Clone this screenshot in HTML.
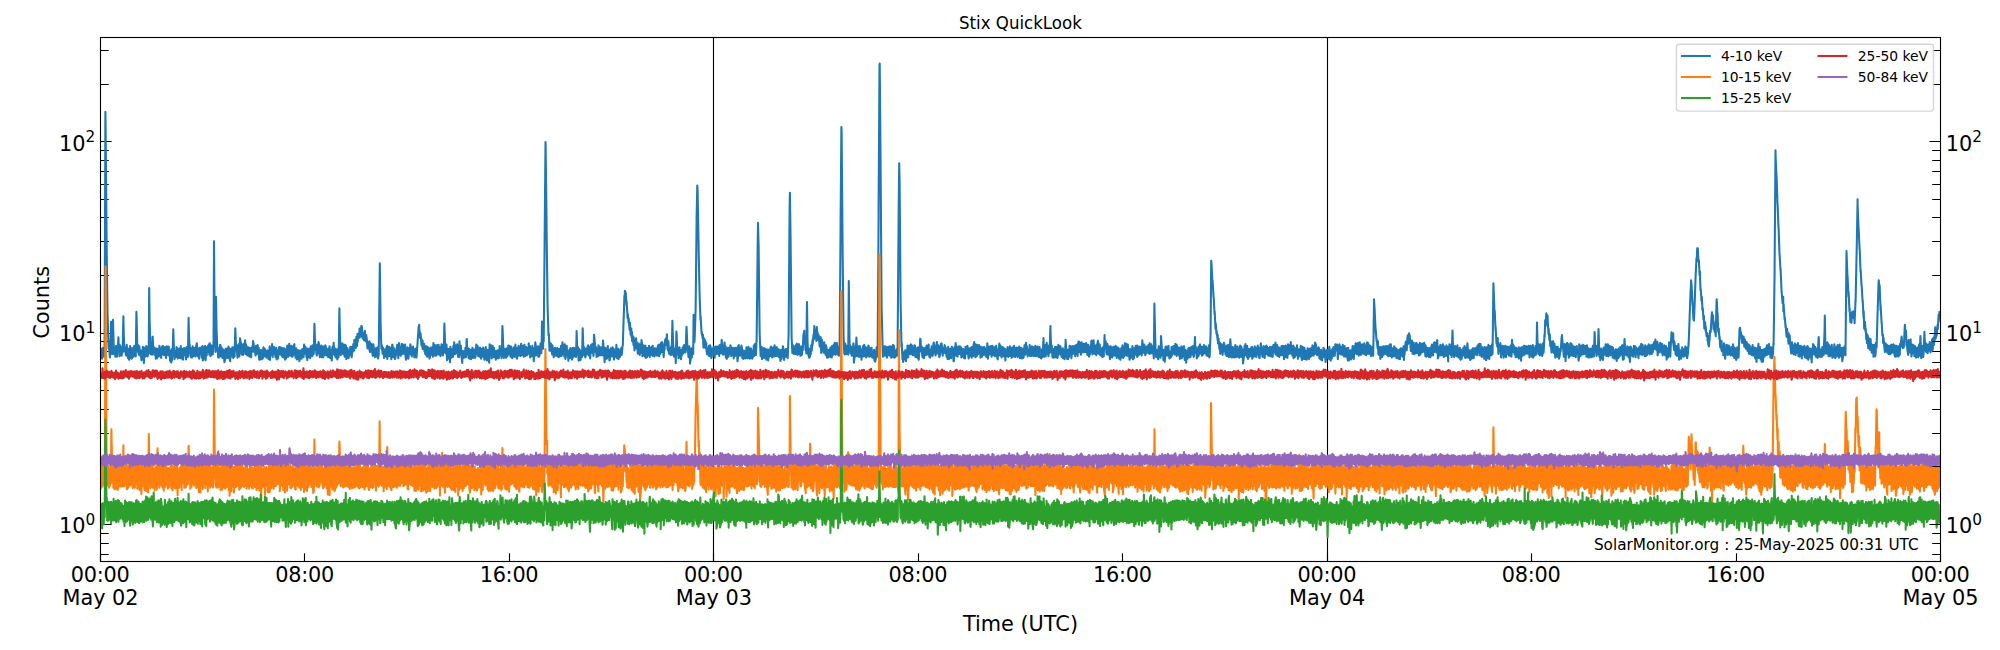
<!DOCTYPE html>
<html lang="en"><head><meta charset="utf-8"><title>Stix QuickLook</title>
<style>html,body{margin:0;padding:0;background:#fff}body{width:2000px;height:650px;overflow:hidden}svg{display:block}text{font-family:'DejaVu Sans','Liberation Sans',sans-serif;fill:#000}.t15{font-size:20.833px}.t12{font-size:16.667px}.t11{font-size:15.278px}.t10{font-size:13.889px}.sup{font-size:15.3px}.d{fill:none;stroke-width:2.083;stroke-linejoin:round;stroke-linecap:butt}.k{stroke:#000;stroke-width:1.111;fill:none}</style></head><body>
<svg width="2000" height="650" viewBox="0 0 2000 650">
<rect width="2000" height="650" fill="#fff"/>
<defs><clipPath id="ax"><rect x="100.50" y="37.50" width="1840.00" height="524.00"/></clipPath></defs>
<path class="k" d="M100.50,554.50h8.3M100.50,543.50h8.3M100.50,533.50h8.3M100.50,524.50h11.1M100.50,466.50h8.3M100.50,433.50h8.3M100.50,409.50h8.3M100.50,390.50h8.3M100.50,375.50h8.3M100.50,362.50h8.3M100.50,351.50h8.3M100.50,341.50h8.3M100.50,333.50h11.1M100.50,275.50h8.3M100.50,241.50h8.3M100.50,217.50h8.3M100.50,199.50h8.3M100.50,184.50h8.3M100.50,171.50h8.3M100.50,160.50h8.3M100.50,150.50h8.3M100.50,141.50h11.1M100.50,84.50h8.3M100.50,50.50h8.3M100.50,561.50v-8.3M304.50,561.50v-8.3M509.50,561.50v-8.3M713.50,561.50v-8.3M918.50,561.50v-8.3M1122.50,561.50v-8.3M1327.50,561.50v-8.3M1531.50,561.50v-8.3M1736.50,561.50v-8.3M1940.50,561.50v-8.3"/>
<g clip-path="url(#ax)">
<line class="k" x1="713.50" x2="713.50" y1="37.50" y2="561.50"/>
<line class="k" x1="1327.50" x2="1327.50" y1="37.50" y2="561.50"/>
<path class="d" stroke="#1f77b4" d="M100.7,358.1l.8-9.2l.1,.1l.5,9.6l.9-10.8v8.5l1.4,.4l.2-9.2v-.9l.8-234.7l.2,16l1,111v3.7l1,75.7v-2.8l1,32.9l.2-8.2l.8,13.3l.3,3.9l.7-12.9v1.7l.4-24.5l.6,22.2l.5,10.3l.5-7.5l.4-26.8l.6,22.3l.5,12.1l.5-6.1l.8,8.6l.3-1.5l.3-9.2l1,10.5l.4-11.1l.4,5.6l.6-13.7l.2,4.6l.9,14.3l.1-1.3l.6-9.6l.4,2.7l.3,6.6l.8,1l.5-8.6l.4,5.4l.8-36.2l.2,10.9l.7,24l.7-3.9l.6,5.4l.4,2.7l.6-9.9l.1-.8l.7,9.2l.6,4.2l.2-9.3l.4-.1l.5,11.1l.9-6l.1-7.8l.5,1.8l.9,10.9l.5-.4l.6-9.3l.2-.9l.6,7.7l.2,1l.6-11l.4,8.1l.6-8.2l.6,10.7l.6-44.6l.2,6.6l.7,28.3l.9,5.8l.1-7.1l.6,9.2l.4-8.3l.3,2.7l.9,7.2l.2-5.6l.7,9.5l.7-2.2l.3-6.1l.5-5.1l.7,12.8l.3,3.5l.7-13.1l.5-2.4l.2,9.1l.7-1l.3-9.6l.9,1.7l.4,8.8l.2-.8l.6-8.4l.3,5.9l.5-65.1l.4,31.6l1,34.5l.5-8.1l.1,8l.8,.6l.5-17.8l.2-.2l.8,16.5l.3-6.1l.4,7.6l1.1-6.5l.3,7.6l.2,3l.4-9.6l.7,9.3l.1-10l1.3,8.1l.2-6.1l.3,5.5l.6-10.3l.5,3.4l.2,6.5l1.1,2.2l.4-9.1l.3,3.6v-5.3l.9-1.2l.5,8.9l.7,.2l.3-7.6l.5,8l.5-7.3l.3-.9l.4,10.8l.7-11.6l.3,8.5l.6-8.1l.7,8.4l.4-8.5l.9,9.9v-6l.5,10.1l1.2,1.8l.2-13.2l.5,11l.5-10.8l.1,6.3l.7-26.4l.4,14l.8,15.8l.1-.8l.9-7.4l.5,6.4l.5-10.2l.3,1.9l.5,7.1l.3-7.6l.3,10l.7-1.1l.5-8.7l.7-.3l.5,9.7l.5-12l.7,12.3l.3-2.9l.7-6.8l.5,11l.6-11.2l.6-.5l.1,7.1l1.1-6.6l.2,6.1l.4,4.8l.6-8.3l.2-4.1l.7,10l.4-.2l.7-38.9v3.2l1,31.7l.1-8.2l.7,11.3l.6-7.5l.2,9l.8,0l.4-8.5l.3-2.7l.7,10.1l.9-8.2l.1,7.4l.7-5.7l.3,6.7l.2-.9l.3-8.3l.9-4l.6,12.3l.4-7l.6,8.2l.4-8.5l.4,10.5l.7-11.1l.2,5.8l1-6l.5,7.1l.3,3l.5-11.6l.2,3.6l.3,10.8l.7-2.7l.8-10.6l.6-1.2l.5,14.4l.2-1.2l.7-11.7l.3,7.9l.7-8.8l.7,5.4l.5-7l.1-.2l.7,10.1l.4-11.4l.7,12.8l.3-.9l.6-9.9l.2,.2l.5,8.8l.7,0l.8-13.5v-4.2l.4-95.4l.6,71.6l.9,39l.1-9.8l.4-45.3l.6,34.9l.9,19.2l.1-3.9l.6,10.4l.6,.1l.8-9.1l.1,5.9l.4-9.6l.6,1.5l.3,10.2l.7-8.7l.9,10.2l.1-3.3l.9-5.1l.1,1.1l.7,11.6l.9-3.2l.3-8.8l.4-1.6l.2,9.2l.4-8.9l.8,9.1l.3-2.5l.7-8.9l.5,1.8l.5,10.1l.8,2.8l.1-12.4l.4,8.7l.9-8l.2,5.3l.5-7.7l.9,10.7l.4-9l.1-1.5l.1,9.6l.8-.4l.7-28.4l.5,12.9l.5,8.5l.3-2.2l.9,10.3l.4-12.3l.4,8.2l.7-9.7l.3,12.6l.4-5.6l.3-12.7l.9,4.8l.7,10.5l.3,1.2l.7-9.8l.6,10l.4-11.1l.5,.4l.4,7l.6-10.8l.4,13.6l.5-9.8l.6,8.2l.1-6.1l.5,9.1l1-8l.3,7.4l.3-6.2l.4,7.9l.7-8.7l.6,8.8l.7,.7l.2-9.6l.7,3.9l.5-6.1l.2,4.6l.2-9l.7,3.1l.5,7.9l.9-5.4l.4,8.8l.4-.6l.1-9.1l1.1,.9l.3,6.8l.2-8.5l.8,9.5l.3-6.8l.5,12l1-.5l.3-7.8l.4-1.3l.6,9.1l.7-8.9l.4,8.4l.2-1l.6-10.4l.2,9.7l.5-8.6l.6,.3l.4,7.5l.7-5.7l.7,7.1l.2-.2l.8-5.4l.3-1.6l.7,8.7l.2-.3l.9-10.2l.1-2.3l.3,13.7l.8-11.8l.7,6.5l.5-.9l.1-9.7l.7,12.8l.1-10.2l1.2,.5l.1,6.4l.8-4.3l.4,7.6l.8-9l.3,9.8l.1,1.7l.4-8.9l1,8l.5-9l.2,5.5l.2-7.5l1.1-.4l.6,7.1v.6l.5-5.7l.5-1.3l.6,8.9l1.1,.6l.2-9.1l.7,6.2l.2-6.2l.2,2.9l.5,8.6l1.3-2l.2-8.6v5.1l.7-8.7l.4,1.2l.5,10l.6-4.3l.4-8.5l1.1,11.7l.3-8.7l.8,7.7v-8.9l.4,2.5l.3,8.6l.8-1l.1-8.2l1.4-3.5v10.3l.6-5.2l.5,8.6l.6-9.5l.4,8l.3,3.1l.1-9.8l.9,3l.2,6l.9-8.3l.4,11l.5-2l.3-7.4l1-1.6l.3,7.7l.2,.7l.8-9.6l.4,.3l.8,7.7v-1.1l.5-11.4l.8,9.1l.3-7.1l.7,2.3l.6,8.3l.3-8.4l.5,11.5l.5-11.7l.2,8.8l.6-1l.5-7.2l1.1,9.1l.2-10.1l.4-1.9l.8,8.8l.7,1.1l.3-10.8l.5,.8l.3,8.1l.4-.8l.6-29.8l.2,6.4l.7,19.5l.3-4.4l.9,9.3l.3,1.1l.3-10.9l.9,8.4l.5-11.1l.8,3.4l.2,9.1l.3,2.6l.1-9.5l.9,8.6l.6-10.6l.2,11.7l.8-10.8l.8,10.8l.3-10.7l.3,.1l.6,8.2l.2,.5l.8-10.2l.5,2.5l.4,7.3l.3,.3v-6.2l1.2,7.7l.6-8.2l.4,8.6l.7-10.9l.2,1.1l.5,10.6l.4-8.1l.8,7.9l.4,2.7l.6-13.2l.5-.8l.1,7.6l.7-11.2l.5,11.7l.8-6.1l.2,7.3l.5,1.6l.5-6.4l.9-1.9l.2,10.4l.7-9.8l.5,7.8l.2-3.4l.7-45.7l.2,12.8l1,31.5l.2,2.4l.6-9.7l.4,6.4l.5-8.4l.7,3.4l.1,7.5l.9-9.8l.4,9.2l.3,3.1l.8-11.7l.4,1.1l.4,13.1l1-3.7l.1-7.5l.8,3.2l.2,6.1l.2,.8l1-6.6l.1,3.4l.6-8.3l.7,.3l.6,10.3l.1-.3l.9-10.1l.3,4.7l.4-7.5l.9,6.4l.1-10.4l1,5.9l.1-6.6l.6,8.3l.4-11l.7,9.3l.3-12l.3,7.6l.6-7.9l1.1,4.1l.1-7.7l.2-1.6l.9,8.2l.1-.6l.6-10.1l.5,.3l.8,11.8l.4-4.4l.4,5.2l.6,1.3l.2-6.6l.7-2.9l.3,10l.5,.6l.5-6.3l.6,4.1l.7,9.4l.8-.2l.2-5.8l.9-1.2l.2,8.8l.3,1.8l.1-9.2l1.2,8.9l.4-7.6l.4,.3l.6,11.5l.1-.5l.6-11.1l.3,2.2l.9,9.7l.1-7.7l.4,8.7l.8-1.2l.4-7.9l.4,.8l.3,7.9l.8-9.5l.3,11.3l.7-3.8l.9-72l.2-19.3l.8,60v.6l.8,24.8l.6-3.3l.6,8.2l.3-6.2l.6,5.7l.3-2.6l.2,7.4l.6-8.4l.1,6.3l1.3,.8l.2-7.8l.9-3.1l.2,13.2l.4-5.2l.5-7.1l1.1,9.4l.1-9.2l.3,1l.9,8.2l.2-7.6l.5,10.6l.6-4.3l.3-10.2l.4,.7l.9,11.8l.3-9l.4,8.4l.6-6.1l.2,8.6l.8-3.3l.7-7.7l.4,6l.3-9.3l.4,2.3l.7,11.3l.7-15.2l.2,10.7l.5-7.2l.5,7.8l.6,1.3l.8-11.6l.4,10.1l.3-10.2l.4,8.7l.3-8.1l.8,1.6l.4,7.7l1-9.4l.2,10l.5,5.2l.6-11.3l.2,7.3l.5-7.6l.4-.7l.5,11.3l.5-1.8l.5-8.7l.7,6l.5-10l.5,2.3l.6,8.1l.5,1.9l.6-8.1l.6-1.9l.4,8l.3-5.7l.6,8.7l.3-.2l.9-7.6l.3-1.2l.6,8.9l.2-2.6l.9-12.4v-.6l1-14l.6-3.1l.1,10l.3-4.2l.5,7.5l.5-4.7l.9,12.1l.1-6l1,9.6v-8.5l.3,7.7l1.3-4.3l.3,7.2l.1-5.5l.6,8.4l1-7.6l.2,9l.3-8l.5,9.2l.4-9.8l.7,9.3l.5-7.8l.7,10.3l.5-1.9l.5-7.9l.1-1.3l.5,6.1l.6,1.1l.5-7.4l.7,9.3l.5-13.6l.2,4.5l.9,7.8l.4-10.2l.5,10.6l.4-8.1v8.2l1.2-1.2l.1-9.5l.9,7.3l.1-6.1l.5-1.6l.5,9.9l.9-7.2l.5,8.7l.3-1.1l.7-10.6l.4,.2l.7,8.2l.3,2.6l.5-8.3l.3,5.8l.7-29.4l.2,6.7l.9,22.5l.9,1.3l.1-9.4l.5,15.6l.4-10.4l.2-1.1l.4,7.5l.8,2.5v-9.7l1.2,13.1l.4-15.4l.2,1.9l.9,9l.4-8.3l.2,7l.8,.6l.5-11.1l.3,8.4l.5-11.8l.9,11.8l.4-9l.2,.8l.5,7.2l.4-.4l.6-8.6l.5,2.3l.3,10.2l1,.4l.5-15.7l.1,2.9l.4,10.1l1-8.6l.4,10.1l.9,7l.1-11.7l.3-.1l.3,7.1l.6-6.9l1,6.2l.5-1.9l.3-7.8l.6,9.4l.6-17.5l.2-.7l.5,15.3l.9-5.9l.2,7.5l.3,2.3l.7-9.1l.8,9.8l.3-6.3l.5-2.5v9.1l.6-2.2l.8-9.1l.3,3.7l.4,6.4l.9-8.7l.5,7.5l.3-6.2l.2,7.3l.6-1.2l.7-12.1l.4,9.2l.7-7.9l.5,1.6l.3,8.8l.8-8.3l.1,5.3l.9,3.6l.1-9.4l.5,1.6l.5,9.7l.6-2.6l.4-7.4l.9,7.7l.2-9l.5,3.9l.6,8.4l.7-9.3l.2,7.3l.6-10.7l.8,12.8l.3,.5l.1-7.7l.6,6.2l.1-9.1l1.5,12.9l.4-18.4l.1,1.9l.3,8.8l1-9.7l.6,12.9v.3l.9-9.2l.1-3.5l.2,11.6l1.2-9.7l.5,9.6l.1-6.8l.9,5.7l.3,3.4l.8-8.5v-.4l.9,7.4l.1,.1l.2-8l1,7.9l.6-7.8l.3-4.2l.7,8.7l.4-5.4l.7,8.7l.4-2.1l.5-29.9l.2,3.1l.8,22.2l.5,6.5l.5-9l.6,6.9l.5-7l.1,.2l.4,8.6l1.4-9.9l.1,8.5l.1-.7l.6-10l.4,8.8l.5-8.5l.7,.3l.7,10.4l.5-10l.5,10.7l.8,.9l.3-9l.7,7.4l.2-9.2l.7,1.4l.1,6.6l.3,1.5l.8-12.2l.4,4.7l.6,7.3l.6,2.1l.6-10.8l.2,8l.8-10l.2,.2l.4,9.3l.7-7.8l.6,8.4l.6-12.2l.5,10.1l.1-5.9l.3,7.2l.7-.8l.1-8.5l1,10.7l.6-11.7l.4,2.3l.5,8.8l.5-.9l.4-8.1l.8,8.2l.6-7.5v5.6l1-6.8l.1-3.1l.7,11.3l.6-8.4l.2,11.1l.7-2.7l.6-7l.2,8.6l.6-10.5l.4,10l.5-7.8l.6,13.2l.5-10.7l.3,5.6l.7-13.8l.7,5.2l.4,7.8l.7-8.2l.1,8.4l.8-9.3l.5,10.4l.4-9.9l.3,9.9l.6-3.8l.7-9.3l.8,9.8l.3-8.4l.1,.7l.3-24l1,27l.5-12.9l.2,5.8l.9-96v-1.5l.9-102l.1,2.8l1,80.7v4.4l1,77.3v-1l.9,29l.4-1.1l.6,16.7l.7-7.7l.2,7.3l.5-6.9l.7,7.7l.7,3.3l.1-9.3l.4,3.7l.8,6.4l.1,1.8l.3-7.9l1-1.4l.5,7.6l.5-6.8l.4,7.2l.9-7.8l.3,6.5v1.8l.9-6.6l.2,7.6l.5-8.6l1.2,1.1l.1,6.5l.5-10.5l.4,10.1l.3-.2l.8-13.3l.3,3.2l.7,8.9l.7-7.5l.2,9.7l.4-12.4l.6,14.6l.6-3.4l.2-7.3l.5-2.4l.5,8.7l.7-3l.4,9.3l.3-2.5l.8-8.4l.4,8l.5-9.8l.8,2.4l.3,6.4l.6,2.7l.4-11.2l.4,9.3l.6-10l.8,1.2l.2,7.4l.8,0l.4-8.5l.4,9.2l.6-23.2v-2.8l.8,23.5l.6-7.5l.5,11.9l.2,1.7l.5-11.5l1,1.7l.3,9.1l.3-2.2l.7-6.9l.6,6.2l.5-24.8l.1-4l.9,26.4l.3-7.7l.1,8.2l.6-6.9l.7,9.3l.4-1.6l.4-7.4l1.3,5.7l.2-7.5l.4-1.4l.5,9.2l.4,1l.6-8.6l.1,1l.6,10.5l.8-13.3l.3,7.6l.9-8.6l.2,8.6l.4-7.5l.6,10.7l.2-1.4l.4-19.8l1,9.6l.4,7.5l.4-5.1l.8,10.3l.1-8.4l.3,5.6l1,2l.4-10.9l.5,10.2l.5-9l.7,2.1l.5,6.7l.6-.4l.3-7.7l.3,.1l.2,6.7l.6,1.4l.4-14.8l.7,8.2l.6,7.8l.3,5.5l.5-14.4l.7,11.4l.6-10.6l.6,10l.4-9.4l.4-3l.5,10.8l.4-6.9l.7,10.5l.4-.4l.6-10.6l.3-1.3l.4,8.2l1.4-9.1l.1,8.5l.1-8.1l.7,9.8l.4-8.6l.2,10.7l1.2-9.3l.3,6.5l.2-.3l.7-11.8l.2,6.6l.3,6.7l1.2-9.2l.3,10.4l.6-8.8l.5,7.1l.6-.8l.3-7.5l.8,5.3l.3-7l.2,7.5l.9-9l.2,0l.8-26.7l.1-.8l.7-22.7l.3,2.4l.2-7.5l.8,2l.9,13.1v-4.6l1,17l.2-4.1l.7,8.3l.1-4.4l1,11.6l.4-6.7l.6,11.9l.7-6.3l.2,8.4l.5-4.9l.1,9.1l.5-5.4l.9,9.2l.2-7.6l.8,13.2l.2-10.1l.1,9.1l1.3-11.3l.3,10.1l.6-6l.6,8.7l.2,2.7l.6-7.7l.4-2.4l.6,9.9l.4,1.5l.4-10.2l.7,8l.6-12.7l.6,5.1l.3,11l.9-9.6l.2,6.9l.1-8.2l.5,9.2l.6,1.6l.8-10.3l.2,12.2l.2-9.7l1,9l.5-9.2l.2,7.1l.9-6.8l.1,7.2l.4-9.7l.8,11.1l.6-9.2l.8,.4l.3,6.6l.3-8.1l.8,9.2l.1-10.2l.2,9.5l.8-6.9l.7,8.2l.2-.5l.4-7.7l.9,.8l.2,4.8l.8,1.7l.6-8.6l.2,8.4l.4-10.2l1.1,11.1l.1-11.8l.7,0l.4,9.3l.7-11l.3,8.9l.2,.4l.5-10.1l.5,1.9l1,11.5v1.7l.9-10.4l.1,2.8l.4-9.5l1.2-1.7l.2,6.6l.5-10.7l.6,14.3l.5,1.9l.4-9.2l.3,3.9l.3,8.5l.8-5.4l.5,6.2l.4,.6l.6-8.7l.4,8.4l.7-33.9l.2,7.2l.9,25.9l.4,2.6l.7-7.9l.4,.7l.6,8.4l.2,5.4l.6-31.5l.3,3.6l.7,19.1l.6-6.6l.5,10.6l.3-2l.7-9l.2,3.7l.7,5.6l.6,2.7l.5-9.6l.2,5.9l.9-7.9l.7,5.7l.1-7l.3,4.2l.4-5.5l1.1,7.3l.3-7.3l.2,4.1l.8-22.3l.2,3.7l.9,21.3l.1-5.4l.8,10.7l.1,0l.6-10.9l.6,4.2l.2,13.1l.8-5.4l.7-10l.2,9.4l.7-7l.8,3.4l.4-39.2v4l.7,23.4l.3-2.3l.9-26.9l.1-1.1l1-91.1v-4.4l.7-30.8l.3,6.2l1,54.1v3l1,45v1.3l.9,24.8l.1-4l1,17.8l.2-1.6l.8,6.2l.4-3.6l.4,11.7l.2,1.1l.2-9.6l1.6,3.3l.1,7l.7-5.5l.4,9.2v-4.8l.4,7.1l.7-5.3l.8,5.9l.4-9l.4,10.4l.5-.8l.4-10.3l.5,2.7l.7,10.2l.4-2.1l.3-7.1l.8,5.7l.7-7.7l.4,.1l.1,9.1l.6-8.2v9.8l1-11.1l.1,7.6l.9-.6l.6-7l.7,7.1l.2-7.1l1,9.3l.2-7.9l.2-3l.3,8.3l1.1,0l.4-8.8l.3-4.6l.8,13.3l.3,1.3l.7-9.3l.2,9.6l.7-12.3l.3,.7l.3,10.3l.7-6.9l.2,10.7l.9,1.5l.6-10.8l1-.1l.1,8.9l.1-1l.9-6.2l.2,4l.7-8.4l.5,2.2l.2,8.5l.7-8.3l.4,7.5l1.1-1.1l.1-5.9l.3,10.3l.9-9.6l.2,7.2l.3-8.2l.7,1.4l.3,6.6l.8-7.9l.6,13.4l.6-5.2l.2-10.3l.5-.7l.3,10.4l.8-7.6l.3,7.9l.5-1l.7-9.2l.4,1.3l.6,11.2l.9-7.5l.1,8.4l.7-7.8l.3,6.4l.5-6.9l.6,7.7l.9-.8v-10.2l.7,.8l.3,8.7l.6,1.5l.5-11.6l.2,1.5l.8,8.8l.3,1.5l.5-10l.3,9.3l.3-9.6l.8,2.9l.5,7.4l.7-1.6l.7-7l.2-4.4l.4,10.3l.4-3.3l.3-8.5l1.1,10.8l.5-13.7l.1,1.3l1-88.3v-2l.4-29.4l.6,22.4l1,84.9v2.3l1,23.7l.3,0l.3-8.4l.5-.8l.4,12.2l.7-10.3l.6,7.6l.4-8.4l.4,10l.9-9.3l.5,8.4l.5-7.8l.2,10.4l.8-1.8l.3-8.3l.8,10.9v-10.9l.6,8.2l.2-7.4l.6,5.2l1-8.3v8.6l.5-9.3l.8,1.5l.2,9.3l.9-2.2l.2-7.5l.7,8.8l.7-11.1l.1,2l.9,8.4l.2,.2l.6-8.6l.4-.2l.5,8.6l.7,.4l.4-7l.4,.2l.3,7.7l.9-6.1l.4,10l.6-11.2l.5,9.1l.1-.4l1-8.1v5.5l.3-9.7l.9,4.4l.3,9.3l.7-9.6l.7,6.5l.2-.5l.2-7.3l1,.4l.6,8.3l.2,.5l.9-23.4v.7l1-127.2l.3-15.6l.7,46.7v2.4l1,94.6v1.1l.8,15.7l.4-8.1l.2,7.9l1.2,1l.4-7.4v7.4l.8-8.3l.6,8.3l.4-9.7l.5-.6l.6,11.2l.2-2.1l.6-7.8l.6-.8l.5,9.9l.3-7.3l.7,9l.8-9.5l.3,8.9l.3-.4l.8-8l.2,3.5l.5-14.3l1-5.3l.2,10.6l.2-5.1l.8,13.7l.2-5.4l.6,8.9l.7-51.3l.6,42.5v-1.2l.8,12.1l.4-7.1l.3,9.3l.8-.9l.3-7.7l.6,5.1l.4-8.9l.5,5.4l.9-11.2v5.3l.9-10.3l.3,5l.5-13.4l.3,11.8l.1-8.1l1.2-.1l.4,11.2l.5-13.8l.6,12.8l.2-7.3l.9,7.7l.2-5.3l.9,10.4l.2,1.2l.6-8.9l.3-.6l.5,15.8l.8-13l.5,9.2l.1-5.9l.8,7.8l.3,1.6l.5-10.4l.8,11l.4-7.7l.2,9.5l.4-9.6l.6,2.8l.4,9.6l.7-7.4l.4,7.1l.9-7.7v7l.6-.5l.8-8.7l.5,9.5l.3-8.5l.6,8.8l.2-11.3l.7,9.2l.9-9.5l.2-1.3l.2,9.5l.9-11.1l.5,11.7l.4-.1l.1-8.6l1-2.9l.7,11l.4,.7l.4-7l.6,7.9l.3-9.5l.3,2.5l1-124v-5.6l.8-92l.2,5.1l1,115.5v4.1l1,85.7v-.3l.7,16.3l.4,.9l.5-10.7l.7,10.7l.6-7l.2-1.5l.7,7.9l.8,.9l.4-43.8l.2-29.8l.8,66.7l.1-3.6l.8,9.3l.3,.1l.4-6.8l.6,8.9l.4-8.9l.6,8.8l.6-12.1l.4,2.4l.1,16.8l.9-7.7l.6-7.2l.2,8.8l.8-18.9l.3,4.6l.3,10.2l.6,3.9l.6-9.9l.6,3.3l.4,7.2l.7-10.9l.7,9.5l.1-5.9l.8,10l.4-5.7l.5-4.8l.6-3l.4,10.3l.3-3l.5-8.7l1,11.5l.4-9.1l.2,1.2l.4,9.2l.5-.8l.1-8.4l1,7.2l.5-10l.4,.8l.5,10.5l1-8.4l.2,7.8l.2-.2l1-8.2v.9l.6,8.8l.9,.3l.4-5.7l.6-2.3l.3,10.6l.3-9l.5,10.3l.6-3.2l.8-10.5v-.7l.8,9.3l.2-1.5l1-136.6v-11.7l.9-141.8l.2-1.4l.9,99.1v4.9l1,138.1v1.9l1,38.7v.8l.4,9.7l1.3-1.5l.2-8.9l.4,8.3l.4-8.5l.9,1.7l.1,8.2l.7,1.5l.3-10.6l.4,8.5l.1-7l1.3-2l.3,9l.3,.2l.5-9.3l1,11.2l.2-11.1l1,10.6l.1-8.1l.5,4.7v-8.9l1,1.3l.3,11.7l.6-7.3l.1,6.8l.6-.7l1-7.6l.4,6.8l.6-9v2.4l1-130v-1.8l.6-54.2l.4,18.2l1,119.9v.4l.9,45l.2-4l.8,16.5l.6-5.8v8.6l1.1-4.1l.2-6.6l.5,6.7l.4-7.6l.7,10.9l.4-11l.7,7.3l.4-12.1l.1,3.1l.6,8.7l.6-11.5l.4,7.8l.6-8l.7,8.6l.1-.8l.3-9.1l1,1.4l.3,8.1l.5,1.4l.1-7.6l.8,7.7l.8-10l.6,.4l.5,11.2l.3-9.2l.7,7.3l.3,2.3l.6-7.2l.5,8l.1-10.7l.7,12.3l.8-9l.2,1l.5-13l.4,1.2l.4,11.2l.7-4.6l.5,8.8l.4,2l.7-9.3l.7,10.3l.5-8.8l.2,6.3l.4-8l.8,7.2l.7-9.5l.3,1.5l.1,7.6l1.3-.6l.3-9.5l.1,3.7l.7,8.6l.8,.8l.4-7.7l.4,5l.6-8.5l.2,.4l.7,9.2l.4-1.5l.5-10.4l.4-1.5l.8,9.9l.1-5l.8,8l.2-1.3l.3-7.6l.9-4.6l.6,11.4l.3-8.5l.5,8.3l.4-7.1l.6,11l1-3.1l.2-7.6l.5-2.9l.2,8.3l.4-8.2l1,8.7l.1,3.4l.9-7.8l.6,4.3l.4-7.2l.4,1.6v6.6l.8-5.6l.8,9.4l.9-6.5l.1,8.6l.2-1.1l.4-11.1l.8,12.1l.4-8l.8-2.2l.1,8.1l.5-8l.2,9.4l.9-11.5l.5,7.2l.4-5.6l.7,12.9l.3,0l.8-14.2l.3,8.4l.7-12.5l.4,2.8l.4,9.9l.8,.8l.2-6.2l.2,6.1l.6-9.9l.5,0l.3,7.4l.8-7.6l.6,7.9l.6-6.8l.3,10l.9-1.9l.2-5.8l.6-.8l.6,8.6l.2-7.9l.1,8.5l1.2,.4l.4-11.8l.1,1.1l.3,6.3l.9-.5l.6-7.9l.2,3.3l1,9.4l.5-1.6l.3-8.5l1,7.3v-6.7l1.1-1.7l.1,10.6l.8-10.6v7.9l.7,1.1l.5-11.9l.4,8.3l.2-10.5l.4,4.5l.8,10.7l.4-13.1l.3,12.4l.8-.9l.4-10.6l.9,1.1v7.9l.5-.9l.3-8.1l.9,2.8l.6,9.7l.5-10.7l.5,9.3l.5,.6l.5-7.9l.4-1.5l.4,7.6l.5-.9l.3-7.4l.7,1.3l.7,7.7l.2-7.2l.7,8.4l.5-.3l.4-13.3l.6,15.3l.7-9.6l.2,6l.5-8.5l.3,1.1l.8,6.6l.5-8.2l.5,7.7l.2,2.9l.9-10.8l.3,1.2l.7,8.3l.3-.7l.7-7.2l.4,8.9l.7-7.5l.6-3l.3,7.8l.1-5.3l.5,8.9l.7,2.3l.2-9.7l.6,3.5l.7-9.7l.5,11.9l.7-10l.5,3.5l.4,7.2l.3,1.3l.9-9.6l.1-.8l.6,8.3l.6-7l.1,8.1l.6-8l.8,11.9l.4-10.9l.8,6.4l.1-.4l.9-8.5v1l.6,8.9l.7-8.7l.4,7.8l.6-.3v-9.4l.9,2.6l.8,8.9l.5-1l.4-9.4l.9,.2l.2,8.9l.5-10.8l.4,8.6l.3-6.5l.2,9.2l1-2.3l.6-7.2l.1,.2l.9,9.4l.2-1.1l.2-7.9l.9,7.1l.3-8.7l.7,11.8l.7-10.5l.3,0l.6,8l.1,2.6l.8-9.8l.4,9.5l.6-8.7l.2,8l.9-12.1l.8,9.4l.2-8.7l.5-3.2l.5,10.4l.1-.3l.4-6.6l.7,10.2l.1-6.9l1,.1l.6,5.3l.2-10.1l.5,11l.8-8l.2,8.1l.5-1l.3-8.7l.9,9.4l.3-8.7l.6,3.1l.4,6.2l.6-1l.6-9.5l.6,2.5l.1,7.9l1.1-1.2l.5-8.5l.3,.8l.5,9.4l.6,.5l.5-10.1l.1,.3l.7,9.9l1,1.2l.2-9l.2,.7l.1,5.9l.8,.8l.9-18.8l.1,3.3l.8,15.4l.9-2.6l.1-9.2l.4,11.3l.7-9.9l.2-3.7l.9,11.1l.5-7.8l.3,10.3l.9-11.2l.2,8.1l.1-.6l.8-26.5l.2,9l.9,17.3l.3-6.8l.7,11.9l.4-7.9l.1,6.3l.8-6.8l.2,8.5l1.1-10.8l.4,9.7l.5,.8l.3-10.4l.6,.2l.6,10.8l.1-1.2l.8-11.9l.4,9.8l.3-8.7l.8,7.4l.5-7.1l.2,2l.5,6.7l.7,2l.6-6.9l.4-1.7l.1,9.8l.8-8.1l.7,8.1l.2,1.2l1-16.7v-2.8l1,16.5l.6,2.6l.4-9.1l.6,9.2l.3-9.5l.5,7.5l.6-11.3v1.3l.7,7.6l.5-8.3l.6,12l.2-3.9l.3-7.9l.8,7.7v-8.2l1,6.6l.8-6l.2-.7l.5,10.4l.6-10.9l.5,8.6l.8-9.5l.5,11.4v-.4l.8-13.9l.8,.1l.2,8.5l.3,2l.5-9.5l.7,12l.7-11.5l.1-1l.2,9l1.3,1.2l.4-8.6l.4,8.2l.3-8.2l.5,.6l.1,7.4l.8,.1l.4-8.9l.5,2.7l.8,9.3l.2-.8l.7-9.4l.7,3.9v7.9l.9-2.4l.7-7.6v5.3l.8-11.1l.3-.2l.7,13.8l.4-1.1l.8-13l.1,2.2l.7,11.2l.3-8l.7,7.1l.5-7.5l.3,10l.4-2.9l.5-7.6l.9-4.1l.3,12.9l.4-10.1l.8,9.6l.3-8.2l.3,10.1l.7-6.2l.4,7.1l.4-7.6l.8,8.6l.5-9.6l.4,7.6l.4,1.5l.9-21.3v2.4l.7,10.8l.4-7.1l.8,12.7l.8-1.2l.1-8.9l.6,11l.3-8.6l.6,.4l.6,7.1l.5,5.5l.6-11.7l.2-1.1v9l1.3,2l.4-9.8l.5,6.7l.6-7.6v8.9l.4-8.1l.7,8.1l.8-9.7l.4,.4l.6,8.8l.2,2.8l.7-10l.3-.5l.9,6.5v-5.9l.4,10.4l.7-8.8l.6,10.2l.4-4.3l.6-7.4l.4,9.3l.8-12.2l.1,1.8l.6,11l.8-11.2l.3,9.5l.3-3.7l.3-9.2l.9,11.5l.5-11.2l.3,2.5l.4,9.5l.9-11.2l.6,11.4l.4-6.7l.6,10.6l.2-1.3l.5-9.4l.4,9.1l.5-8l.5,5.5l.8-9.7l.3,4.6l.2,8.6l1.2-1.1v-9.8l.6,6.1l.8-6.7l.2-1.8l.5,9l.9-9.3l.1,11.3l.9-1.4l.2-8.4l.5,7.9l.3-8.5l.6,7.7l.5-7l.4,6.4l.2-6.9l.9,8.8l.6-15.1l.4,3.4l.5,9l1,0v-8.2l1.1,10.7l.3-8.4l.1,7.3l.8-7.4l.3,5.6l.6-6.1l.4,6.5l.7-7.7l.9,8.9l.2-9.7l.1-.9l.9,8.6l.2,1.5l.4-9.3l.6,8.6l.1-6.2l.7,6.7l.2-7l1,12.2l.6-54.9l.2,10.4l1,38.7v-2.8l.5,7l.6-6.8l.7,7.3l.9,1.9l.2-10.7l.3-2.3l.5,9.4l.4-8.8l.8,10.7l.3-4.8l.2-16.8l.8,11.8l.7,7.7l.4-5.6l.5,10.3l.8-10.5l.3,7.9l.3,4l.8-14.9l.8-.1l.2,8.8l.2,.2l.5-7.8l.7,7.9l.5-9.8l.1,3.4l.8,9.1l.5-6.6l.7,5.9l.5-.7l.4-10l.4,.7l.1,7.7l.9-8.9l.1,7.4l1-7.9l.4,7.9l.4,.6l.6-10.6l.8,1.3l.4,10.8l.2-11.2l.6,9.4l.9,.5l.1-7.1l.8,.2l.3,8.3l.2-7.5l.1,10.3l1.2-2.9l.3-9.4l.3,1.8l.2,9.8l1.2-3.3l.4-8.3l.6-.4l.5,11.9l.3,1.9l.7-10.2l.3,.4l.4,12.5l.5-11.1l.8,7.2l.2-2.8l.5-7.2l.9-1.1l.1,9.6l.8-9l.5,8.6l.1-1.4l.8-8.8l.5,1.3l.3,6.4l.8-8.3l.6,10.8l.4-.9l.5-8.5l.5-10.5l.4,15.7l.3-6.1l.8,7.4l.3,4.4l.6-9.4l.5,7.8l.4-9.7l.4,8.7l.3-8.4l1.1-3l.2,8.9l.6,.4l.5-6.9l.6,9l.6-9.1l.3,7.9l.7-7.9l.1,7.1l.3-8.7l1,8.2v-6.3l1.1-.7l.4,9.2l.5-7.5l.2,7.2l.8,.8l.5-7.2l.4-3.5l.4,12.2l.4-2l.9-22.7v.3l.6-72.4l.4,4.5l.8,18.6l.2-2.9l1,17l.1-.3l.9,17l.1-3.1l.8,17.5l.2-5.6l.8,10.5l.1-3l1,8.9l.1-4.9l.3,8.6l.6-4.8l.8,10.1l.5-6.1l.3,11l.5-2.7l.3-7l.9,.8l.5,7l.2,3.2l.9-11l.1,7.3l.3-8.4l.9,2.8l.7,8.6l.7-6.4l.3,8.1l.2-2.1l.3-8.4l.8,10.4l.5-11l.6,2.8v9.5l.7-1.9l.7-15.9l.6,8l.3,9.8l.5-9.8l.3,10l.9-10.3l.6,9.8l.5,.6l.6-9l.2,5.8l.5-9.2l.7,12.2l.4-10.5l.9,9.1l.2-8.6l.1-.8l.3,10.2l.8-8l.5,9.1l.9-12.2l.5,10.2l.1,1l.5-10.3l.7,3.6v6.9l.8-7.4l.3,13.8l1-7.5l.5-9.8l.3,9.4l.6-11.5l.5,11.2l.5-9.2l.8,11.4v-11.7l.8,13.2l.5-9.8l.1,8.5l.9-8.1l.2,6.9l.4-7.5l1.1,7l.3-9l.4-.1l.3,11.9l.7-2l.6-7.8l.3,7.8l.8-10.4v1l.9,8.6l.5-8.1l.3,9.3l.3-1.3l1-9.4l.2-.8l.8,8.9l.1-6.5l.4,9.5l.5,.7l.8-10.1l.4-4.8l.7,11l.2-5.7l.8,8.3l.3-2.2l.5-8.1l.4-.6l.9,11.9l.2-1.3l.2-8.3l1.4-2.8l.1,8.5l.6-7.2l.5,8.1l.5-6.9l.1,7.6l.4-7l.3,7.2l1.1-8.9l.5,9.3l.4,.2l.7-8.9l.4-.6l.4,9.1l.2,.9l.8-11.8l.6,6.6l.4-6.9l.2,7.7l.8-9.9l.2,1.3v10.6l1.5-9.5l.3,10.9l.5-9.1l.6,9.3l.7,.8l.2-9.2l.5,7.4l.6-6.4l.4,6.4l.6-9.1l.2,9.1l.1-8.3l1-1l.8,10.3l.4-10.1v13.2l1-11.9l.3,10l.5-11.8l.7,10.8l.3-9.5l.6,11.1l.2-4.3l.4-9.3l.8,9.6l.4-8.6l.9,8.1l.5-8.5l.2-2.9l.5,11.5l.5-7.7l.6,9.9l.9-10.1l.2,12.6l.4-2.4l.4-8.5l.4,.8l.1,8.9l1-7.7l.4,6l.8-9.9l.5,8.4l.5,5l.6-9.3l.3,6.9l.7-7l1,6.3v-8.4l.2-1.5l.3,10.3l.8,3.9l.7-10.7l.1-2.5l.7,11.7l.5,.5l.6-11.1l.2,4.6l.2,6.4l1-7.9l.7,8.6l.1-.9l.9-10.4l.1,.5l.6,9.7l.4-7.6l.3,8l.6-10.2l.5,8.2l.7-.5l.6-8.7l.5,7.9l.6-10.2l1.1,1v9v.2l.1-8.9l.9,7.2l.4-11.3l1.1,2.4l.4,8.9l.3-5.7l.4,7.1l.7-1.5l.6-6.4l.5,.8l.4,10l.2,.3l.6-7.8l.4,8.7l.5-9.7l1,10.8l.5-9.4l.6,6l.3-9.2l.5,8.6l.2-7.7l.6,1.7l.4,6.7l.4,4.8l.9-11.5l.1,8.2l.5-8.8l.6,.1l.1,7.3l.8,1.4l.7-12l.5,3.9l.2,8.9l.8,1l.8-8.5l.2,6.5l.1-8.5l1-1.6l.2,7.9l.6-9.3l.4,7.6l.7,1.1l.5-11.4l.7,6.2l.4-5.7l.9-.2l.2,7.4l.3,7.2l.7-11.9l.1,5.7l.9-8.7l.2,1.2l.7,8.9l.4-.2l.3-7.2l1.2,7.8v-7.1l.5-3l.7,10.2l.7,1.6l.3-10.5l.3,2l.4,6.8l.9,1.9l.3-7l.6-1.6l.5,9.1l.3,3.2l.4-12.6l.8,12.7l.5-9.2l.8,7.2l.2-8.3l.7,9.2l.3-7.8l.1,6.7l1-12.2l.2,1.1l.7,8.4l.3,3.3l.6-12.7l.8,7l.4-9.9l.4,2.7l.1,7.6l.7,.4l.8-11l.1,.2l.8,9.8l.2,2.6l.8-13.2l.3-.1l.8,9.6l.2,3l.7-10l.3,8.8l.5-9.4l.9,.5l.3,8.9l.2-1.9l.5-8.5l.7,3.7l.3,7.6l.8,.5l.5-8.3l.5-4.3l.5,11.2l.4-11l.3,11.3l.5-9.4l.8,8.6l.7-7.3l.2,8.6l.6-8v9.6l1.4-1.8l.1-7.6l.7,9l.4-21.2v-.6l.4-34.7l.6,9.9l1,21.1v-1.6l1,12.5l.1-1.8l.9,9.2l.4-7.1l.3,12.3l.5,1l.7-7.7l.5,.1l.3,11.8l.7-10.1l.4,7.8l.7-9.7l.1,10.1l.7-2.3l.3-8.5l.5,.9l.1,7.3l.9-.1l.3-8.1l.7,7.2l.6-7.3l.5,8.6l.7-6.8l.2-1.5l.5,9.8l.5-1.6l.7-9.5l.3-.6l.3,11.5l.8-11.8l.6,11.8l.5,1.4l.7-8.4v-.7l.5,7.6l.8,.4l.3-9.9l.5,1.3l.1,8.5l1-7.8l.7,9.7l.1-9.1l1,8.8l.2-7.4l.6,8.3l.2-.9l.8-8.3l.5,9.8l.7-10.8l.1,6.2l.1-6.4l1.6,.7v7.6l.6-.9l.6-9.5l.3,13.8l.5-12.2l.2,6.9l.8-10.7l.4-2.4l.5,8l.4,.8l.8-13.5l.3-1.6l.3,8.7l1-10.7l.1,9.3l.5-7.2l.8,10.7l.3,4.9l.8-9.4l.3-1l.5,10.1l.2,3l.4-10.5l.7-.6l.5,11.6l.4-9.9l.9,8l.5,1.1l.2-10.6l1.1,1.5l.3,6.2l.2-5.8l.1,8.5l.7-7.5l.3,9.8l.9-12.8l.5,12l.6-2l.5-8l.9-1.2l.2,8.6l.4-.3l.1-7.2l.7,6.6l.5-8.5l1.2,13.5l.1-10.9l.2,2.1l.7,9.2l.4-.6l.1-8.2l1.1,.5v6.7l.9,1.9l.7-8.8v-.1l.6,9.3l.5-1.1l.7-10.2l.5-1.4l.3,10.3l.8,.6l.2-8.1l1.2-5.2l.2,9.7l.4-.8l.6-7.7l.4-.7l.6,6.4v3.6l.6-12.7l.4,8.3l.3,10.1l1.1-3.2l.3-8.3l.6,7.3l.5-9.4l.5,10.7l.5-9.8l.6,.3l.4,9l.3-1.5l.2-9.3l.8,12.8l.6-10.5l.5,9.6l.4-8.3l1,7.7l.2-10.1l.5,10.6l.6-9.1l.7,14.5l.2-14.2l.3,7.1l.7-10l.6,.7l.6,8.6l.3,1.3l.7-7.1v9.1l.9-26.4l.1,3.7l.7,19.3l.8,3.4l.3-9.3l.3,7.7l.3-9.3l.7,1.7l.7,8.5l.4-.2l.6-10.8l.3,4.8l.7,7.5l.2-1.2l.6-6.9l.6-1.6l.5,11.4l.3,.5l.3-9.8l.7,8.9l1-9.5l.2,6.4l.6-7.8l1,7.6v-7.4l.2-2.1l.6,11.9l.7-9.7l.5,9.2l.2-2.4l.8-11.6l.2,1.6l.7,12.8l.4-8.1l.9,7.1l.7,3.2l.3-8.4l.1-1.1l.9,8.1l.2-.6l.2-8.5l.6,7.5l.2-8.7l.8,9.8l.8-9.8l.3,6.5l.2-5.6l.9,5.2l.5-6.9l.7,7.6l.6-9.5l.3-.3l.5,7.1l.8-8.7l.3,11.6l.2-1.3l.8-10l.2,2.8l.2,8.7l1,1.5l.5-9.7l.2,0l.2,7.5l.8-4.2l.7,8.2l.5-11.7l.1,11.5l.9-10.1l.3,11.8l.5-4l.2-8.9l1,10.9l.6-13.4l.2,2.6l.7,11.5l.4-5.1l.4-7.9l1.2,9.1l.2-8.2l.7-2.8l.3,10.2l.1-3.3l.8-67.7l.2,4.3l.9,24.9l.2-1.8l.9,20v-3.8l.9,16.6l.2-4.9l.6,8l.4-8.5l.7,15.9l.2-1l.6-8.3l.8,6.2l.3-7.8l.4,2l.4,12.4l.5-11.2l.8,7.3l.4-7.8l.8,12l.5-2.9l.2-8.1l1-1.1l.2,9.9l.5,1.6l.5-8.8l.7-1.8l.2,7l.7-6.8l.5,8l.3,.7l.6-8.3l.3,8.5l.7-10.2l.7,.7l.2,10.5l.2-2.6l.4-14.2l.6,12.2l.4-7.8l.8,1.9l.8,8l.6-6.7l.4,9.1v.5l.4-9.2l.9,.7l.4,8.3l.6,.1l.7-7.1l.2-2.7l.1,11.4l1.1-2.2l.4-8.2l.7,12.4l.4-13.4l.2,.6l.7,8.2l.4-.6l.4-8.6l.9-1.1l.5,8.2l.1,.7l.5-8l1-.4l.3,7.2l.7-.3l.3-6.1l.2,6.6l.9-7.7l.5,.9l.4,10.7l.3-1.4l.7-10.4l.7,1.5l.2,7.7l.8,2.3l.2-9.9l.4-2.3l.6,12.4l.3-9.5l.7,7.7l.6-.4l.4-9.2l.4,8.8l.7-8.6l.1,2.1l.4-25.8l.6,22.9l.7,8.6l.5-9.6v7.8l1.1,3.2l.7-10.6l.1-.5l.7,10.1l.7-7.1l.1,8.7l.6-3.3l.2-9.4l.6,9.3l.9-18l.2,2.2l.5-16.8l.4,6.1l.7-12.9l.8,10.5l.5-8.1l.1,4.6l.8,14.1l.1-5.4l.8,11.1l.4-5.7l.4,11.7l.5-3.8l.8,10.2l.1-.4l.6-10.7l.8,10.4l.2-10.4l.5,11.7l.8-9.1l.1,1.8l.7,12l.4-10.4l.3,7.2l.6-7.6l.5,9.5l.6-9.7l.6,10.5l.3-8.2l.4,9.7l.8-3.4l.5-6.8l.4,2.7l.8-12.4l.5-3.8l.6,10.3v-3.5l.8,9.5l.4,5.3l.6-11.2l.4-1.3l.8,17.1l.1-2.8l.8-10.4l.6-5.2l.4,11.2l.6-9.9l.5,10.8l.3,2.8l.5-9.9l.6,8.1l.4-12.5l.9,.1l.2,12l.4-1.4l.5-8.7l.3,.5l.5,10l.9-9.1l.3,9.4l.2-.5l.6-8.8l.6,10.3l.5-9.4l.5-1.7l.5,6.5l.5-3l.8,11.1l.5-3.4l.1-13l.9,2.3l.3,9.3l.3-.1l.9-10.3l.6,1.2l.4,7.7l.6-9.6l.1,9.3l.6-7.7l.1,6.1l.7,1.3l.2-8.1l1.2,2.8l.3,8.2l.6-11.5l.6,10.9l.8,1.4l.1-9.3l.1,.6l1,8.6l.7-.9l.3-7.8l.6,.1l.3,7.4l.4,1.1l.7-9.7l.5-2l.3,8.6l.5,2.3l.7-24.5l.1,1.1l.5,16.1l.5-3.5l.7,10.1l.2,.1l.8-10.4l.4,8.4l.7-24.9l.2,5.1l.7,22.5l.6-7.7l.3,11.2l.7-2.1l.1-9.5l.8,7.3l.7-6.1l.4,10.2l.5-11.7l.2-.6l.5,7.2l.9-.5l.5-10l.4,3.1l.3,8.6l1.1-1.9l.1-9.8l.4,0l.4,12.1l.8-2.6l.3-8l.3,1.7l.8,7.7l.4-8.7l.2,8.1l1.2-7.6l.3,10l.1,.5l.3-9.7l1.2,10.7l.3-8l.1,.2l.7,7.8l.3-1.8l.3-7.4l.8,11.7l.2-11.2l1.4,8.5l.1-7.5l.2-2.2l.2,8.5l1-1l.4-9l1.1,7.4v-6.9l1-2.4l.2,9.6l.4,5l.5-9.4l.4,8.7l.7-20l.1,1.3l.8,13.3l.3-4.8l.5,6.5l.5-.5l.6-8.5l.3,.3l.8,10.4l.3,.1l.3-9.9l.9,14.6l.6-15.3l.2,9.2l.4-8.6l.8,2.7l.5,6.1l.9,.6v-6.5l.5,3.7l.1-7.9l1.5,.6l.2,9.9l.1,.8l.4-8.3l.6,5v-5.8l.9,1.1l.9,9l.1-2.5l.6-8.3l1-1.3l.2,8.2l.2-.3l.6-10.1l.9,11.1l.5-10.2l.5,9.2l.2-7l.8,1.7l.4,6.6l.1,.7l.6-10.6l.6,2.1l.1,8.6l1-1l.5-8.8l.6,6.9l.6-7.3l.1-1.5l.6,9.1l.5,.9l.7-8.8l.3-.3l.7,7.9l.4,.6l.4-9l.3,.3l.1,7.4l1.2-10.2v6.9l.7-.3l.8-9.3l.3,2l.8,8.5l.9-8.2l.2,13.4l.2-1l.6-7.9l.9,5.8l.1-7.5l.8-1.9l.2,8.7l.3-6.4l.7,7.4l.6-8.7l.6,10.3l.1,1.3l.7-9l.4,7.5l.4-8.7l.9,10.1l.3-8.6l.6-.5l.6,11v2.4l.9-11.4l.5,9.2l.6-7.8v3.6l.5-10.9l.9,1.9l.3,12.5l.4-9.2l.8-15.1l.4,.9l.2,9l1.1-9.1l.3,11.9l.6,4.8l.1-8.6l.4,2.2l.8,9l.3,2.2l.3-8.6l.7,.1l.4,9.7l.5-1.1l.8-10.8l.4,5.3l.3,10.4l.9-3.1l.4-6.4l.7,8.4l.3-8.4l.3,5.8l.5-8.8l.6,2.4l.5,7.1l.7-7.1l.4,6.5l.5-1.4l.4-8.2l.7,9.2l.6-7.2l.1-1l.4,10.7l.8-4.7l.7-11.1v2.7l1-26.7v-1.2l1-26.4l.1-.3l.4-10.1l.5,5.3l1,19l.1,.1l.7,14.1l.6,1.9l.6-15.5v0l1-28.4v-.3l.9-18.5l.2,2.7l.5-12.6l.6,.1l.7,13.5l.4-1.6l.7,15.1l.3-3.9l.6,18.8l.1-2.5l.9,13.3l.3-4.1l.7,13.2l.3-1.7l.7,11.4l.4-4l.4,12.6l.8-6.2l.5,8.7v-4.8l.9,9.8l.8-2.6l.3,7.6l.3-5.2l.3,8.6l.8,2.1l.6-10.2v3.7l.4-9l.7,1l.9-15l.4-4.7l.6,7.7l.4-4.7l.5,13.7l.1-7.9l1,10.6l.1-3.7l.9,6.4l.1,1.9l.9-36.1l.1-.9l.9,18.3v-3.7l.6,18l.6-3.3l.7,10.9l.1-2.9l.6,10.7l.7-6.4l.5,9.2l.2-8.9l.2,10.1l1.1-5.2l.4,9.3l.7-11.9l.6,10.8l.2-4.9l.3,9.4l.7-6.2l.6-7.7l.4,7.5l.5-7l.5,9.7l.2-8.2l1-1.3l.4,8.2l.2,.7l.2-7.4l.8,1.8l.2,6.6l.9-.5l.1-7.8l1,8.6l.2-11.3l.6,3.2l.7,10.3l.6-9.9l.4,9.6l.7-8.8l.2,11.1l.7-2l.4-10.5l.5,1l.4,7l.4,2l.9-28.3l.6-1.3l.5,7.4l.2-3.5l.8,8l.2-4.6l.1,7.6l.7-6.1l.6,6.4l.4-6.4l.7,10l.5-7.4l.7,8.4l.3-5.7l.2,6.8l.7-6.7l.8,8.9l.7,0l.2-6.7l.5,9.6l.6-8.3l.2,0l.6,8.4l.5-6.4l.8,7.5l.2,.1l.8-10.1l.2,2.5l.3,8l1.3-8l.1,7.1l.9,4l.1-9.6l.1-1l.9,13.9l.7-13.5l.4,8.8l.8-13.4l.2,9.2l.4,5.2l.6-9.8l.3-1.3l.7,9.9l.4,2.6l.6-9.5v11.6l.7-11.6l.7,11.7l.6-12.2v6.7l.8-7.3l.2,7.7l1-8.2l.2-.3l.3,7l.8-9.8l.6,9.2l.1-.5l.6-8.7l.7-1.4l.1,10l.7-7.4l.8,11l.4-2.3l.3-7.9l.5,1.4l.3,9.4l1.1-4.7l.3-10.5l.2,1.9l1-72.8v-3.3l.9-118.5l.1,5.9l.9,20.3l.1-.6l.9,28.2l.1,.3l.9,23.5l.1-.6l.9,26.8l.1-.1l.9,16.1l.1-1.1l1,23v-.6l1,11.8l.6-6.4l.2,14.7l.2-7.4l1,15.4l.2-2l.8,9.8v-2.6l1,12.1l.5-8.1l.3,7.9l.3-4.3l.8,11.3l.2-10l.9,8.3l.1-6.6l.7,11l.8,7.2l.4-9.7l.4-1.5l.3,9.2l.3-6.3l.7,8.8l.7,.5l.5-9.5l.4-1.6l.6,11.6l.3-1.8l.2-8.5l1,.5l.3,7.5l.7-9.6l.4,12.8l.9-10l.2,10.9l.3-8.9l.6,7l.4-9l.8,9.9l.2,2.7l.2-7.4l.7,4l.1-8.4l1.6,7.5v-8.5l.4,11.4l.6-9.1l.5-.5l.5,10.7l.3-3.8l.7-8.4l.5,.6l.3,13.1l.5-2l.3-9.2l.9,8.5l.1-8.5l1.3,10.5l.2-9.5l.2,12.9l.4-13.8l.6,5.9l.3-10.4l.9,1.3l.6,9l.8-7.4l.1,8.1l.7,1.7l.4-8l.4,7.9l.1-6.6l.6,7.8l.9-18.5l.2-2.3l.9,19.7l.5-7.6l.3,6.7l.7,1l.4-7.7l.4,7.6l.4-9.8l.7,.9l.5,7.4l.2-2.2l.9-23.2l.2-14.4l.7,38.1l.4-9.7l.6,8.5l.1,1l.8-11l.3,2.1l.8,11.7l.3-11.7l.8,7.8l.6,3.9l.2-9.4l.4,8.3l.7-9.1l.2-1.2l.7,13l.8-.9l.3-8.6l.5,3.7l.3-7.6l.7,3.7l.2,10.1l.9-10.8v8.3l.7,.8l.8-11.4l.1,.8l.7,9.6l.3-8.5l.3,10.6l.7-13l.5,9.9l.8-5.4l.2,7.5l.4-8.8l.7,13.3l.6-3.7l.2-9.7l.5,7.8l1-9.2l.9,8.9v-10.2l.1-.8l.9-93.1l.1,3.3l1,25.2v-3l.9,20.4l.1-5.1l.9,19.3l.1-2.7l.8,13.7l.3-7.5l.8,8l.1-2.7l.3-7.6l.9,5.6l.4-6.8l.9,2.2l.5,9.9v-.6l1-24.3v3.5l1-48.9v1.9l1-55.6v5.2l1,25.7v-2.7l1,21.8l.1,.3l.9,22.9l.1-2.6l.8,15.8l.1-1l1,17.1l.1-1.4l.9,17.6l.1-6.6l.5,17.3l.8-6.9l.5,9.7l.2-2.8l.6,10.7l.3-5.8l.4,9.5l.8-7.5l.4,12.5l.7-9.8l.7,6.8l.4,4.7l.5-10.7l.1,1.6l.9,9.7l.3,2.4l.3-8l.9,.2l.5,11.8l.1-2.2l.7-9.8l.4,1.2l.5,10.2l.5-3.1l.2-10.4l.7,5l1-35.8v1.4l.9-29.6l.3-3.5l.6,9.6l.2-4.8l1,25.2v-5.5l1,18.4l.1-.8l.7,13.2l.5-.9l.2,8.3l.5-4.8l.9,10.8l.5,3.1l.5-8.8l.2,.3l.5,7l.7-5.6l.4,7.9l.7-7l.6,8.2v-1.4l.4-6.8l1.2,8.5l.3-8.3l.7-1.3l.4,8.6l.1-2.3l.5-5.6l.8,6.8l.4-8l.6,1.3l.3,8.4l.8,2.8l.1-9.5l.8-1.5l.5,10.8l.6-1.5l.3-8.6l.5,8.4l.5-8.6l.3,10.3l.2-7.7l.9,6l.3-11.1l.6,3l.9-10.2v.1l.9,10.5l.3,1.1l.6-6.5l.4,5.8l.8-17.5l.3-5.2l.7,10.6l.4-4.6l.5,15l.4-2.7l.6,7.8l.7,4l.3-14l.1-.9l.6,12.6l.9-1.9l.5-10.5v-.9l.8,17.1l.3-1.2l.4-9.9l.6-.8l.8,8.8l.4-7.5l.5,10.5l.3-.6l.1-9.8l1.1,2.3l.2,9.4l1-2.2l.5-7.8l.6,9.6l.3-8.7l.7-4.2l.1,8.9l.4,2.6l.7-19.7l.2,3.4l.6,18.7l.9-3.3l.1-7.6l.4-1.5l.6,11.2l.4-3.7l.8-21.4l.2,6.8l1,11.3l.4,1.7l.2-8.2l.6,8.9l.6-7.5l.3,8.4l.4-8.8l1.2,6.3l.3-6.8l.1-1.9l.8,10.2l.6-2.4l.3-7.3l.2,6.4l.5-9.6l.6,10.5l.7-12.1l.6,6.9l.5-9l.1,4.9l.6-13.2l.5,11l.9-8.5v5.9l1-11l.2,4.1l.8-14.2l.1,6.6l.8-10.1"/>
<path class="d" stroke="#ff7f0e" d="M100.7,489.2l.2-24.8l.9,3.2l.8,16.4v2.8l.3-22.4l1.1-2l.2,21.8l.6-1.9l.8-216.1v12.5l1,180.8l.1-.7l.7,19.6l.4,7l.6-18.9l.3-.3l.4,21.5l.9-3.7l.5-15l.3,14.2l.6-54l.2,11.2l.9,42.1l.2-20.3l.7,25.6l.9-20.3l.2,21.8l.8-.3l.2-22.6l.6,22l.5-23l.6-1.1l.1,20.3l.4,5.3l.5-22.5l.5,19.5l.2-21.4l.9,18.8l.4-21.1l.5,23.2l.1-22.3l1.3,22l.2-16.4l.3,16.8l.8-41.2l.2,12.3l.9,28.6l.3-1.7l.3-18.2l.8,17.7l.4-18.4l.3,2.5l.5,21.1l1.1-23.5v21.7l.7-1.3l.4-28l.8,8.4l.2,18.9l.5-18.7l.7,17.9l.6,.7l.3-17.6l.2,20.4l.6-21.8l.9-2.6l.4,18.8l.2,5.3l.8-22l.3,18.6l.6-19.8l.8,.1l.1,24l.8-23.5l.2,19.2l.7-16.2l.3,18.6l.4,3.3l.6-28l.6,6.9l.5,25.1l.6-31l.5,19.5l.9,3.8l.1-22.9l.8,1l.3,25.8l.2-2.9l.5-18.2l.6-3.3l.2,25l1-24.1l.3,21.4l.7,4l.5-38.5l.2-19.6l.7,41l.1-12.1l.8,25.1l.6-19.8l.5,12.8l.4-20.9l.4,26.7l.3-22.3l.2,23.2l1.3-18.9l.5,21.3l.3-6.7l.7-16.9l.5,18.3l.5-18.6l.2,23.3l.7-41.4l.2,9.6l.7,26.7l.5-18.5l.4,21.8l.6-21.8l.4,18.6l.8-15.6l.3,16.7l.9-28.7l.1,30.4l.6-29l.4,29.2l.4,3l.4-24.7l.7,.5l.2,20.4l.7-5l.1-18.5l.8,21.5l.4-17.1l.8,21l.3-20.7l1,19.1l.2-17.5l.6-1.5v16.8l.6-19.8l.9,23.7l.5-23.2l.5,24.7l.5-6l.2-16.4l.8,16.8l.2-18.6l.6,21.9l.6-20l.2,20.6l.2-21.5l.8,20.4l.3-23.8l.7,31.6l.4-22.8l1.3,15.3v-20.1l.3,17.7l.7-17.1l.9-2.4l.4,24.3v-3.5l.8-21.4l.3-4.4l.2,22.2l1.2-19.2l.2,23.9l.6-17.6l.2,16.4l.7,.7l.1-21.6l1-2.5l.2,21.7l.8-1l.6-35.1l.2-3.1l.7,34.1l.5-12.9l.4,21.8l1.2-23.5l.1,21.5v-1.2l.4-17.7l1.1-6.2l.1,20.8l1,3l.1-20.1l.6,19.8l.5-16.5l.6-7.9l.2,27.3l.9-21.8v18l.5,2.6l.6-17.9l.7,23.3l.1-26.7l1.4,27v-28.5l1-1.6l.1,22.8l.5-.9l.4-22.6l.4,27.2l.5-23l.7,16.8l.4-21.4l.9,26.7l.3-22.4v18.6l.3-19.5l.8,19.2l.5-16.9l.6,24.4l.4-25.3l1.3,19.4l.1-18.8l.6,20.9l.2-22.8l.8,21.4l.2-17.4l1-1.5l.1,16.2l.6,4l.4-19.9l.1-2.2l.4-75.8l.7,60.4l.9,32.9l.7,4.5l.3-27.1l.1,2.3l.9,25.2l.7-4.1l.1-21.8l.2,5.5l.8,19.3l1-19l.1,22.4l.9-24.2l.1,17.8l.9,5.7l.1-25.6l.4-3.8l.1,26.5l.9-20.2l.3,20.7l.7-18.7l.2,20.5l.7-2.9l.1-21.7l.9,22.9v-19.6l1.2,17.6l.2-20.5l.7,25.6l.1-23.3l.6,28.9l.9-30.5l.9,25.8l.1-23.2l.2,19.5l.6-21l.8,16.7l.3-16.1l.5,25.6l.3-26.1l1.1,1.5l.3,19.3l.5-2.5v-20.3l.8-1.9l.2,23.6l1-2.5v-15.7l1-3.7l.1,25.5l1-23.8l.2,22.2l.5-1.7l.1-21.3l.6,21.2l.3-25.4l.9,24.8l.6-18.2l.5,19.3l.3-16.8l.8,15.8l.6-20.7l.6-1l.3,24.3l.5-22.6l.6,19.4l.2,1l.4-17.1l.5,1l.5,18.6l.9-23.9l.3,21l.9,0l.1-20l.6,22.1l.3-20.1l.5,20.5l.8-20.3l.8,17.1l.1-20.1l.5,22l.3-19.3l.8-4.2l.4,26.3l.5-23.4l.6,21.5l.3-2.5l.5-19.3l.5-5.6l.4,29.9l.5-21.3l.1,15.2l1.1-20.5l.2,37.2l.4-32.9l.1,20.3l.9-19.9l.2,18.1l1.2-.2l.4-19.5l.7,28l.3-26.8l.2,22l.1-22l.9-1.2l.9,18.9l.1-16.5l.5,22.8l.9,0v-28.5l.8,28.2l.1-29.5l1.4,25.9l.2-23.2l.8,19.3l.1-18.9l1,1.3v18.7l.2,3.2l.8-22.9l.6,1.2l.6,19.3l.2-2.8l.4-17.5l.9,1.2l.4,13.8l.1,3.4l.3-24.7l1.5,23l.1-19.9l.3,.4v28l1.4-25l.3,19.3l.4-.5l.3-22.4l1.1,27.3v-22.2l.8,20.3v-24l.8,28.5l.4-24.6l.5,17.5l.7-22.2l.5,2.2l.1,25.3l.6-26.2l.6,17.4l.5,2.4l.5-18.8l.9-.4l.2,22.6l.6,.3l.4-20.1l.5,19.4l.4-19.5l.5-2.2l.6,17.9l.2-15.3l.1,16l1.6,5.2l.2-23.2l.2,23.4l.1-22.7l1.2,18.1l.5-21.3l.3,3.2l.6,19.8l.9-21l.2,22.1l.6-2.8l.5-21.6l.2,26.6l.3-24.8l1.1,21.9v-27.5l.5,3.2l.1,23.6l1.1-23.6l.1,29.2l1.5-5.8l.1-20.8l.4,1.8l.1,21l.9,2.7l.6-26.4l.2,2.9l.3,19.8l.9-3.6l.1-17.8l.8,18.4l.7-20.4l.2,.9l.5,22.4l.3-1.1l.7-18l.9,25l.1-22.8l.5,21.1l.6-51.7l.2,16.3l.8,27.6l.3-14.7l.6,17.3l1.2-20.3l.1,20.8l.6-24.4l.3,21.3l.3,3.9l.6-22.3l.2,20.5l.8-21l.7,17.6l.4-13.5l.4-3.2l.6,18.6l.6,4.1v-19.7l.8,.2v18.6l.8-24.3l.5,21.7l.5-18.4l.9,21.9l.9-.9v-21l.3,28.2l.5-30.2l.7,1.3l.6,29.6l.4-30.2l.6,21.4l.3-19.5l.3,19.7l.4-23.1l.9,26.1l.2-22.5l.8,17.7l.1-21l1,27.3l.8-3.4v-18.8l.6-3.6l.3,22.1l.6-20.2l.3,18.1l1.2-22.7v20l.2,.5l.8-41.5l.3,6.3l.5,34.1l.6,4.2l.5-21.5l.8,17.3l.1-15.5l1,20.9l.2-21.2l.3-.7l.7,18.6l.3-17.6l.3,20l.9-23.3l.5,22.4l.7-18.1l.4,17.1l.9,2.6v-23.8l.3,3.6l.8,16.8l.3,5.3l.4-28.3l.4,5.6l.5,19.2l1,2.7l.5-20.8l.4,19.3l.4-18.8l.7,19.7l.4-18.2l.5-2.2l.6,19.4v-.9l.8-18.7l.3-4.6l.7,23.2l.8-22.3l.2,24l.9-17.1l.1,18.2l.6-24.5l.4,23.1l.2-17.1l.6,15.9l1-18.2l.2,19.5l.6-1.1l.2-19l1.3,.4v22l.3-4.1l.6-20.6l.5-1.7l.2,23.1l1.1-1l.2-18.2l.4-1.9l.6,22.6l.6,2.2l.4-21.4l.5,.5l.1,17.8l.8,.5l.5-21.9l.4,2.6l.8,18.5l.1,1.5l1-20.6l.1,19.9l.6-22.9l.6,2.9l.3,16.6l.7-18l.1,24.7l.7-24.2l.2,18.3l.9-19.2l.8,21.1l.4-1.5l.6-59.1v-4.7l.6,56.1l.6-13.6l.2,20l.7,2l.8-19.2l.4-.1l.7,24.7l.1-24l.2,21.1l1.2-4.5v-16.8l1,.6l.1,18.7l.6,2.7l.4-42l.5,14.6l.7,23.9l.8-15.3l.1,16.3l.5-21.1l.8,22.2l.8,2.7l.1-29.3l.3,6.2l.1,16.9l.9-21.4l.3,24.5l.9-.4l.2-22.3l.5,.1l.2,21.9l.9-21.3l.4,20.1l.4-18.6l.2,21l.9-26.4l.6,21.8l.4,2.5l.1-19.6l1.6,19.8l.1-22.3l.7,17.9l.4-16.7l.3,18.2l.3-16.2l.6-.4l.6,19.8l.7-25.6l.1,24.6l.7-19.8v16.8l1.1,2.4l.5-24.6l1,7.2l.1,21.8l.6,.5l.2-28.9l.8,7.3l.3,16l.5-22.9l.1,23.6l.9-21.8v22.2l.7-16.3l.7,14.9l.5,2.6l.3-19.8l.6-.8l.6,25.3l.7-6.2l.2-20.1l.4,1.9l.2,24.6l1.6-4.5l.1-20.2l.6-1l.4,24.3v-2.2l.3-17.2l1.3,15.8l.2-26.7l.6,6.3l.1,25.7l1.2-2.1l.3-21.8l.1-2.5l.2,25.9l.9-3.2l.2-18.9l1-12.4l.2,33.1l.8-21.8l.2,25.1l.8-24.3l.5,18.1l.3,4.9l.4-26.5l.5,24l.9-24.1l.5,26.4l.2-24.4l.5-1.3l.6,20.1l.8,1.3l.2-23.6l.5,22.7l.7-25l.4,5.9l.2,21.7l.4-23.3l.9,17.7l.4-18.5l.3,23.8l.9-26.3l.3,24.4l.6-4.4l.4-16l.8,16.7l.2-17.9l.6,30.9l.2-29.2l.9-2.5v21.1l1.1-32.3l.3,33.8l.3-22.4l.4,17.9l1,5.6l.1-21.2l.7,26.3l.4-29.5l.4,5.5l.3,16l1.3,2l.1-23.4l.1,4.8l.1,17.8l1.7-18.2l.1,19.3l.2-25.4l.4,24.1l.8,2.8l.3-24.2l.4,25.5l.4-21.8l.9,17.1l.2-15.5l.6,20.2l.3-26.8l.7-.6l.7,29.4l.3-27.6l.1,22.5l1.2-1l.4-22.8l.6,2.1l.2,30.5l.9-32.9l.3,26.9l.5-24.8l.1,21.5l.6-21.2l1,23.4l.4-21.2l.6,23.6l.7-29.3l.3,25l.1,1.8l.5-22.6l.9-1.9l.4,22.3l.8-2l.2-17.3l.1-.2l.2,17.8l1.3-19.4l.4,19.5l.6-15.6l.3,19.5l.5,4.2l.3-27l.9,22.2l.4-20.9l.4-3.9l.2,24.8l.6-2.5l.5-20.1l.6,3.8l.6,21.2l.4-23.8l.1,21.7l.9-18.5v17.5l1.3,3.4l.5-21.6l.3-.9l.6,19.6l.9-16.7l.1,13.5l.1,2.5l.6-19.9l.8-1.6l.2,29l1-30.4l.2,25.2l.4,.5l.2-23.2l.8-1.3l.5,17.5l.9-15.4l.1,18.1l.3-20.8l.8,19.9l.3-19.4l.8,24.1l.2-24.2l.4,21.4l.6,4.7l.8-22.5l.7-6.2l.4,22.9v-18.2l.1,23.6l1-27l.2,26.1l1.3,1.2l.2-25l.5,22.6l.5-21.3l.4-2l.5,22.7l.6-24.4v21.5l.9-18l.2,16.1l1-17.5l.2,22l.6,.4l.8-18.9l.7,19.3l.2-23.4l.5,2.2l.2,22.7l.6-1.3l.6-40.7l.2,8.1l.7,27.1l.6-20.4l.2,21.6l.5-19.2l.1,22.4l1.2,1.4l.1-20.5l1.1,21.1l.5-25.6l.1,3.6l.2,20l.9-23.4l.3,27.3l1.1-25.9l.2,18.9l.2-.5l.5-20.7l.5,20.6l.6-18l.4,17.2l.7-19.1l.4-2.4l.7,24.7l.3-19.1l.1,14.6l1.6,7.1v-22.1l.4,.5l.7,20.8l.4-23.8l.4,19.5l1.1,7.9l.2-25.9l.6-2.4l.1,22.6l.3,.3l.6-20.5l1.2,20.9l.2-29.6l.7,29.4l.2-20l.5,.7l.1,20.1l1.2-20.1l.1,16.1l.4,1l.5-17.1l.7-2.1l.5,21.7l.1-22l.9,20.8l.5-14.4l.2,16.5l.6-23l.4,21.5l.4-18.8l.8,16.2l.7-17.3l.3,19.4l.4-18.5l.2,21.7l1,.1l.6-24.4v24.8l.2-22.7l1.5,28.6l.1-27.9l.8,19l.3-19.7l.6-1.8l.4,26.8l.5-6.9l.2-22.7l.7,23.9l.1-15.6l.7-3l.4,16.5l1,7.9l.4-24.8l.1,22.9l.7-25.2l1,21.3l.3-22.6v-6.7l.8-107.7l.3,20.5l.8,74.4l.7-3.3v32.9l.5-16.3l.7,28.4l.6-21.9l.2,21.2l1.1-2l.1-22.4l.4,24.9l.3-14.7l1.1-4.2v20.4l.8-5.6l.4-13.6l.3,24.5l.6-25.7l.6,19.8v-23l.9,30.2l.4-24.9l1.1-3.5l.3,25l.2-2.6l.3-20.9l.6,2.4l.4,14.3l1.1-18.2l.3,18.2l.4,13.8l.1-27.4l1.4,15.1l.2-21.8l.8,2.9l.1,18.6l.3-23.2l.2,25.9l.7-.5l.9-15.7l.7-7.2l.1,22.6l.5-23.8l.7,25.8v.2l.2-25l1,3.5v24.1l1-25.4l.5,19.9l.6,2l.7-24.8l.5,22.6l.2-16.7l.6,14.8l.2-18.5l.8,19l.3-17.5l.4,18.6l.1-22.2l1,26.4l.9-30.6l.4,11.1l.4,17l.6-23.2l.2,25.2l.8-23l.1,18.8l.7-19.4l.8,20.1l.3-.7l.3-17.6l.5,17.4l.4-20.6l.8,21.6l.4-20.2l.7-1.6l.6,22.4l.2,.4l.3-17.2l.7,18.6l.6-25l.3,24.8l.2-26.8l.7,3.4l.6,27.1l1.1-3.3l.1-22.6l.2,22.1l.4-25.2l.8,2.2l.4,23.7l.8-24.3l.3,20.6l.6-23.1l.5,21.6l.8-20l.2,19.8l.7,10.1l.3-28l1,19.3l.1-18.9l.1,17.8l.1-18.4l1.7,26.6l.1-31.7l.9,24.6l.2-21.4l.7,4.1l.3,16.9l.5-16.9l.1,15.9l.8,3.1l.1-21l.6-2.9l.6,40.4l1-38.9l.2,23.1l.2-23.3l.2,25.4l.8-1.8l.3-23.4l1-2.8l.4,25.5l.3,.4l.5-22.6l.6,22l.6-23.6l.5,23.9l.5-21.8l.7,1l.5,24.7l.2-5.9l.3-19.4l.5-4.6l.4,29.9l.8-3.3l.4-21.8l1.1,.9l.1,19.9l.4-20.3l.1,20.4l1.1-.8l.4-29.8l.7,12l.4,22.1l.1-22.7l.3,17.5l.7-2.1l.5-16.8l.7,1.1l.1,25.7l.9-2.2l.8-21.2l.2,17.2l.6-29l.3,13.1l.5-24.9l.8,6.9l.5,19.3l.5-8.9l.6,19.8l.1-18.4l.5,23.1l.7-19.2l.5,16.5l.2,3.7l.8-19l.6,17.9l.4-22.1l.4,1.2l.4,20.1l.5,3.6l.2-25.6l1.3,27.7l.1-23.1l.9,23.6l.3-25.7l.2,27l.7-25.7l.8,18.7l.2-21.7l.3,19.7l.1-19.2l.8-3.8l.8,29.9l.2-3.3l.8-19.3l.3-3.6l.4,34.8l.9-11.4l.4-23.2l1,2l.1,17l.8-22l.2,23.8l.7-18.9l.1,17.5l.9,5l.2-21.4l.4,20.1l.3-22.2l.7-3.5l.1,24l1.6-20.1l.1,17.4l.7-.7l.3-17l.2-.9l.3,22l.6-23l.7,19.3l.9-20.4l.3,23.4l.4,.6l.6-24l.2,23l.5-28.4l.8,7.5l.3,18.4l.6-20.8l.1,25.9l.8-23.2l.6,21.4l1-3v-24.2l.6,2.3l.2,23.2l.5-18.9l.5,15.1l.3,5.4l.4-21.6l1.2,18.9l.3-19.6l.3,21.8l.8-21.2v.9l.4,19.1l.8-.5v-18.4l1.4,20.7l.2-24.1l.4,19.9l.4-16.2l.8-.8v20.9l1.2-4.3l.2-18.1l.4,20.8l.4-19.1l.8,18.6l.5-20.6l.7-4.7l.4,30.2l.1-26l.2,18l.7,3l.2-19.8l.9,16.6l.6-16.7l.6,16.8l.5-18.5l.8-.1l.1,19.2l1.1,8.9l.1-24.9l.6,20.1v-22.4l1,23.4l.2-23l.7,22.4l.5-22.3l.7,.8l.3,22.5l.4-23.5l.2,23.3l.6-17.8l.1,14.4l1.5,6.7l.1-26.1l.2,24.3l.9-47.4l.1,7.2l.7,35.5l.9,.9l.1-19.9l.7-1.3l.2,20.3l.5,1.9l.3-19.7l1.1-.6l.1,17.3l.7-17.2l.3,22.6l.5-24.8l.3,21.6l1.2-5.1l.2-14.6l.3,2.1l.9-53v-.9l1-35.8l.2-5.4l.8,38.8l.1-7.9l.9,42.4l.2-6.1l.7,26.5l.4-13.7l.5,29.8l.4,2.1l.3-23.2l.7,1.7l.7,23.3l.3,.7l.8-22.4l.3,23.2l.6-21.4l.2,22.3l.1-19.1l1.3,22.1l.2-28.3l.7,21.9l.4-16.5l.5,.7l.7,19.6l.2-28.6l.2,24.2l.8,.8l.8-18.6l.5,21.9l.2-21l.4-2.9l.9,22.3l.6-20.1l.3,23.4l.4-22.5l.6,23.9l.2-25.2l.4,24.1l.5,5.1l.8-27.7l.6,19.2l.6-29.3v10l.8,25.5l.2-31.3l1,22.5v-18.5l.4,26.5l1.1-25.3l.3,17.4l.2-18.4l.8,18.6l1-16.6l.2,30.4l.4-10.4l.5-26.5l.2,18.9l.7-17l.7,4.8l.5,27.5l.2-10.5l.8-20.6l.5,5.2l.3,15l1.1,7v-28.9l.7,20.3l.3-17.5l.3,2.4l.2,17.5l.9-1.8l.1-17.5l.8-4.5v23.4l.9-21.9l.4,22.3l.7,1.6v-21.5l1.5,2.1l.3,15.5l.5,9l.3-23.5l.7-2.1l.3,19.3l.9,4l.1-25.1l.8,21.7l.2-22.3l.7,1.9v22l.5-21.3l.1,21.9l1.3-6.2l.3-15.7l.6,22.5l.1-21.7l.6,18.1l1-18.6v15.6l.8-16.3l.4,19.1l.4-18.1l.7-4.5l.1,22.1l1.1-.5l.1-18.5l.4,17.8l.7-18.5l.5-.4l.7,22.6l.5-21.7l.6,18.1l.1-19.5l.7,19.4l.5,1.8l.5-19.9l.3,21.3l.8-23.4l.4,18.4l.4-19.6l.4-.3l.1,21l.8-16.1l.4-59.9l1.2,43.9l.2,29.7l.6-16.6l.3,20.8l.5-16.1l.4,17.3l.8-20.9l.2,18.6l.6-20.3v19.7l1.6-15.1l.2,14.4l.2-17.3v20.7l1.2-1.7l.1-18.7l.6-3.5l.1,21.5l1,10.3l.5-29.4l.7,21l.5-24.8l.1,22.5l.1-18.7l1.3,.7l.4,22.9l.8-27.9l.3,23.1l.6,3.6l.5-17.9l.4-6.7l.4,24.4l.7-1.2v-21l.6-.4l.5,26.7l.7-2.3l.5-24.5l.3,20.1l.4-17.9l.8,23.2l.7-23.9l.3,24.1l.2-24.1l.8-1.6l.6,22.6l.2-19l.2,19.5l.9,.1v-18.6l.8,.1l.4,17.6l.9,.4l.1-20.4l.7,18.4l.2-14.8l1.4,15.8l.2-21.7l.1,20.6l.7-17.3l.5,18.8l.2-19.9l.6,3.2l.3-74.2l.7,56.6l.9,35l.3-27.8l.7,27l.4-21.9l.3,24.7l.9-22.7l.4,19.1l.2-21.7l.6,25l.4-27.6l.2,24.3l.8-1.8l.2-19.9l.7,25.9l.8-25.4l.3,15.7l.3-15.7l1,3.2l.3,17l.8,1.3l.1-21.6l.7-2.5l.4,19l.3-15.6l1,16.3l1-21.3v24.1l.8,5.6v-25l.3,28l.2-31.9l1.3,26.1l.2-23.9l.5,18.3l.3-17.5l.8,1.2l.2,20.3l.4-4.5l.5-37.6l.6,18.2l.3,26.4l.6-7.5l1-16l.2-3l.1,29.4l.7-4l.9-21.1l.4-2.2l.6,16.6l.7-15.4l.1,23.3l.8,7l.1-28.1l1,18l.4-22.9l.8,30.5v-24.6l.5-1l.3,19.3l.6-20.6l.4,17.4l.8,4.8l.5-26.4l.1,25.4l.8-20.9l.8,2.4l.1,20.4l.5,6.9l.2-28.4l.7-4l.8,23.8l.7-17l.1,15l.5,1.4l.5-16.8l1-3.6l.1,20.4l.3,4.6l.9-24.7l.7-.4l.2,22.1l.5,2l.5-23l.3,.6l.8,28.1l.1,2.2l.5-34.9l.9,22.7l.4-14.7l.1-9.8l.8,25.5l.6,.2l.4-22.4l.7,20.7l.3-22.2l.4,1.1l.1,20.8l1,2.6l.7-19.1v-1.3l.6-176.5l.4,67l.9,115.7l.2,8.6l.1-22.8l1.3,8.3l.4,23.7l.3-3l.5-23.7l.9-1l.1,25.7l.4-3.6l.7-31l.8-2.7l.2,18.4l.6,13.2v-29.7l.7,10l.5,18.5l.5-17l.2,19.5l1.2,.4l.2-22.9l1,22.3l.1-19.8l.8,20.4l.4-18.8v2l.2,17.5l.9-23.9l.3,26.9l1-24.8l.4,25.2l.6-26.7l.2,23.3l.6-19.8l.6,24.1l.6-2.5l.1-24.7l.9,3.6l.2,19.6l.4-22.7l.8,21.7l.3-17.2l.2,15.7l.8-18.9l.7,22.3l.2,.9l.9-20.3l.3-2.6l.1,20.7l1.4-22.1l.1,22.9l.6-18.8v16.4l1.3-15.9l.1,18.5l.6,.7l.3-24.6l1,2.3l.3,23.4l.2-21.7l.8,17.9l.4,3.7l.3-24l.5,18.9l.5-19.3l.5,1.7l.6,18.6l.3-18.4l.2,19.1l.8,2.2l.4-21.2l.6,18.7l.7-21.2l.2,16.3l.8-225.9l.2,34.2l1,159.5l.1,8.6l.5,25.3l.7,1.9l.1-16.6l.8,22.2l.5-22.5l.7,18.6l.2-16.5l.4-5.3l.4,23.2l1.1-.4l.3-17.9l1,.9v16.5l1-18.9l.2,17.2l.2,2.2l.1-18.7l1.3,17.9l.1-20.8l.6,2.6l.7,18.5l.1-.7l.5-14.6l.8,16.4l.4-20.2l.3,3l.3,16.9l.8-21.5l.6,21.9l.6-.8v-20.5l.6,19l.3-16.6l1.5,23.6l.2-66.7l.3-95.6l.7,105.3v-3.4l.9,45.2l.2-9.8l.7,19.4l.2-3l.8-14.6l.4,17.5l.6-21.1l.7,1.5l.2,17.7l1.2,10.1v-29.6l.1,18.2l.2-15.1l1-2.7l.1,24.5l.8-30.4l.3,40.1l.8-13.9l.2-19.5l.9,19.7l.3-19.7l1.1,19l.2-18.5l.2-2.1l.1,21.2l.9-21.6l.1,23l1.1,1l.5-20.9l1,21.3l.1-23.8l.7,26.1l.1-21.7l.5-4.7v19.7l1.3,3.1l.1-20.9l.4,2l.2,16.5l1.2-20.9l.2,25.7l.8-24.6l.2,21.1l.6-23.5l.4,23.1l.8-1l.3-19l.8,20.1v-19.4l.7,.1l.4,16.4l.7-21.1v25.3l.9,.1l.8-18.9l.2,19.5l.5-22.7l1.1-2.5l.1,26.9l.4-24.6l.3,15.7l.5,7.2l.5-20.9l1,22.8v-23.5l1,26.5v-28.5l1,1.2l.1,28.1l.4,.8l.3-32.4l1.1,23.8l.3-20.1l.7,2.8l.5,17.4l.3-18.6l.4,16.6l.4,6.3l.1-24.4l.9,2.3l.4,27.3l1-28l.1,16.8l1-.8l.1-16.7l.3,27l1-29.3l.4,26.3l.2-25.2l1-2.1l.1,26.4l.5-4.4l.3-18.3l.6-1.7l.5,20.4l.8,3.5l.3-22.9l.9,24.5l.3-28.6l.3-4.7l.4,28.1l.4-2l.8-14.1l.8-5.6l.1,32l.9-27.2l.1,14.5l1.1,4.9l.1-24l.3,2.5l.2,23.1l.8-5.1l.5-20l.4,24.5l.8-25.4l.4,6.3l.4,18l.7-2.5l.4-20.2l.4,24l.5-26.6l.7,25l.4-23l.9,23.1l.1-22.6l.3-2.8l.6,22.9l.5,2.1l.3-22.7l1,.4v19.3l.6,2.2l.7-20.7l.4,1.7l.7,18.9l.7-21l.3,19.1l.1,5.9l.4-24.1l.8,20.4l.2-20.9l.7,19.3l.7-17.9l.3,18.4l.8-16.9l.2,16.4l.5-23.3l.6,5.6l.1,18.8l1-20.1l.5,20.2l.8,4l.2-23.5l.2,25.1l.8-28.3l.7-1.9l.3,25.9l.6-1.2l.5-20.5l.5,.6l.3,17.5l.4-.5l.6-19l.6-.2l.6,25.1l.5-24.1l.6,18.9l.1-22.6l.5,23.8l.7,4.4l.6-26.1l.5,.9l.5,27.4l.8-4.7l.2-18.6l.3-3.3l.3,23.6l.9-22.6l.3,24.1l.3-26.1l.6,24.3l1-26.2l.3,22.5l.1-1.2l.6-17.9l.6,23.3l.8-22.1v-.8l.1,24.9l1.1-23.4l.4,20.9l.6-22.8l.3,24l1.2-.2l.2-24.2l.6,17.2l.1-12.9l.5-2.3l.4,26.7l.6-28.6l.2,21.1l.9,1.1l.2-22.7l.7,19.7l.9-18l.1,21.1l.2-22.9l.9-3.1l.2,25.5l1.3,.7l.1-22.6l.4,24.6l.8-23.9l.4-1.3l.4,25.6l.9-7.6l.3-17.2l.5-5.5l.1,26.3l.5,7.6l.7-29.7l.4,29.8l.6-28.1l.5-6l.2,30.5l.7-24.6l.7,21.9l.2-19.2l.9,18l1,3.5v-24.2l.4-.6l.4,26.4l.7-5l.1-21.2l.9-4.1l.5,28.3l.8-5.7l.1-20.1l.7,21.1l.2-17l.6-3.4l.1,18.7l.9,2.5l.6-22.3v20.5l.7-17.8l.4-3.9l.3,23l.6-21.9l.4,18.8l.8-20.8l.4,26.9l1.1-6.5l.2-19.2l.3,24.8l.4-23.6l.9,20.5l.1-19.1l.4-2.8l.7,21.6l.3,2.1l.2-20.1l1,19.7v-20.2l1.2-1.9l.1,22.2l.9-22l.2,22l.7-16.3l.5,25.5l.2-12.6l.2-14.7l1-3.9l.3,23.4l.7,2.9l.2-24.5l.7,19.9l.6-22.1l.5,28l.3-24l.6,21.4l.8-23.3l.6,.1l.2,24.9l.8-24.3l.3,16.6l.5-17.5l.3,25.5l.7-26.3l.2,21.6l.6-18.1l.4,17l.9-19.3l.4,17.3l.4-15.9l.4,16.9l.6-16l.2,17.7l.7-31.8l.6,31.3l1.1-21.3l.1,21.3l.4-28l.3,24.9l.4-19.8l.6,23.9l.5-3.3l.9-16.1l.9-2.3l.1,19.6l.5,.4l.1-27l1.2,30.5l.1-25.2l.2,23.6l.8-22.9l.2-3.3l.9,28.6l.1-24.7l.1,19.6l1.2-17l.2,27l.6-26.3l.7,21.1l.5-23.2l.2,21.9l.8-17.8l.6,16.6l.2-17.2l.1,14.8l1.1-13l.2,17.1l.8-20.9l.3,20.8l.4-19.3l.6,16.8l.6-1.6l.4-18.7l.3,3l.4,20.4l.8-22.3l.6,18.9l.4-.3l.1-21.5l.9,24.5l.4-25.9l.5,30.6l.8-26.2l.1,19.5l.3-15.8l.9,12.9l.4-18.5l.6,2.7l.7,17.1l.5,2.7l.1-24.3l1.1,.8l.2,22.3l.8,6.9l.1-24.7l.8-1.4l.3,18.1l.9-16.9l.1,16.7l.9,4.7l.2-21l.2-2l.3,18.9l1.2-15.3l.2,19.6l.4-6l.2-21.8l.6,6.4l.1,21.9l1.3-23.4l.5,25.5l.7-31.4l.3,32.8l.5-31.4l.3,26l.4-1.7l.8-18.5l.9-3.8l.2,25.6l.1-.3l.3-25l1.1,.3l.2,20.4l.3-1.1l.5-14.6l.6-1.5l.7,17.8l.5-18.5l.2,25.7l1.1-27.6l.2,17.3l.2-14l.5,18l.6-20.7l.3,19.8l1.2,.7l.1-22.4l.3,23.6l1-21.6l.1,1.7l.1,15.5l.8-21.8l.4,27.9l.8,6l.7-26.4l.7,18.2l.3-24.4l.2,24.8l.6-22.4l.3,21.3l.5-19.1l.8,22.9l.3-24.7l.5,16.3l.5-17.9l.6,0l.6,19.5l1-20.9v21.9l.4-20.2v28.3l1-5.4l.6-25.8l.6,1.5l.3,20.9l.5-19.2l.6,19.8l.3,1.7l.3-19.7l1.2-3.4l.1,24.4l.4,6.7l.3-27.5l.7,20l.4-19l1.2-5.5l.2,27.3l.9-23.9v19.1l.6,9.9l.5-23.6l.2,16l.2-23.7l1,1.2l.5,22.8l.7,.1l.2-21.3l.4-2l.9,20.8l.2-17.1l.8,19.5l.4-4.2l.2-12.8l1.1-7.1v22.5l.8-18.3l.3,17.7l.8,.5v-19.9l.6,18.8l.3-17.4l.9,18v-16.5l1.2,19.5l.3-21.6l.1,20.5l.5-19.6l1-.7l.4,25.6l.7-25.8l.1,21.3l.7-19.2l.5,18.7l.2-20.7l.2,21.8l.7-20.6l.3,19.2l.8,3.1l.8-25.8l.5,23.7l.4-19.9l.2,24l.4-24.4l1,1.7l.3,15.3l.3-.3l.4-16.7l.7,23.5l.9-25l.1,2.3l.5,17.6l1,5.6l.1-29.2l1.2,27.4v-21.4l.3,19v-20.5l1.2,.3l.1,17l1-17.3l.5,19.5l.3,2.7l.6-59.5l.1,12.4l.5,38.9l.7,5.2l.2-21.1l.6,24.7l.4-21.9l1,23.3l.6-20.4l.3,17.8l.4-22.2l.7,26.6l.3-24.2l1-3l.1,23.1l.3-23.2l.1,20.8l.8-2.3l.8-17.8l.6,.8l.2,20.6l.6-1.6l.7-18.9l.3-.7l.7,21.1l.6-24.5l.4,28.4l.7-27.8v25.2l.8-1.3v-22.7l1,19l.3-18.3l.8-.2l.1,19.3l1-19l.3,20.1l.3-4.4l.3-16l.9-6.1l.4,27.1l.5-23.6l.1,24.8l.6-21.9l.4,22.3l.6-4.3l.2-19.8l1.4,23.5l.2-20.8l.8,23.1l.2-21.5l.8,23.9l.2-35.3l.4,7.2l.4,25.2l.6-26.1l.6,28.5l.8-7.3l.2-19l.9,4.5l.2,20.9l.4-24l.2,23.1l1.1,.1l.2-21.3l.5-3.7l.4,28.9l.9,.5l.1-28.4l.7,23.8l.1-28.1l.5,4.3l.4,18.5l.7-17.3l.5,20.5l.8-20.1l.4,17.1l.3,7.7l.8-27.2l.7-.4l.4,21v2.1l.4-27.1l1,1.5l.2,26.6l.8,1.3l.3-25.1l.8,23.1l.3-22.2l.8,2.5l.2,21.4l.9-3.5l.1-23.7l.5,24.7l.6-22l.1,25.9l.4-26.4l1.4,19.5l.2-16.1l.4-.7l.1,17.9l.9-19.5l.2,32.2l.7-12.1l.1-29.5l.6,31.9l.7-23.7l.7,1.8l.3,18l.5-18.8l.6,21.9l.6-2.6l.2-16.9l.4-6.7l.4-58l.6,35.9l.7,41.4l.9-15l.1,24.1l.9-21.2l.1,15.1l1.1,5.3l.1-22.7l.2,1.3l.1,20.7l1.3-21.5l.1,17.8l.8-19.1v18.7l1.2,1.3l.2-18.6l.8-2.1l.2,22.6l.2,1.3l.4-22.1l1.5,18.3v-16.3l.4-4.4l.5,27.1l.5-23.2l.5,20.2l.3-20.5l.3,18.9l.6-1.8l.4-19.3l1.1,22l.5-22.6l.9,2.5l.1,23.1l.2-23.9l.8,24.2l.3-30.2l.4,28.6l.6-2.2l.1-18.9l.6,24.3l.3-26.7l1-2.9l.6,27.5l.5-3.4l.2-20l1,21.5l.2-22.6l.3,18.6l.8-15l.3,18.9l.3-20.7l.5,16.5l1-28l.1,48.9l.6-37.5l.5,19.3l.2-21.7l1,26.4l.2-26l.6,26.8l.8-28.4v2.8l.6,26.2l.7-4.7l.4-22.1l.4,.6l.7,17.6l.2-17.3l.5,22.4l.6-3.9l.2-18.4l1.3,.2l.3,23l.8-25.9l.2,21.3l.4-17.5l.3,20.8l1-21.5l.4,17.9l.5,.3l.3-22.7l.4,26.6l.6-21.3l.2-.1l.6,18.1l1.2-21l.1,24.8l.2-28l.7,23.8l.4,5.7l.8-25.7l.5,3.8l.2,18l1-2l.3-16.8l.7,14.1l.1-23.1l.4,23.8l.6-21.6l.4,6.1l.2,21.2l1.2-2.6l.1-15.3l1-5.1l.1,24.8l.7-25.4l.5,35.1l.7,3.7l.2-36l.7-.4l.1,14.5l.5,3.2l.4-20l.6-.8l.4,23.1l1.3-18.9l.1,17.2l.3,.4l.4-24.1l.8,2.1l.1,22.8l.8-1.4l.4-22.5l.4,23.5l.4-21.2l.8,21.4l.2-25.8l1,27.2l.2-18l.4-7.2l.7,23.1l.1-19.8l.1,20.4l1.4-23.7l.2,24.3l.4-23.3l.4,23.2l.7-2.1l.8-21.2l.5,2.6l.1,17.2l.6,2.7l.3-23.9l1.3,27.8v-26.7l.2,2.3l.8,19.3l.2-22.4l.5,21.6l.7-17.6l.5,19.7l.5,1.5l.6-23.9l.2,.3l.4,20.5l.6-21.5l.2,21.3l1.2,1.4l.6-22.5l.1,29.6l.8-26.2l.3,.8l.1,20l1.6-20.5l.1,18.3l.6-18.1l.1,20.8l.6-6l.2-14.4l.6,.1l.5,19.6l1.1-2.5l.2-18.6l.7-12.2l.4,28.7v7.3l.4-27.3l1.2,27.5l.2-26.9l.8,1.2l.1,24.7l1-29.9l.2,23.7l.1-17.5l.1,20.6l.9-21.9l.4,21.5l1-23.1l.3,23.7l.7-.7l.5-19.8l.1-4.4l.4,26.8l.7-19.6l.7,12.7l.5,2.5l.5-16.9l.4,16.7l.5-16.4l.5,20.5l.8-18.9l.2-4.1l.3,22l.5,11.4l.7-35.7l.7,1.8l.2,17.8l.5,3.4l.5-21.9l.7,2.7l.4,17.1l.3-17.7l.5,16.5l.6-16.2l.3,20.5l1.1,1.6l.1-23.9l.9,23.5v-25.4l.7,25.1v-22.2l1,18.4l.1-17l.9,16.8l.1-22l1,.7l.5,23.3l.5,.8l.3-22.8l1.1,20.5l.3-20.3l.7,23.8l.2-17.7l.3,21.9l.6-29.7l.4,3.1l.5,18.2l.6,5.3l.2-24l.6,0l.2,22.7l.9-6.9l.1-15.7l1.1,17.9l.5-16.6l.1-1.6l.8,28.7l.3-25.9l.3,19.8l.7-2.3l.2-20.8l1.4,5.1l.2,16.6l.2,1.4l.5-18.1l.9-2.5l.3,17.8l.3,2.5l.1-22.7l1.2,30l.2-29.1l1,18.5l.2-17.1l.5,4.7l.1,11l.8-17.5l.4,21.7l1.1-18l.2,21l.2,8.2l.8-32l.3,3.3l.2,16.7l.7-24.5l.6,26.8l.7-5.3v-19.5l1,25.5l.2-23l.8,.1l.1,15.4l.5,4.3l.4-18.9l1,19.3l.4-18.4l.4,16.9l.1-16.8l1,1l.1,16.5l.9,2.8l.1-20.4l.7-1l.7,25.3l.7-2l.4-20.8l.1,17.2l.6-19l.5,19.1l.1-20.6l1,.6l.7,21l.2,3.7l.8-25.5l.5-5.6l.4,28.6l.6-22.2l.1,18.6l.6,.6l.4-19.8l.5,20.3l.6-16.3l.8-5.1l.5,21.3l.1,4.1l.8-28.5l.2,25.4l.7-19.8l.5,17.4l.2-17.1l1.4,16.6l.2-19.7l.1,22.8l.2-21.8l.9,21.1l.2-19.6l.8,23.1l.2-29.2l1.4,30.7l.1-31.4l.5,28.4l.6-24.6l.2,.3l.3,24l.7-3.2l.4-16.6l.4,24.9l.7-27.3l.7,16.2l.5-14.2l.7,18.2l.2-23.2l.9-.2l.3,23.4l.2-23.2l.6,31.2l1-13l.1-16.9l.2,22.5l.3-25.5l.7,28.5l.2-21.6l.8-6l.2,23.4l.7-20.5l.3,24.2l1-5.2l.5-18.1l.6,21.3l.4-26.7l.4,8.1l.8,21l.3-6.3l.1-15.2l1.2,14.8l.2-18l.8,23.7l.4-26.4l.3,27.6l.2-23.4l1.4,19l.1-20.3l.4,21.8l.3-24.5l1.2,30.8l.1-26.4l.2-5.2l.7,23.2l.6,.3l.2-22.3l.4,2.8l.9,24.7l.5,2.1l.5-26.6l.3,20.7l.3-29.9l.7,9.4l.1,21l.6,4.5l.4-25.7l1.1-1l.2,23.6l.6-21.5l.5,21.7l.5-3.2l.6-20l.3,19.9l.2-25.4l1.2,21.5v-18.4l.4,4.2l.1,19.4l1-21.6l.6,20.4l.3-17.4l.4,18.7l1.2-20.4l.4,23.2l.3-1.1l.3-21.2l1,.1l.1,16.3l.6-22.8l.1,25l.8-1.1l.3-21.3l.9,2.7l.3,19.4l.6,4.2l.5-25.2l.8,20.1l.1-20.7l.3-2.4l.5,22.8l.7,4.6l.3-28.4l1.1,3.8v18.6l.4,8.9l.2-30.2l.9,24.3l.7-21.6l.2,.6l.5,17.9l1.4-18.9v19.9l1,3.8v-23.1l.5,24.9l.5-23.3l.1-1l.2,25.2l.9-6.7l.9-18.3l.8,.8l.1,18.4l.6-18.3l.2,16.6l.6,13.3l.1-28.5l.9-2.9l.5,19.9l.3-21.1l.5,23.6l1-20.7l.2,17.8l.3,3.4l.8-23.8l.2,24.1l.7-18.8l.6-14.3l.5,34.1l.1-.9l.9-21.1l.3-2.1l.1,22l1.1-1.3l.4-19l.3,17.9l.4-24.5l1.2,26v-21.7l.4,1.2l.4,21.6l.6-20.2l.7,18.1l.8-19.4l.3,26.4l.6-2.1l.2-23.9l.7,1.7l.5,16.8l.4-19.8l.1,23.9l.7-.5v-21.4l1.2,19.7l.5-21l.3-.6l.7,25.7l.7-25.8l.4,21l.7,.1l.3-16.7l.2,14.3l.7-17.9l.2,1.9l.2,19.3l.9-28l.8,30.1l.3-24.9l.6,23l.3,3l.6-25.4l.5,24.2l.6-25.5l.5,26.4l.6-26.1l.3,3l.3,19.9l.6-19.3l.3,24.4l1-2.2l.5-22.9l.1-1.7l.8,26.7l1.1-3.6v-23l.7,20.7l.2-16.8l.4,16.5v-14.8l1.5,18.1l.3-18.1l.4-5l.6,22l.7-20.7l.3,23.4l.3-4.6l.1-18.3l.6-2.9l.3,24.1l1.4-21.2l.2,16.4l.1-19l.8,21.9l.9-22.2l.1,22l.4-.4l.4-18.4l1.1,22.6v-25.7l.5,23.7l.4-21.3l.7,1l.2,16.1l.5,11.7l.8-34.1l.6,26.4l.2-22.7l.7,3.8l.3,23.9l1.1-10l.2-22.4l.5,6.8l.3,15.6l.9-17.9l.4,20.8l.2-18.5l.4,16.6l.9,7.9l.3-24.8l.5,16.4l.5-56.3l.3,18.8l.7,39.7l.2-21.7l.7,18.1l.7,11.5l.3-27.4l.7,2.8l.2,16.6l.7-14.7l.5,14.5l.3-18.6l.3,19.8l.8,3.2l.4-21.6l.4-9.2l.4,28.8l.7,2.2l.3-24.8l1,24.5l.4-21.1l.9,16.8l.2-19l.5,22l.3-24l.3-.1l.1,20.4l1.2,5l.1-23.4l.9,.8l.1,19l.9,1.5l.1-20.5l1,16.9v-18.3l.7-1.9l.6,23.1l.9,1.8l.4-21.5l.3,19.1l.6-22.8l.4,20.9l.6-17.6l.6,24.4l.3-24l.2,.6l.6,17.6l1.2-21.2l.2,20.1l.2-17.5l.5,17.6l.7-18.8l.4,25l.6-25.3l.2,21.7l.5-2l.3-22.8l1,3.5l.6,16.9l.1,1.9l.1-21.5l1.5,1.7l.3,23.6l.1-22.8l.8,15.1l.4,7.9l.3-20.2l.7,.3l.3,18.5l1-19.9l.4,19.1l.1-18.5l.6,24.1l.5-6.9l.1-18l.7-3.1l1,20v4.9l.5-20.1l.9,21.1l.1-23.4l.7,21.7l.8-21.5l.2,.5l.1,22.6l1.6-20.8l.1,21.1l.6-.2l.1-22.3l.3,20.3l.7-20.9l.8-1.2l.4,17.2l.7,.4l.2-17l.7-1.4v22l.8-22.5l.7,28l.4-29.5l.4,23.5l.5-18.6l.3,21.7l.9-25.6l.4,24l.3-1.6l.1-22.1l1.1,.7l.4,28.6l.6-4.6l.4-21.9l.4,31l.7-36.3l.5,5.6l.2,19.5l.5-23.4l.7,32.9l.5-29.7l.6,17.7l.7-18l.3,19.8l.3-2l.1-21.8l.8,2.9l.8,18.8l.3-20.2l.5,19.2l.7,2.1l.2-21.1l.7,.5l.5,20.6l.3-21.9l.1,25.1l1.3-23.6l.4,18.6l.5,1.4l.4-18.9l.7,20.9l.1-23.3l1.2,5.2l.1,16.7l.9,1.5l.2-19.4l.7,21.6l.1-22.5l.2,30.7l.6-34.2l.5,4l.4,20.1l1.1,3.3l.3-26.2l.3,2.3l.5,20.6l.4,2.7l.3-23.6l.7,1.5l.7,19.1l.4-18.3l.1,21l1.4-24.2l.2,22.2l.7-21l.2,21l.2,4l.5-28.3l1.2,5.6l.3,17.7l.8,3.2v-25.3l.6,2.3l.3,28.3l.4-27.6l.1,21.6l1.2-5l.6-18.3v.6l.3,20.1l.7-2l.7-20.7l.7-3.4l.1,24.6l.9,3v-22.5l.7,23.8l.8-21.8l.3,2.5l.2,18.3l1.3-1.3l.1-19.2l.3,19.8l.4-22.2l1.2-3v31l.5-9.6l.4-22.1l.5,3.2l.5,32.5l.9-11.2l.3-21.7l.4,21.5l.5-20.1l1-.7l.1,19.8l.2,8.3l.4-28.1l.6,24.1l.2-23.2l1.1,21.5l.5-17l.9,16.5l.1-20l.3,.5l.5,21.9l.4-2.2l.1-29.8l1.1,9.6l.8,22.5l.2-22.5l.4,34.9l.9-33.6l.3,16.3l.9-.5l.1-19.4l.7,.9l.3,22.9l.6-2.3l.4-19.7l.6-8l.2,32.2l1-6l.2-21.4l.5,24.9l.6-32.2l.5,28.2l.3-20.4l.9-1.9l.2,33.9l.4-34.4l.5,22.4l.6-19.4l.3,28.3l.8-8.2l.1-18.9l.5-1.5l.5,20.3l.9,4.8l.2-26.9l.6,24.8l.2-22l1,18l.4-14.7l.3-.8l.1,19.1l1.4-2.6l.1-16.5l.7-3.2v27.1l1.3-24l.1,20.3l.3,3.5l.5-24.8l.4,2.8l.3,19l.9-2.1l.2-25.3l1.1,27.2l.3-20.4l1-1.9v20.2l.2-20.2l.3,19.2l1.2-.2l.2-19.5l.4-2.3l.2,25.1l1,3.3l.2-25.7l.7,20.6l.6-22.6l.2,3l.8,23l.9-31l.1,34.2l.4-6.5l.4-24.4l.4-1.3l.3,21.8l.7-18.2l.8,24.5l1.2-.5v-22.7l.3,20.6l.3-18.4l1.3,15.5l.1-18.1v0l.2,18.8l1.1-22.5l.5,26.2l.8,1.7v-24l.7,3.8l.2,20.4l.8-4.3l.3-23.9l.7,2.5l.5,20.2l.5,1.4l.5-22.3l.5,4.2l.2,23.3l1.4,1.7l.1-24.5l.4-2.2l.4,28.3l.3-7.2l.9-19.9l.5,16.5v-15.8l.8-2.5l.5,21.9l.3-21l.5,28.7l.5-28.6l.4,20.1l1.1,3.4l.4-22.4l.4-4l.2,27.7l1.4-6.2v-17.6v.2l.9,19.1l.2-2.5l.1-14.1l1.2,21.4l.4-25.3l.5,24.3l.5-24.8l.6,.9l.3,19.1l1,.7l.3-18.4l.8,20.2l.1-18.8l.3,21.9l.2-26.3l1.2,3.4v16.4l1-15.4l.2,20.5l.7-19.5l.2,17.4l.5-16.7l.6,14.8l.5,3.9l.5-23.6l.4-.5l.5,23.8l.3-2.8l.2-22l.9,23.4l.5-24.9l.4,26.8l.8-23.5l.8,.5l.2,23.6l.3-27.4l.8,27.6l.2-6.9l.9-15.8l.1,20.4l.5-22.2l1.1,3.6l.3,17.8l.2-22l.2,21.2l1.2-19.6l.1,22.8l.9-20.8l.3,18.6l.2,2.6l.5-20.5l.5,16.2l.9-17.6l.2,18.2l.6-23.1l.2,23.2l.8-22.5l.4,21l.7-35.3l.3-13.1l.8,20.2l.2-10.9l.8,23.5l.1-7.3l.8-27.8l.1,2.6l.8,27.2l.3-9.7l.9,25l.2-17l.8,20.5l.1,2l.8-42.2l.4-.4v21.5l.9-13.7l.8,19.7l.5-17.4l.3,21.3l.2-16.6l.7,18.4l.6,6.3l.1-20.4l1.1,.7l.4,20.4l.3-19l.4,21.2l.4,2.4l.8-24.4l.8-.8l.2,25.4l.3-22.2l.7,17.7l.4-16l.6,18.1l.8-18.9l.1,22.3l.5-2.3l.2-18.7l1,13.5l.6-33.3l.1,.5l.7,33.4l.8,9.7l.3-22.5l.6,34.2l.1-37.7l.6,21.6l.8-23.6l.2,5.8l.6,20.1l.2-2.3l.1-21.3l1.5-2.8l.4,24.7l.6-22.3l.3,18.7l.1-21.6l.6,25.3l.7-23.4l.5,21.3l.2,1.6l.8-22.6l.4,24l.5-26.5l.5,20.3l.2-20.7l.9,.9l.3,25.4l.5,2.8l.1-23.5l1.3,.9l.5,15.5l.1-21.8v22l1-16.8v17.8l1.6-20.1l.1,21l.4-2.9l.4-16.9l.6-5.2l.5,22.8l.4,1.2l.3-18.8l.9,16.9l.1-16.7l.8-3.9l.5,20.2l.8-13.3l.4,14.7l.2-19.4l.2,20.6l1.2-19.9l.2,22.3l.9-20.3l.4,20l.6-21.5l.1,23.3l.4-1.3l.7-25.9l.8,3.8l.1,22l.5-3.3l.2-17.2l.7,22.8l.7-23.9l.3,14.4l.6-34.5l.5,13.2l.7,24.4l.9-12.1l.1,16.3l.5-18.1l.2,25.3l.4-8.5l.9-18.3l.2,19.7l.6-21.8l1,21.1l.1-22.8l.9,21.1l.2-19.6l.5,22.1l.5-29.5l.1,27.2l.6-20.1l.7,1.4l.7,18.7l.3-18.4l.7,15.3l.4-.3l.2-16.2l.4,17.6l.3-15.2l.8-2.9l.8,19.4l.8-17.9l.3,21.2l.6-24.9l.3,28.2l.3-22.7l.3,15.5l1.2,10.7l.2-32.9l.1,7l.4,21.3l.8-6.6l.3-19.8l.5,21.3l.2-16.7l1.2,18.1l.5-24.5l.3,22.9v-20.3l1.5,25.6l.3-26l.8,19l.2-15.1l.5-1l.3,19.7l.5,1.5l.1-20.9l.8-10.8l.4,27.9l.4,2.4l1-20.7v6.1l1-92.3l.1,7.4l.7-30.5l.4,11.9l.6,27.8l.2-1.5l.9,24.7l.1-5.5l.9,25.6l.2-11l.2,28.4l.7-15.5l.5,25.3l.6-15.8l.5,25.4l.4,1.1l.8-20.8l.9,.4l.3,20.5l.1-21.1l.1,27.5l.8-19.8l.9,21.1l.4-18.3l.7,17.9l.1-27.3l.7,26l.4-17.4l.1,20.2l.8,2.5l.8-22.3l.2,21.3l.3-25.4l1.2,6.3l.2,20.6l.2-24.4l.8,24.9l.3-18.9l.7,15.6l.6,4.6l.1-26.4l.5,1.9l.8,19.2l.6,4.1l.6-26.4l.2,21.7l.8-22.1l.6,19.1l.2-16.6l.2,20.1l.4-22.7l1.1,19.1l.4-19.1l.3,19.7l.2-17.6l.9,16.3l.4-15.8l.6-2.3l.6,22.5l.5,1.6v-21.4l1.4-1.3l.2,19.3l.8-.8l.1-17.5l.2,22.1l.1-23.1l.9,.2l.7,24l.3-24.4l.5,20.1l.5,1l.9-21.7l.5,1.6l.3,17.3l.6,3.9l.4-28.6l.6,25l.2-17.2l.5-9.8l.1,31.8l1-22.7l.5,19.7l.5-19.5l.1,21.5l.8-24l.6,21.8l.4-.1l.4-21.8l.9-1.4l.5,25.4l.5-23.3v20.3l.9-20.3l.2,24.8l.7-2.3l.5-20l.4,19.3l.3-23.1l1.5,21.8l.1-16.4l.4,13.1l.6-23.8l.2-13.3l.6,37.6l.2,.9l.6-19.8l1,24.1v-18.8l.5-2l.8,17.7l.3-16.3l.4,17.9l.5-.5l.8-18.5l.3,25.8l.4-25.9l1.2,.6l.2,18.1l.2,3.3l.1-23.6l1.1-.4l.4,20.2l.9-19.7l.2,24.4l.5-27.1l.1,23.8l1,2.7l.1-23l.6-.8l.6,21.7l.2-23.6l.2,25.7l.9-21.7l.4,31.4l.5-14l.6-18.2l.6,19.7l.6-19l.3,1.6l.4,19.7l.7-3.5l.4-20.2l.6,20.2l.7-62.7l.3-10.1l.8,29.2v-11.3l.6,33.7l.5-22.2l.8,28.4l.1-16.1l1,19.5l.1-9.8l.7,18.8l.9,0l.1-21l.6,31.4l.2-25.3l1,24.6l.2-23.8l.3,15.6l.8-20.1l.2,8.5l.7-43.9l.3,5.2l.5-34.1l.5-1.5l.7,23.1l.2-4l1,29.9l.5-10.3l.3,24.7l.2,9.5l.6-23.1l.7,11.3l.3,24.4l.7-19.9l.2,20.4l.8-19.5l.7,18.7l.1,.7l.4-15l.7,16.1l.4-22.3l1,6.5l.1,21.8l.4-22.8l.7,15.8l.4,3.4l.3-19.8l1.2-.5l.3,21.5l.2-18.4l.2,20.2l1-22.7l.6,21.5l.1-3.9l.6-17.2l.6,21.4l.6-22.7l.4,0l.2,19.2l1-.1l.5-38.4v16l.9-53.7l.3,2.2l.8,35.9l.2-11.5l.7,30.8l.7-34.4l.4,36.3v-11.9l.7,21.4l.4-13.7l.9,19.2l.2-.6l.8-16.9l.4,16.9l.4-16.7l.9,21.2l.1-22.1l.3,19.9l.1-23l1.4,1.5l.4,22.2l.7,8.6l.2-31l.3-2.7l.4,24l.7-1.5l.3-15.3l.9,16.1l.1-18.1l1-2l.3,26.8l.3-.4l.3-28.5l.8,4.2l.7,21l.2,1.7l.4-23.8l.8,20.5l.5-26.1l.1,8.5l.2,27.8l1.4-9.2l.1-19.2l1,20.1l.3-20.7l.6,16.4l.2-13.4l.3-3.7v18.4l1.1-19.9l.2,21.9l1-21.1l.4,23.2l.6-21.6l.4,27.1l.9-28.2l.1,19.3l.8,4.6l.4-29.3l.2,2.3l.3,19.3l.5-18.9l.4,22.5l.8-17.3l.2,21.9l.7-4.3l.1-20.4l.8-1.5l.3,30.6l1.3-7l.4-21.5l.3,25.8l.5-27.9l.7,20.7l.4-18.8l.6,18.1v-20.8l.5,6.6l.2,16.5l1.3,.3l.1-19.8l.7,21.9l.6-24.7l1-3.9v26.5l.5,2.6l.4-21.5l.5,23.7l.5-23.9l.9-1.8v20.5l.7-3v-19.8l.6,2.7l.5,20.1l.5-27.3l.4,32l.6-4.9l.8-20.3l.8,21.4l.2-24.2l1,20.7l.1-14.9l.1,16.2l.4-23.1l.8,22.9l.6-19.2l.6,18.5l.2-19.5l1,2.6v18.3l1.2-18.2v21l.2-18l.3,19.2l.7-24.4l.1,22.9l1.2,6.8l.6-32.1l.4,24l.5-18.6l.6,23.1l.6-23.9l.6-.5l.1,21.6l.6-23.6l.7,22.7"/>
<path class="d" stroke="#2ca02c" d="M100.9,503l.2,15.1l.9-14.4l.2,24.7l.6-25.2l.6,16.2l.3,4.7l.8-21.4l.2,14.6l.7-97.7l.2,11.6l.9,73.7l.3-7.2l.4,22.8l.6-19v19.4l1.1-18.3l.7,17.1l.8-17.6l.2,16.8l.5,4.6l.1-21.8l.5,19l.1-18l1.4,1.2l.3,16.6l.1-21.7l.2,19.3l1.1-15.8l.4,18.5l.6-20l.3,21.4l1.3-19.8v17.4l.5-19.8l.5,21.7l.4-20.9l.1,18l1.1,0l.3-15.9l.6,3.2v10.9l.7-13.5l.7,15.8l.7-13.6l.4,15.8l.6-15.7l.4,20.3l.1-8.9l.4-16.7l.8,21.8l.4-20.2l.9,1l.1,18l.4-16.4l.6,14.7l.6-17.1l.7,17.6l.4-17.8l.2,23.5l.8-22.4l.7,13.8l.2-14.7l.6,19.3l.5,2.9l.6-21.1l.4,17.9l.1-17.7l.7,2.1l.5,17.3l.5-1.3l.3-20.6l.6-1.1l.6,20.4l.4,1.6l.9-20.5l.6,21.7l.2-19.9l.6,17.3l.2-16.9l.8,.8l.2,17.2l1.2-3l.2-16.9l.6,20.5l.4-19.8l.4-.9l.5,20.3l.8-21.6l.3,19.8l.6-23.6l.1,21.8l.4,2.4l.4-23.4l1.4,3.7v18.7l.4-3.2l.4-17.9l.7,18.6l.2-12.7l.8-6.2l.3,21.5l.4-23.5l.8,23.6l.6,6.5l.3-21.4l.4-12.4l.3,27.2l1.3-17.1l.3,16.3l.2,.6l.8-17.7l.2,20.3l.4-18.9l.7,16.7l.4-19.5l.6,22.1l.1-22.1l1.1,17.8l.4-17.6l.2,26.1l.2-27.9l.7,4.2l.3,21.9l.7-4.4l.5-14.1l1.3,18.3l.2-17.8l.3-7.2l.5,23.6l.3-19.1l.4,18l.7,4.7l.6-20.7l.7-3.9l.1,21.6l.4-4.8l.8-19.8l.3,2.9l.6,20.6l.8-1l.4-20.5l.3,3.2l.6,21.4l.8-23l.4,18.4l.6-16.3l.1,16.8l.8-23.2l.4,20.8l.2,.7l.1-18.5l1.1-.5l.5,18.8l.2-22.3l1,23.5l.1-19l.5,16.9l1.2,3.8l.2-19.8l.2-2l.3,24.6l1.2-4.9l.1-18.5l1-3v24l.6-21.4l.2,18.8l.5-17.6v18.6l.9-20.2l.7,25.8l.4-24.7l.2,17l1.4-3l.3-22.8l.2,8.7l.3,17.2l.6-15.8v18.6l1.1-1.6l.6-16.5l.8-1.7v21.6l.6-7l.2-15.3l.7,1.8l.4,21.7l.6-1.7l.2-21.6l1.1,3.5l.1,15.3l.9,1.3l.1-17.6l.5-3.6l.2,22.6l.9-20.8l.7,18.1l.8-17.4l.1,20.6l.3-3l.7-19.4l.9,1v23.7l.7-24.8v16.2l1,.2l.7-15.7l.2-1.9l.4,23.7l1.1,1.9l.3-24.1l.1-1.6l.9,18.8l.8-17.7l.1,13.5l.5,3.3l.1-14.4l.7-3.2l.2,20.9l.8-1.7l.3-18.4l.7-2l.2,19.5l.6-21.5l.3,22.9l1-18.2l.2,18.8l.6,.8l.9-19.1l.1,21.6l.8-19.4l.8,20.9l.2-21.6l.4,18.5l.3-18.7l.6,18.4l.1-19.7l.8-3.3l.8,23.6l.3-22.4l.2,22.9l.7,1.9l.6-23.4l.6,2.4l.3,15.8l.5,3.1l.1-19.5l1.5,.7l.3,18.3l.2,.1l.7-18.6l.6-1.7l.4,17.6l.1-19.7l.2,18.2l1.6-17.4l.1,19.5l.3-16l.5,17.5l1.1,4.5l.2-26.5l.2,1.9l.2,18.5l1.2-20.9v23.7l.8-18.2l.1,24.1l.9-9.2l.1-17.2l1.2,1.4l.3,15.4l.4,4l.1-23.4l.5,1l1,21.4v-1.8l.8-19.2l.3,.2l.8,19l.3-18.5l.7,19.4l.5,2.8l.4-28.4l.4,28.9l.2-21.7l1.4,13.7l.1-13.7l.3-4.3l.1,22.1l1.3-21.4l.1,23.2l.6-1l.6-20.3l.4,18.7l.5-17.9l.5,23.9l.3-28.7l1.3,22l.1-22.5l.4,24.4l.4-20.1l.6,19.8l.1-17.5l.6,17.6l.5-19.7l.4-4.5l.4,21.2l1.2,.8v-20.4l.7,3.5l.6,17.2l.3-2.3l.2-19.2l.7,23.5l.6-22.2l.3,18.2l.7-17.5l.3-.7l.3,22.7l.9-27.6l.7,25.8l.7-.6l.3-14.8l.3-2.6l.7,14.7l.8,5.1l.1-20.6l.3,19.7l.3-24.5l.9,25.3l.6-24.1l.6,22.8v-17.6l.7,17.1l.3-16l.9-1.3l.3,14.9l.8,1.8l.1-16.6l1,23.6l.1-23.3l.5-.2v18.3l1-.3l.8-18.4l.6,18.4v-23.2l.4,24.1l.8-22.4l.6,.5l.6,22.2l.7-2.4l.3-16.4l.4-2.4l.5,21.4l.6-21.6l.3,20.2l.5-18.5l.2,14.8l.9-.1l.2-12.8l.8,2.1l.5,14l.3-1l.6-15.3l.3,14.5l.7-19.5l.2,21.5l.2-16.9l1,23.1l.8-20.5l.5-2.4l.1,12.8l.8-17.8l.3,27.6l.3-24.7l.3,18.5l1.3,1.8l.2-20.5l.6,21.9l.3-26.7l.9,24.6l.2-17l.6-4.3l.3,18.3l.7-14.5l.3,15l.4-15.7l.2,19.4l1.1-20.5l.6,17.7l.4-18.9v19.1l1.1-20l.1,20l.6-17.6l.4,18.8l.5-.6l.6-19.4l.5,2.3l.7,21.8l.5-5.9v-15.5l.8,13.7v-19.6l1.5,24.1l.1-22.8l.5,16.7v-14.3l.8-3.9l.2,27.2l.9-20.2l.5,16.4l.5-18.7l.1,13.4l1.4-10.9l.2,14.3l.1-14.5l.9,14.3l.1,1.1l.7-18.5l.9,17.1l.2-14.9l.6,1.4l.1,18.7l1.1-1.8l.2-18.8l.8,14.8l.2-16.7l.7,21.5l.3-26.5l.2,26.9l.7-20.1l.6-1.4v19.5l1.2-18.7l.1,21.8l1.1-3.1l.1-17.5l.6,23.9l.2-24l.5-.4l.4,18.8l.6-21.9l.3,17.3l1.3,11.4l.1-24.3l.4-2.6v20.1l1.2,3.8l.5-23.5l.3-.8l.1,17.8l.9,8.4l.6-25.1l.4,18.6l.7-17.4l.2-1.8l.7,17.8l.2-19.4l.1,21.3l1,4.1l.9-26.5l.3,17.8l.7-15.3v16.6l.8-15.6l.6,15.9l.3-15l.7-4.6l.4,22.4l.8,6l.4-27l.2,4.4l.3,24.2l.7-24.4l.8,17l.4-3.9l.2-14l1,14.6l.1-15.5l.3,17.6l.9-17.1l.1-.2l1,15.9v.3l.6-20l.8,5.2l.2,14.4l.6-26.7v29.9l1.2-17.7l.5,21.6l.1-3.6l.9-22.9l.4,6.5l.3,12.5l.7-21.2l.1,23.5l.7,1.3l.3-19.1l1,15.6l.1-17.6l.6-1l.5,15.5l.4,4.1l.2-18.4l1.3,.5l.1,16.4l.9-1.5l.1-17.2l.6,0l.1,20.2l.8-.6l.6-18.5l.3,18.3l.9-18.8l.8,21.9l.1-21.2l.3,3.1l.6,19.8l.6-3.2v-19.6l.8,22.6l.7-20.5l.2-1.7l.4,18.6l.7-16.1l.7,14.8l.7-16.1l.4,14.7l.8,6.9l.3-23.1l.1,21.4l.5-21.9l1.1,1.5l.1,21.2l.9,1l.2-24.6l.2,.1l.8,29.7l.3-12.1l.5-12.2l.3-2.2l.8,17l.4-18.8l.3,19.9l1.2-.5l.1-19.5l.3,16.7l.1-13.6l1.3-2.8l.4,23.3l.1-.6l.1-20.8l1.4-.7l.3,16.4l.7-14.4l.1,18.4l.5-4.5l.7-18l.3,16.9l.5-16.3l.6,2.2l.6,18.5l.5-1.2l.5-16.5l.6-.8l.1,21.6l.7-21l.1,14.9l1.3-18.6l.3,18.7l.4-.1l.1-15.9l1.4-1.2v16.9l.6-16.5l.6,16.5l.4-16l.4,17.7l.6-3.3l.3-15.5l.4,18.1l.6-14.6l.7-.4l.4,18.2l.2-21.3v19.5l1.3,7.2l.1-22.5l1-5.1l.3,21.7l.6-2.8l.5-18.7l.4,3.4v19.1l1-23.6l.1,20.4l.7-23l1,21.5l.4-18.4l.1,18.4l.6-16.4l.1,17.1l.9,4.5l.6-23.1l.4,20.7l.5-20.6l.8,3.2l.6,20.1l.5-20.6l.4,17.2l.8-21.9l.1,20.4l.3-17.3l.4,28.1l1.1-11.6l.1-15.8l.7,.4l.5,17.6l.4-3l.5-13.1l.3-1.1l.5,15.9l.6-.4l.2-17l.7,17.7l.5-18.6l1-2.3l.4,19.7l.8-17.4l.2,20.8l.2,4l.8-23.3l.3,21.9l.6-19.6l.3,17l.5-17.3l.8-.7l.3,17.9l.8,3.2l.2-22.4l.2,1l.8,20.8l.4-1l.3-21.8l.7,20.2l.2-19l1.2-1.7l.2,18.8l.3-17.8l.2,15.4l.9,4.3l.6-18.9l.6,15.2l.3-19.5l.5,24.4l.2-19.3l1.3-2.3v16.6l.7,2.5l.1-20.3l.7,15.2l.5-16.4l.6,3.1l.7,18.4l.1-15.5l.1,16.7l.9-1.7l.3-19.8l1.1,24.1l.5-20.8l.2,16.2l.6-20.3l.6,21.4l.5-21.1l.2,21.8l.8-19.4l.2,21.8l.1-18.3l.9,12.3l.8-16.5l.5-.9l.2,18.2l1,1.8l.3-19.5l.4,22.2l.1-22.7l.7,1.2l.7,23.4l1-2.4v-21.4l.3,23.1l.2-19.6l.7,20.1l.8-27.7l.2,7.2l.6,15.4l.7-14.3l.5,19.2l.7-26.5l.2,18.7l1.2-13.6l.1,15.5l.1-14.5l.8,14.8l.3,1.3l.5-17.5l.6,19.9l.3-20.3l.5,17.9v-17l1.1-.8l.3,15.8l1.1,12l.2-29l.4-4.6l.7,25l.2,1.1l.1-19.5l.8,15.4l.7-15.9l.9,2.2l.2,18.2l.4-4.8l.1-17.2l.8,20.4l.3-18.6l.7-2.5l.7,21.4l.4-18l.4,15.9l1.1-25.2l.3,25.4l.2,2.4l.1-20.8l1.3-1l.3,17.5l.8,12.1l.1-29.2l.6,3.7l.4,17.4l.6-24l.3,20.7l.5-17.7l.6,16.4l.7,5l.5-21.5l.6,16.1l.3-13.9l.6,17.4l.2-21.8l.8,23.9l.5-20.4l.2,.2l.6,24.5l.7-3.8l.2-18.9l1,19l.2-21.6l.2,.2l.8,19.1l.2-16.8l.7,21l.2-3.4l.2-17.2l1.4,12.2l.2-13l.7-3.3l.2,20.9l.4-20.1l.4,16l1.2,3.7l.2-17.1l.7,20l.2-21.8l.4-1.5l.8,20.4l.4,2.5v-19.2l1,14.8l.2-16.7l.8,16.6l.4-19l.6,24.6l.2-22l.6-4.2v24.1l1-18.8l.8,15.1l.4,2.1l.2-20.2l.5,1.1l.3,18.7l.6,8l.2-22.6l1.1,11.9l.5-22.7l.4,24.2l.7-16.4l.4,14l.6-13.7l.1-6l.9,21.7l.6,3.4v-17.2l1.1,13.1l.2-18.1l.3,16.4l.8-15l.7-1.2v21l.6,2.5l.2-19.9l1,19.3l.4-23.1l.8,4.3v13.6l1.2,3.2l.1-22.3l.8,20.6l.2-17.2l.4,.2l.7,14.7l.4,2.1l.3-19.1l.6,21.6l.2-20.5l.9-3.5l.3,24.9l.7-28.1v29.3l1-19.9l.1,16.8l.7-16.4v13.6l1,3l.5-18l.3,.3l.6,19l1.1-4.3l.1-15.8l.8-1.3l.2,19.2l.5-17.8l.2,19.8l.7-21.2l.6,20.7l.2-2.4l.6-17.1l.6,.9l.7,20.6l.9-7.9l.1-12.5l.7,19.3l.4-19.7l.3-6.2l.3,23.1l.4,3.7l.5-27.2l1,6.2v16.6l.9-16.1v16.7l1,1.3l.2-24.7l.5,5l.2,17.3l1.4-15.7l.1,19.4l.8-3.6l.1-15.8l.4,17.6l.4-18l.7-5l.1,24.1l1-20.5l.7,18.8l.3,2.2l.2-19.5l.7-.2l.3,18.5l1.2,4.4l.1-19.1l.6,14l.6-33.9l.2-3l.5,26.2l1.1-8.3l.2,17.8v-15.8l.5,20.7l1.3-20.8l.2,17.2l.1,.9l.9-24.2v6.2l.9,22l.5-23.3l.4,18.4l.3,1.1l.4-15.5l.5,24l.2-26l1.6,20.3l.1-22.2l.6,2.1l.5,19.9v.8l.2-22l1.4,2.8l.3,14.1l.8-13.6l.2,15.3l.1,3.8l.9-23.5l1,18.8v-18l.5,.9v20.4l1.4-2.6l.2-17.5l.4-.6l.2,14.4l.6,2.5l.3-16.1l1.1,19.1l.2-18.6l.8,14.9v-18.9l.6,25.5l.3-25.2l.7-.1l.4,20.7l.4,.6l.7-18.8l.3,19.1l.4-20.7l1,.9l.6,25.9l.5-7.4l.1-19.2l.6-.1l.2,18.1l1.1-17.8l.5,17.5l.4-18.9l.3,21.7l1-.4l.3-20.5l.5-2.2l.4,18.3l.3,1.9l.2-18.9l.7,18.8l.2-17.2l.7,22l.5-20.9l1,15l.2-17.1l1,.3l.2,17.9l.5,.7l.5-15.4l.2,14.9l.8-16.3l.1-9.3l.7,27.9l.4-1.6l.3-19.6l.8,5.5v13.9l1-2.4l.1-16.6l1.2-.5l.3,19.7l.6,11.5l.4-29.2l.2,20.9l.6-22.8l.9,19.1v-19.6l.5,.5l1,22.4l.6-2.4l.3-18.5l.4,16.2l.1-14.6l.7,18.6l.5-21.2l.4,19l.5-20.5l1.1,4.1l.2,18.5l.6-3.4l.4-22l.6,5.9l.2,18.6l.6-3.1l.8-15.5l.6,.3l.3,21.7l.3-2.8l.7-18.1l.2,15.7l.6-13.6l.7,12.3l.4-12.8l.3-3.4v22.5l1.2-20.9l.1,17.6l.6-18.8l.1,15l1.4,2.7l.1-19.4l.6,2.9l.3,13.1l.7-10.7l.7,11.9l.8,11.3l.2-30l.6,4.2l.2,16.3l.6-.2l.4-17.7l.5,27.9l.5-26.4l.5,24.7l.6-25.1l.4-2.2l.1,20.5l.8-17.6l.9,23.4l.8-6.5l.1-16.7l.5-.8l.4,25.4l.8-24l.3,16.1l.1-21.1l.3,20.7l1.1,11.4l.4-30.6l.8,19.2l.3-19.1l.2,4.1l.6,19.6l.5-18.4l.2,11.6l.8,1.6l.5-13.8l.5,18l.2-22.3l.6,.6l.6,22.1l.5-1.8l.1-17.2l1.3,16.7l.2-20.7l.3,22.3l.8-19.7l.3,19l.4-16.6l.7-2.3l.8,19.1l.4,3.2l.3-23.2l.7,17l.4-20.5l.2,5.8l.8,17.6l.8,4.7l.3-25.4l.2,2.4l.7,19.7l.3-2.9l.2-20.9l.9,3.9l.5,22.2l.6-5.4l.3-19l.7,25.8l.2-26.3l1.2,2.1l.1,30l.2-12.9l.8-16.4l.2,17.3l.2-17.6l.8-1.6l.8,24.1l.8-5.9l.2-13.4l1,14.5v-20.6l.4-4.6l.6,22.6l.4,2.2l.2-19l1.3,3.1v17.5l.8-23.7l.1,20.7l.4,3.2l1-21.9l.3,20l.5-19l.5,.8l.2,21l.5,2.4l.4-21.9l.7,17.2l.6-16.3l.5-4.4l.6,18.8l.4,1l.7-17.9l.2,26.2l.7-29.8l.3,4.6l.7,15.8l.4-21.1l.2,20.9l.8-16.5v22l.9-25l.2,17.8l1-.9l.4-16l.3,20.3v-15.7l1.6-5l.1,17.5l.5,3.1l.4-20.4l.7,1.1l.1,18.8l1.1-17.8l.3,15.2l1-.5l.2-16.2v17.6l1-15.9v.1l.2,15.9l1.4-16.1l.3,16.8l.5,2.3l.6-17.2l.3,15.9l.6-19.1l.6,23.9l.1-24.1l.5-2.4l.3,22l.9-20.8l.5,17.9l.8,1.5l.2-18.4l.6,22.6v-19.9l1-2.2l.4,21.3l.9,.1l.2-22.1l.1-.1l.9,17l.7,3.3l.1-19.3l.6-.1l.3,22.5l1-5.1v-16.7l.7,17.1l.5-16.6l.4,19.2l.4-17.6l.7-2.5l.6,18.6l.6-19.3l.4,24.3l.2-23.7l.6,17.3l.5,4.9l.2-19.9l1.3-4.4l.2,17.4l.4-16.4l.2,19.4l1.3,4.2v-23.2l.8,1.4l.3,23.8l.5-7.4l.6-16.2l.4,20.2l.3-25.7l.4,9.4l.4,13.2l.8-1.6l.4-12.6l.3,12.8l.3-14.9l.9,1.6l.5,17l1-.9l.1-20.3l1,4.6l.1,19.7l.1-23.4l.6,15.3l.7-14.8l.3,18l.5,2.1l.8-18.4l.9,18.3l.1-23.6l.8,3l.2,20.9l.4-2.5l.2-16.6l.5,13.7l.5-18.2l.8-6.5l.1,27l1,.6l.5-16.3l.8-1.1l.1,25.5l.7-3.1l.3-25l.4,22.9v-20.2l1.1,1.8v15.3l.7-15l.4,22.2l1.1-4.4l.3-23.6l.7,4.6l.1,17.8l.8-5l.1-12.5l.7,13.7v-16.6l1,4l.1,15.2l.8-.1l.4-21l.9,5.1l.3,14.1l.5,3l.5-15.6l.4,21.6l.2-25.8l1.3-1.5l.4,21.4l.2-16l.1,15.1l1.1-22.3l.2,20.9l1-19l.3,20l.2-19.1l.2,22.2l.9,1.8l.6-23.3l.3,23.5l.3-26.2l1.2,21.6l.4-18.1l.5,17.2l.4-13.9l.7,10.4l.4-12.4l.3-1.5l.2,18.2l.7-18.3l.5,17.6l1-18.4l.1,18.6l.3-17.1l.4,15.3l.8-18.5l.5,21.2l.2-.6l.6-18.6l1.1,25.5l.2-27l.2,.9l.5,18.5l.8,1.8l.3-19.4l.4,19.2l.1-17.7l.8-2.7l.3,20.9l1.3-1.4v-19.2l.8,16.4l.3-14.8l1,17.6l.1-22.5l.3,4.9l.4,21.2l.7-4.1l.1-16.8l1.3-1.7l.3,15.9l.3,6.5l.6-19.2l.5-.9l.5,18.5l.5-17.1l.7,12.6l.2-16.9l.6,17.9l.7-12.6l.4,12.6l.3-14.8l.2,19.9l1-19.7l.3,17.1l.3-16.1l.5,11.8l1-13.3l.3,18.8l.4-4.4l.5-13.2l1.1,14l.1-20l.6,28.3l.3-25.5l.8,.4l.1,17.8l1-.7l.2-16.6l.7,.2l.1,15.5l.6-15.3l.5,15.6l.6-.6l.5-14.8l.7,3.1v17.7l.8-6.2l.3-16.4l.9,22l.4-21.2l.3,19l.5-20.2l.6,21.7l.3-28.4l.7,2.6l.3,18.6l1,7.5v-20.8l.9-.6l.3,15.5l.5-16.7l.3,19.3l.3,.4l1-18.9l.2,25.4l.6-28.2l.8,4.8l.3,16.1l.4-17.2l.1,23l1.3-1.5l.2-19l.2,1.8l.2,9.4l.8-16.1l.6,21.4l.5-19.5l.4,21l.5-.7l.3-17l.8,17.1l.5-19.2l.9,22.8l.1-22l.5,13.3l.7-14.3l.4,20.6l.4-21.1l.8,21l.4-24l.6,22.2l.1-20.6l.6,20.9l.7-20.6l.5,18.8l.5-16.2l.3,16.3l.4-20.2l1.2,20v-21.2l.3,21.9l.4-25l.9,23.5l.2-17.4l.8,.9l.3,19.6l.6-19.8v23l1.1-22.1l.2,16.5l1.2-20l.2,21.1l.4-16.8l.4,18.8l.7-2.3l.3-17.1l.4-.3l.8,18.8l.6-.2l.2-19.2l.7,23.2l.3-26.7l.3,3.5l.8,20.4l.6,1.1v-24.5l.7,20.1l.2-15.5l.6,23.5l.4-26.2l.8,15.9l.7-14.5l.4-5.4l.6,21.2l.3,.3l.8-13.8l.2,11.8l.2-15.9l1,2l.3,15.8l.8-15l.3,20.9l.6-23.8l.2,18.1l1.2-21.6l.1,23.2l.2-19.5l.1,22l1,1.4l.2-26l.6,22.7l.5-18.4l1.2,15.6l.2-21.2l.7,22.2l.2-16l.8-2.7l.2,32.1l.5-32.2l.5,19l.6,5.5l.2-22.2l.7-4.1l.6,28.3l.6-22.6l.1,14.5l.6-.2l.4-12.4l.7-2.5l.7,14.4l.4-20.5l.5,21.2l.6-15.4v24.4l.8-10.3l.3-14.4l.6,1.2l.2,17.9l.7-12.4l.6-110.5l.3,50.1l1,62.2l.3-8.3l.5,14.9l.6,2.1l.1-17.4l.6-.6l.3,20.6l.7-20.3l.6,16.9l.3,0l.8-22.3l.9,4.4l.1,18.6l.2-21.1l.1,19.2l1.1,.1l.7-18.7l.3,2.9l.6,16.9l.8,2.6l.4-20.2l.4,2.1l.1,16.4l.7-17.9l.3,21l.6-19.4l.8,16.2l.2-.4v-16.2l1.2-3.2l.5,16.6l1-23.3l.1,27.8l.1,1.5l.6-21.7l.6,19.9l.2-22.3l.8,3.4v17.4l1.1-15.9l.6,17.8l.4,2.7l.5-21.9l.5,18.7l.4-17.8l.5,15.7l.1-17.7l1.5-.3v18.5l.7-23l.3,27.1l.6-2.4l.5-18.3l.1,21.4l.6-20.6l.4-1.4l.4,23.4l1.1-4.9l.1-17.3l.8,18.2l.3-19.8l.7,.9l.6,13.1v-13.6l.4,22.6l.6-8.9l.2-13l.8,18.4l.6-18.2l.7,13.9l.4-16.9l.8,20l.3-15.9l.3,12.5l.8-46.1l.1,13l.9,33.1l.3-14l.6,17.2l.5-2l.6-14l.4,18.5l.5-20.1l.4,0l.6,16.8l.7,3l.3-24.2l.6,24.3l.3-20.8l.3,.5l.2,15.8l1.2,6.2l.1-24.4l.5,1.4l.8,19.9l.3-18.5l.6,18.7l.8-18.3l.3,16.3l.4-.9l.2-17l.7,2.3l.7,17.4l.9,.2l.1-18l.2,14.6l.8-17.3l.5,19.3v-19.9l.7,3l.4,18.7l.8-3.1l.1-19.7l.7-.3l.5-48.3l.7,43.2l.7,23.3l.4,1.2l.4-17.6l.6,2.2l.3,17.7l.6,2.6l.8-19l.6,.9l.2,14.9l.5-19.7l.2,21.5l1.1-2.7v-15.6l.6-3.3l.2,17.9l1.1-14.2l.1,18.8l.8-4.9l.5-18l.3,22.8l.7-22.8l.4,3.2l.4,15.7l.4-16l.7,17.5l1,.2l.1-18l.6,1.5l.4,19.4l.2-2.7l.3-17l.9,.4l.5,18.1l.8-1.3l.3-18.3l.6,.5l.4,17.6l.3-.5l.1-18.8l1.3,16.8l.2-14l.4-3.2l.8,17l.1,2.9l.5-18.6l.6,20.8l.6-21.2l.2,19.5l.9-24.9l.1,3.1l.9,25.2l.5-21.8l.4,14.6l.9,4.4l.3-19.3l.1,25.9l.7-23.7l.3,16.9l.3-17.7l.9,14.9l.1-14l.7,17.6l.5-20.7l.6,2.3l.2,16.4l1.1-1.1l.4-17.7l.7,18.3l.2-17.1l.8-4.6v19.3l.4,4.7l.2-18.5l.9,18.7l.5-18.1l.6,30.4l.6-34.7l.3,22.7l.3-21l.9,23.3l.1-20.9l1,17.8l.3-19.1l1.2,18.5l.1-15.8l.2-2l.7,21.7l.5-23.2v18.2l.8,5l.2-20.5l1.1,25.4l.5-25.2l.4,16.8l.2-19.6l.5,3.3l.7,15.7l.3-20l.1,22.2l1-21.6l.3,20.5l1.2-.4l.3-20.7l.3,1.5l.6,18.5l.4-18.9l.2,18.3l1.1-1.5l.3-15.1l.5-2.8l.2,19.8l.4-21l.6,18.8l1.2-17.1l.1,22.9l.5-3.9l.1-18.1l.8,.5l.3,16.8l.9-23.4l.2,34.4l.4-10.4l.3-20.6l.7,17.8l.7-20.8l.4,22l.4-17.6l.6-4.8l.8,26.1l.5,.9v-19.6l1.1,17.2v-20.7l.5,1.4l.6,17.5l.5-16.5v19.9l1-1.5l.5-18.6l.6-.4l.5,24.3l.2,.4l.7-25.1l.3,17.6l.4-16.4l.8-2.7v20l1.2,1.8l.2-18.7l1.2-6.2l.2,24.3l.6-19.3v21.7l.8-21.5l.6,19.2l.4-.1v-17.4l1.4,20.1v-21.2l.9,19.4l.2-18.9l.1,23.7l.8-22.7l.4-1.8l.6,17.8l.3-19.3l.5,23.6l.8-2.7l.6-19l.4,.4l.4,21.7l.7-5.9l.5-19.7l.2,3.9l.8,17.4l.5,2.3l.5-17l.6-5.3l.2,22.7l.2,.4l.7-19.3l.4-.2l.2,15l1.3-3.2l.4-14.7l.3,21.9v-21.2l1.2,21.2l.3-20l.3-1.6l.7,18.5l.5,.8l.5-17.6l.3,18l.3-17.2l.7-4.1l.3,21.4l.7-.8l.8-21.4l.5,2.7l.2,15.5l.9-15.6l.1,18.9l.8-18.6l.3,18.5l.5-19.1l.7,18.3l.3-1.4v-17.3l1,1.2l.7,18.6l.4-23.5l.1,20.3l.9,1.8l.5-22.1l.6,2.3l.1,26.7l.5-25.2l.7,26.3l.5-6.9l.5-18.5l.6,1.7l.3,13.6l.9,2.2l.3-19.5l.9,20.8l.3-24.2l.2,21.6l.8-22.4l.2,8.4l.1,14.6l1.1-1.2l.2-17.4l.8,20.4l.4-17.3l.4,16.1l.6-17.7l.8-3.7l.2,18.8l.4,3.9l.5-16.4l.5,13.2l.4-16.9l.6,22.5l.4-23.8l1,3.6l.4,20.6l.4-21.6l.1,20l.7-22.6l.1,23.8l.8-5.3l.1-15.7l.8,3l.4,15.5l1.1-17.4l.1,25l.8-8.8l.2-14.8l.9,18.9l.4-22.2l.1-3.5l.2,21.9l.9-16.8l.1,17.4l1.3,8.5l.4-25.4l.4,19.7l.3-20.8l.5-1.3l.9,23.3l.3-21.6l.4,21.9l.8-4.3l.3-16.9l.2-7.6l.4,23.5l1.1-.7l.4-22.5l.5,24l.6-19.4l.2,4.6l.6,17.2l.5,.3l.4-21.2l.7,22.2l.6-25.9l.4,7.3l.2,15.3l1-14.2l.3,13.2l.8,6l.2-25.1l.6,4.3l.2,23.1l.4-8.8l.3-15.7l1,2.2l.2,16.6l.5,1l.6-15.8l.3,14.7l.9-17.9l.7,13.2l.1-14.5l.5,20.7l.8-21.6l.5-1.6l.1,23.7l1.1-21l.2,16.9l.5-17.6l.2,20.5l.8,2.9l.2-26.7l.7,1.2l.4,22.3l.7-21l.4,22.6l.5-19.3l.4,21.3l.9-21.7l.3,19.7l.3,.4l.1-19.5l.8,14.6l.5-14.9l.5,13.9l.4-15.9l.6-1l.9,24.6l.1-22l.1,13.9l1.1-14.8l.3,21.3l1-6.3l.2-15l.7,.2l.5,18l.2,1.2l.4-19.9l.7,24.7l.5-23.3l.4-2.7l.2,24.4l.8-3.9l.2-17.9l1.5-3.2v18.3l.7-15l.3,13.9l.2,4.2l.5-20.5l.6-1.9l.2,21.6l1.4-1l.2-17.5l.5-1v19.4l.6-23.3l.7,24.8l.5-21.3l.4,18.1l.3-1.2l.2-17.7l1.4,.9l.2,18.2l.2,.7l.5-15.8l1,13.4l.3-13.2l.3,15.9l.8-19.6l.4,1.1l.1,18.2l.9-20.4l.4,18.1l1,4.2l.2-18.7l.1,22l.3-26.5l1,.7l.2,17.7l1.2,1.3v-16.8l.5-1.3l.6,20.7l.5-18.4l.4,18.8l.8-.5l.3-19.4l.5,16.3l.3-15.8l.4,1.7l.9,14.5l.7,4.3l.4-20.4l.1,20.2l.6-21.7l.8,24.5l.3-21.3l.6,16.1v-18.9l1-.4l.1,17l1.2,6.5l.1-25.4l.4,2.8l.3,17.7l.5-1.1l.6-23.3l1,4.5l.1,20.5l.7,1.6l.1-23.7l.9,24.8l.3-19.2l.5,16.6l.7-16.8l.3,15.6l.3-16.8l.9,0l.5,19.9l.3-2.8l.5-18.2l.4,17.8l.1-17.6l1-.6l.2,23.6l.8-5.3l.4-19.9l.9,5.9l.1,18.1l1.3-21.9l.1,16.1l.2,3.4l.1-18.1l.9-1.2l.4,20.1l.5-18.8l.5,17.4l.7,.4l.3-16.5l.6-4.6l.1,20.4l1.1,1.3l.4-20.6l.8,1.1l.2,18.6l.8-.1l.2-20.8l.8,18.6l.2-20.1l.4,24.5l.5-20.8l1,15.1v-17.3l.5,23l.1-20.6l.7-2.7l.1,22.8l1.7-20.5l.2,19.8l.3-3.6l.3-17.6l.6,21.3l.4-19l.5-.3l.5,23.5l.6-25.2l.6,20.1l.3,3.1l.1-17.4l1-5.9l.5,20.4l.7-18.7l.4,19l.7,3.1v-21.6l.6,17.5l.2-16.8l1.1-1l.6,16.6l.5,6.4l.4-24.1l.9-.3v19.1l.5-26l.3,26.2l.7,2.4l.5-20l.2,19.9l.9-22.2l.9,3.7v12.9l.5,3.5l.6-16.4l.2,12.7l.5-13.9l.5,16.4l.3-21l.9-3.5l.7,23.6l.2,2l.2-17.9l.8,20.6l.6-19.6l1-6.6l.2,23.5l.1-3.2l.6-17.1l1.1,4.7l.2,13.6v-18.6l.7,23.4l.3-24.3l.1,20.4l1.5-17l.2,29.3l.4-32l.7,18.2l.5-17.7l.1,26l.6-24.2l.2,15l1.5-13.8l.2,18.6l.3-3l.6-15.8l.1-6l1,23.3l.2-17.7l.2,17.7l.6,1.4l.7-17.5l1.1,21.4l.2-21.9l.1,20.8l.1-22l1.4,.3l.2,18.9l.6-20.1l.4,27.5l.5-27.3l.4,20.7l.5-21.8l.7,15.9l.5-15.2l.5,19.3l.6-2.8l.2-17.6l1.1,19.8v-16.2l.6-3.9l.3,17.9l.5-16.5l.8,18.5l.4-19.6l.4,17.6l.6-16.9l.2,18.4l1-.5l.3-16l.9-2.9l.1,18.6l.6-15.8l.2,15.4l.4-17.5l.1,18.9l1-18.9l.6,17.2l.3-14l.5,14.7l.6,1.1l.4-22l.9,1.3v17.5l.6-15.6l.7,21.2l.4-5.4l.2-16.5l1,23l.4-21.8l.8,17.8l.1-16l.4-1.5l.5,19.6l.6-19.6l.7,18.5l.2,1.4l.7-21.8l.5,25.4l.1-23l1.4,1.8l.1,25l.5-6.9l.3-23.3l.8,4l.3,22.6l.8-9.2l.1-12.3l.4-6.6l.9,23.2l.4,2.5l.1-22.4l1.3,19.2l.2-18.1l.1,3.2l.2,14.5l.8,.5l.2-16.2l1.2,1.3l.3,15.1l.7-17.7l.1,18.5l.4-2.9l1-14.3l.5,21.1l.5-26.7l.2,20.5l.4-13.2l.8,19l.1-23.7l.9,28.1l.3-25l.7-1.3l.4,17.8l.3-1.6l.7-24.5l.7,6.3l.1,24.4l.8-26.8l.1,25.2l1.2-21.4v20.3l.8-22.8l.4,24l.9-2.7l.1-16.1l.1,18.5l.9-21.1l.2,15.4l.8-20.1l.2,5.8l.1,20.2l1.2-19.7l.5,23.1l.2-22.7l.7,15.3l1.2,0v-17.2l.3-2.8l.2,26.6l.6-5.6l.1-17.1l1.5,19l.1-22.1l.6-4.6l.6,23.1l.2,.5l.8-15.9l.7,19.3l.3-18.7v20.7l.6-20.4l.5,19.6l.5-20l.5-1.5l.1,19.4l1.2-23.2l.1,23.1l.8,1.5l.3-23.2l1,2.6l.1,17.8l.5-17.9l.3,16.7l.9-18.6l.5,20.6l.2-20.5l.9,20.1l.3-.5l.5-20.6l.7,1.4l.1,18l.7,6.1l.6-25.8l.4,3.5l.5,22.3l1-22.1v14.8l.2,4.3l.5-25.6l1.2,4.4l.3,19.8v1.8l.4-22.5l1.3,20.1l.3-18.2l.6,19.1l.2-18.4l.5-2.9l.7,22.7l.6-18.9l.4,14.5l.1-14l.7,26.9l.3-11l.6-14.9l.7,13.6l.4-15.9l.5,0l.1,22.8l1.4-4v-19.1l.4,16.6l.6-12.6l.2-5.7l.5,18.1l.7,1.3l.2-18.7l.8,16.3l.4-20.2l.8,3.2l.2,17.3l.5-20.2l.4,26.7l1.2,.2l.2-23.2l.4,17.4l.1-19.6l1.2,3.1l.3,16l.6-1.4l.4-15.1l.3,21.1l.8-25.5l.2,19.5l.4-15.4l1.2-2l.2,18l.6,2l.1-21.1l.6,23.4l.3-17.9l.6,1.2l.3,11.6l1.1,3l.4-16.4v16.4l.6-18.5l.6-4.3l.8,24.1l.4-3.4l.2-15.8l.7-1.9l.4,20l.8-20.3l.4,21.4l.2-18.3l.5,20.2l.7-19.6l.4,19.9l1-22.4v18.6l.3,3.3l.5-25l.7,27.1l.5-21.3l.7-4.6l.4,19l.3-.3l.6-13.3l.7,13.8l.5-18l.2-.4l.7,20.3l.4,1.6l.8-17.9l.8,20l.2-22.8l.2,21l.1-21.8l1.4,17.1l.1-17.6l.5-1.8l.4,24.7l.3-20.6l.6,19.1l1.3-2.3v-16.4l.6-.3l.4,15l.3-15.4l.4,15.2l1.1-13.3l.1,18.3l.3-18.9l.5,16.6l.5,6.9l.9-24.5l.5,17.3l.5-16l.7-1.7l.3,17.8l.4-.1l.2-16.5l.5,18l.2-21.9l1.1,2.7l.3,17.2l.5-20.4l.3,21.6l1.1,.2v-17.2l.4,16.8l.9-18.8l.2-.5l.4,21.8l.6,.3l.8-21.4l.5,18.1v-19.6l.6,23.2l.6-21.1l.7,24.5l.2-24.2l1.3,20.9v-18.1l.8,15.7l.1-16.4l.3-.9l.6,26.4l1-11.1l.1-13.8l.5-2.4l.1,15.8l1.5-12.7l.1,18.7l.6-3.2l.4-16.1l.3,20l.8-26.3l.5,21.5v-14.8l1.4-2v17.2l.1,.6l.2-24.3l1.1,8.4l.2,15l.8-2.1l.6-19.5l.5,3l.6,35.5v-2.3l.7-29.5l.7-1.1l.2,15l.6-16.8l.6,19.3l.4-19.2l.3,19.4l.8-18.6l.1,19.5l.6-2.2l.4-15.7l.7-.6l.3,17.9l1.1-.9l.2-16.4l.3,14.8l.8-16.1l.2,20.1l.1-21.9l1,16.8l.2-13.6l1.1,19l.6-19.8l.7,13.9l.2-19.3l.4,5.7l.2,17.6l.6,1.4l.2-23.2l.8,19.2l.6-16.1l1-5.9l.2,27.2l.3-24.3l.3,20.2l.7-4.3l.2-17.9l1.1,3.7l.4,15l.5,9.6l.1-24.5l1.3,0v30.7l.7-9.9l.1-20.1l.6,.5l.5,25.3l.3-22.5l.4,16.3l1.1-3.1l.5-18.4v21.8l.9-27l1,27.1v-22.1l.4,24.5l.1-23.5l.7-6.8l.7,23.8l1,6.4l.2-23v20.9l.1-20.6l1.1,19.9l.6-20.7l.6,18.6l.5-17.4l.2-7.2l.8,27.3l.3-19l.6,14l.8-14.2l.2,15.8l.5,.2l.6-14.7l.2,12l.7-12l.6,13.1l.1-16.4l.6,.7l.7,23.4l.4-.8l.6-20l.9,16.1l.3-17l.3-2.8v18.6l1.3,1.5l.4-21.4l.3,21.5l.6-20.7l.1,1.7l.3,21.1l1.3-1.4l.2-22l.5,4.7l.4,14.7l.3-16.9l.9,16.1l.8-15.6l.3,16.7l.1-18.1l.3,17.7l1.1-22.4l.1,24.6l1-19.6l.3,20.8l.4,6.7l.7-30.5l.5-1.6l.2,25.3l.6-1.2l.5-20.9l.2,17.1l.8-15.8l.3-3.1l.5,22.3l.9,4.6l.2-26.2l1.1,2.3l.2,15.7l.3,4.2l.2-22.4l1,.9l.2,22.4l.3-19.2l.3,14.6l.8-14.9l.7,16.6l.9,3l.2-19l.6-2.9l.2,21.3l.6-1.1v-16.9l1.3,16.2l.3-20.3l.7,4.8l.3,14.7l.5,2.2l.5-19.2l.6,1.4l.4,20.3l.7-23.8l.2,22.1l1.1-2.7v-14.2l.6,16.2l.4-19.4l.1-4.5l.8,21.5l.3,4l.4-22.6l.6,3.5l.7,23.8l.4-23.6l.5,19.6l.5-29l.1,32.5l.8-9.2l.4-14.8l.9,20.2l.1-21.3l.8,18.7l.4-17.9l.9-4.5v24.3l.6-20.9l.4,17.8l.7-19.9l.3,19.5l.6-1.3l.7-14.9l.2,20.7v-22.6l1.5,.4v21.2l1.2-2.8l.1-15l.3,12.3l.6-18l.3-3l.5,25.3l1-17.2l.2,15.7l.3,7.2l.7-23l.4,16.5v-21.3l.8,20.9l.8-24.2l.4,23.9l.6-18.3l.2,17.4l.9-17.7l.6,1l.1,17l.7-17.4l.5,22.3l.4-2.5l.5-22l.5,1.7l.3,20l.7-1.6l.3-18.4l1.1-.4l.1,19.3l.4-3.8l.8-12.7l.2,.1l.9,14.5l.2,2.5l.5-16.5l.4-1.6l.7,19.5l.5-.9l.3-17.9l1.1-2.3l.2,21l.6-19.4l.5,16.1l.9,.8l.1-20.2l.1,22.7l.8-27.9l.8,24.3l.1-20.8l.4,21.3l.4-16.3l.6-.5l.6,16.5l.3-1.9l.1-17.9l.9,18.6l.1-15.2l1.3-.7l.3,16.2l.8-14.7l.2,13.3l.5,1.9l.3-17.1l.9-.4l.4,21.2l.6-5l.4-15.3l.3,18.2l.1-17.3l1.2-.4v17.8l1.2-19.8l.2,18.3l.3-18.8l.8,18.9l.2-19.4l.7,21l.6-1.4l.4-17.9l.6-2l.2,21.8l.9-21.3v20.6l.6-1.9l.6-16.7l1-1.2l.2,21l.8,1.8v-20l.9-2.4l.2,18.5l.2-18.9l.7,20.8l.2,.9l.1-23.3l1.3,22.9l.5-20.5l.1,17.7l.6-14.4l.7-3.8l.4,17.8l.9,2.6l.3-22.9l.2,21.8l.4-17.3l.6-2.5l.5,19.5l.5-19.7l.5,20l.4-2.9l.5-14l1,19.4l.5-21.6l.5,19l.3-15.7l.5,15.1l.2-15l.7,12.3l.7-14.1l.3,1l.3,19.5l.8-1.5l.4-19.5l1-.7v18.4l.8-20.3l.4,22.5l.1-17.7l.1,15.3l1.2-.9l.2-20.5l1,4.5l.5,16.8l.1-1l.2-16.3l.9,.3l.4,12.8l.8-19.6l.3,24.5l.4-.5l.4-17.5l.5,.3l.3,23l.9-22.4l.2,11.8l1-15.9l.1,27.7l.5-24l.7,22.5l.6-21.7l.2,15.5l.8-15.5l.1,21.2l.7-22.1l.3,13.3l1-13.7l.3,20.8l.6-23.3l.1,20.8l1.6-23.8v29l.1-6.2l.3-19.7l1.1,18.8l.1-15.2l.5-1.2l.8,18.5l.3-17.4l.2,14.3l.7,.5l.1-16.6l1.5,22.1v-23l.3-.2l.3,19.3l1.1,3.7l.4-21.3l1,16.3l.1-14.3l.3-2.3l.4,19.7l.4-22.8l.3,21.8l.9-22.4l.4,24.8l.4-6.8l.3-14.2l1.2,18.3l.3-20.6l.4,16.7l.6-16.4l.3-1l.3,19.8l.9-15.1l.2,14.6l.6-15.8l.3,16.8l1.1-19.9l.3,21.1l.3-2.8l.3-17.3l.7,3.3l.5,15.7l.7-1.9l.4-16.9l.4,1.4l.5,20.7l.7-2.5l.1-19.8l.7,17.2l.1-15.2l1.4,.9l.2,16.2l.3-17l.6,20.2l.4-34.4l.2,35.1l1.3-22.9l.2,21.7l.2-21l.9,17.7l.6-27l.4,25.3l.4,1.6l.2-18.2l1.1,3.3l.4,16.3l.4,2.9l.2-21.6l.4,26.2l.3-27.4l1.3,1.5l.1,27.6l.5-26.7l.2,24.6l1.2-5.2l.3-20.9l.2,17.5l.5-14.2l.9,16.4l.4-16.4l.3-5.9l.4,20.1l.5-15.2l.4,15.7l.7-18l.1,19.1l.9-.3v-20.5l1.3,2.7l.1,24.3l.5,2l.5-25.4l.4-4l.7,18.9l.4-17.3l.6,20.3l.9-20.1l.3,25.3l.9-7.3l.2-16.2l.4,18.9l.1-20.2l.7-.3l.2,21.2l1.3-4.6l.2-17.2l.1,20.5l.6-19.8l1.2,19.9v-24.5l.8,7.1l.2,16.2l.6-.3l.2-17l1.2,17.1v-16.1l.7-1.9l.4,25.1l.6-7.6l.4-20l.7,.7l.4,22.2v-3l.8-16.8l.2,20.8l.2-19.6l.9,20.7l.1-20.3l.9,18.7l.1-23.5l1.1-1.1l.6,19.2l.3,6.4l.6-22.5l.6,3.9l.1,14.9l.8-17.6l.5,20.4l.5-4.8l.6-20.7l.3,6.1l.7,19.6l.3-1.6l.2-18.3l.6,.1l.8,19l.3-21.3l.1,20.4l.8-22.7l.7,26.2l1.1-3.3l.2-17.8l.8,18.4v-20.4l.8,20.6v-21.9l.6,21.2l.5-20.5l.7,1.5l.4,22l.4-1.8l.6-18.5l1,14.7l.2-17.5l.8-1.6v20.6l.7-14.7l.1,16.2l1.2,4.1l.1-34.1l.6,28.6l.5-18.2l.4,16.8l.5-17.4l.2-.5l.2,19.3l1.4-1l.3-22.7l.5,24.6l.4-20.9l.4,19.6l.5-22.6l.4,4.6l.1,21.4l.9-3.3l.4-18.8l.6,16.2l.4-16.8l.4-1.3l.6,18.6l.6,5.1l.6-24l.3,19.1v-17.2l.9,15.7l.6-16.4l.8,24l.1-22.5l.5,21.8l1-24.1v2.7l1,21.4l.1-22.2l.5,22.8l.5-20.1l.2,15l.9-15.9l.6,21.1l.3-29.5l.6,29.9l.5-23.1l.8,21.7l.2-22.5l.4,18.3l1-16.1l.2,20.2l.8-22.8l.1,20.3l.8,6l.4-23.3l.2-2.3l.4,22.4l.7-24.3l.4,18.5l.5,.6l.9-14.8l.2,1.4l.2,13.5l1.3,5.4v-23.2l.8,3.2l.3,19.5l.7-20.7l.5,22.9l.6-7.7l.3-18.4l.8,1.5l.1,21.6l.3,4.6l.4-24.3l.7-4l.8,19.2l.6-15.7l.3,15.8l.8-13.8l.3,15.5l.2-19.9l.2,26l.9-4.6l.6-16.9l.9,23.8l.1-24.8l.1-2.4l.1,22l1.1-23.2l.2,23.3l1.1-22.7v29.1l.9-6.5l.2-21.4l.5,21l.6-20.1l.3,18.7l.5-20.7l.6,17.6l.3-20.7l1.3,4.7l.1,18.9l.2-16.8l.7,16.8l.7,6.3v-23.3l1.4,16.4l.1-16.5l.9,1.2l.2,15.2l.2-15.8l.5,19l.4-21.4l.8,20.9l.3-18.2l.8,14.6v-14.9l.6,15.1l.8,4.1l.6-23.4l.2,.6l.4,20.5l.5-20l.5,20.8l1.1-1.2l.1-17.8l.3,16.3l.1-15.9l1-4.5l.1,18.4l.7-18.7l.6,16.4l.4,6.4l.2-18.8l1.4,16.9l.2-17.7l.5,17.5l.2-17.4l.7,14.2l.4-19.8l.8,.9l.2,27.4l.8-24.6l.4,19.4l.4-1.2l.3-15.4l.8,16.7l.3-23.1l1,4.4l.2,20l.6-21.7l.2,23.9l.8-21.1l.1,17.9l.5-24.8l.5,29l.9-4.9l.3-16.8l.9,16.9l.2-17.7l.4-1.5l.6,22.7l.2-20.8l.3,18.8l1.2-1.1l.1-18l.9,2.8l.1,15.9l.4-19.8l.8,21.7l.6-1.7l.5-15.7l.3,17l.3-17.7l.9-2.1l.4,18.3l.9-19.1l.2,16.7l.3,1.4l.6-18l.5,1.9l.7,29.6l.3-30.9l.4,15.7l.9-15.8l.3,19.5l.5-2.4l.6-18.7l.7,3.1l.1,16.5l.3-16.7l.8,22.8l.2-25.5l.3,31.2l1.1-28.7l.2,16.5l.6,1.4l.7-19.1l.3-2.4l.1,17.2l1.4-18.7v17.9l.3,2.9l.1-28.5l.8,11.6l.8,14.2l.6-16.4l.1,16.5l1.1-15.8l.2,19.7l.7,4.3l.1-22.3l.8,19.5l.6-21.3l.2,5l.1,15l1,.1l.5-19.6l.3,18.6l.6-16.1l.5,15.4l.5-13.6l.8,18.1l.3-20.3l.2,18.4l.6-21.7l.8,17.9l.4-12.6l.6,14.4l.6-18.3l.4,21v-31.5l.9,8.3l.6,22.1l.9-18.9l.1,16.9l.9-16.3l.2,19.9l.6-20.2l.4,20.2v1l.2-23.1l.9,1.5l.4,22l1.1-27.9l.1,25.3l.6-18.8l.7,23.9l.4-6.9l.3-17.3l.7,17.7l.3-15.2l.3,15l.3-17.5l.9,.6l.1,13.6l1.3,4.4v-17.8l1-6.1l.1,22.1l.7-2.8v-12.2l.8-1.5l.6,18.1l.3,0l.4-17.9l.7,13.7l.8-13.5l.1,2.7l.7,14.4l.3-16.7l.7,20.5l.4-3l.4-17.9l.4-5.1l.1,24.6l1.5-20.2v17.6l.9-17.9l.4,19.2l.3-2.2l.4-17l.7,18.3l.3-23l.5,32.3l.5-34.9l.5,26.4l.3-18.1l.8-5.1l.2,19.8l1.5-15.8l.1,24.4l.7-24.1l.1,23.6l.4-24.3l.2,15.7l.7-11.6l.3,17.7l1.2-20.9l.2,19.4l.4-19.4l.2,20.1l.8-21.4l.6,21.2l.6-24.5l.5,23.8l.7,2.9l.1-20.2l.7-.2l.6,13.7l.6,1.5l.3-17.4l.3,25.4l.4-26.7l.6,1.9l.2,17.3l.9-20.7l.1,30.3l.6-8.4l.7-19.5l.3,19.2l.8-19.5l1-.8l.2,20.8l.2-.4l.4-21.9l.5,21.4l.5-20.2l.7,26.2l.4-22l.5,16.1l.6-23.6l.5,3.3l.3,20.1l.9,.8l.1-21.8l.7,28.1l.3-24.9l.8-2.1l.6,29.2l.9-24.9l.1,20.2l.2-5l.3-20.9l1,16.3l.2-14.2l.8,18.7l.1-17.6l.6-1.5l.5,17l.4-14.5l.6,27.1l.8-27.9l.4,16.3l.4,3.6l.6-20.8l.6-1.4l.2,22l.6-18.3l.3,16.4l1-3.5l.2-13.7l.2,17.5l.1-17l1.3,29.4l.3-29.7l.7,17.6v-22.4l1.1,1.8l.4,22.5l.3-2.4l.2-18.2l1.3-1.1l.2,23.6l.4-5.3l.1-18.9l.6,4.5l.4,17.2l.9-18.8l.2,19.7l.6-4.8l.5-16.4l.6-4.3l.1,25l.8-20.9l.5,18.3l.5-1.3l.8-45.1l.1,10l.8,30.4l.2-15.7l.8,18.9l.5,5.7l.5-20.6l.7-5l.3,20.5l.4-14.5l.2,17l.7-19.2l.5,26l.6-7.1l.6-20.2l.4,3l.2,21.7l.6-6.5l.1-15.4l1.6,.9l.2,23.4l.4-6.4l.1-15.5l1.2-1.9v20.9l.5-5.6l.2-15.8l.9-2.5l.5,17.5l.5,13.1l.3-31.6l.5,18.8l.9-11.6l.3-5.1l.1,22.5l.9-28.2l.4,23.4l.6-19.7l.5,18.9l.4-19.2l.2,19.8l.8-18.7l.3,18.7l.9-16.9l.4,19.2l.9-17.7l.4,14.4l.5-21.7l.1,23.7l.8,6.1l.4-23.8l.7-.9v24.9l1.3-25l.2,25.5l.2-5.4l.2-17.4l.7-3.4l.1,18.6l1-14.5l.4,19.1l.6-22.8l.2,15l.7,9.8l.1-22.2l1.4,17.9l.1-20l.4,2l.2,14.4l.8,2.1l.3-19.5l1,18.3l.1-14.6l.7,17.5l.5-21.6l.4-2.2l.2,27.8l1.1-4.2l.4-17.1l.5,19.4l.1-22.9l1,17.5l.4-19.4l.5,1.4v22.6l1-21.2l.4,29.6l.5-32.3l.7,20.1l.2,5.2l.9-22.3l.2-4.8l.6,23l.5-.7l.4-19.4l1,3v16.1l.5-1.7l.7-16.1l.8,.1l.1,19.8l.7-19.8l.1,20l.9-25.4v26.6l1-2.5l.4-20.8l.2,.7l.1,19.9l1-19.6l.5,17.9l.8,2.2l.2-19.1l1.1,18.3v-16.9l.5,.3l.7,19.3l.4-.2l.2-17.8l.7-6.1l.5,20.7l.4,4l.2-23.2l.8,3.2l.2,20.2l.6-5.6l1-17.1l.1,1l.8,19.5l.2-18.6l.7,17.9l.6,3.6l.4-19.6l.5-1.4l.5,17.4l1.1-17.9v26.5l.3-28.8l.5,18.8l.7-16.6l.1,21.1l1.1-21.1l.1,14.1l1.1,4.6l.1-18.6l.7,1.1l.2,18l.9-15.4l.1,26.8l.4-27.6l.3,13l.6,3.9l.5-19.3l.6,29.5l.7-30.9l.9,3.4l.2,19.2l.1-2l.1-17.5l1.3,.6l.1,14.5l.5,2.7l.4-18.2l.8,20.7l.5-17.7l.4,14.3l.5-20.1l.9,15.6l.3-16.4l.3,1.6l.5,23.9l.4-2l.5-21.2l.8,19.5l.3-21.5l.8,21.9l.4-20l.2-2.2l.7,17.7l.4-14.4l.1,14.6l1.1,.7l.3-15.3l.5,18.5l.1-20.6l.9,21.3l.2-20.5l1.1,13.4l.3-13.4l.3-1l.4,24.6l1.2-24.4l.1,17l.5,6.8l.1-21.2l.8-3l.3,21.8l.7-3.1l.6-14.8l.4,.8l.4,11.8l.4-18.4l.2,20.6l1-15.3l.6,16.1l.3,5.6l.1-22.2l1.1,17.9l.7-19.1l.3,18.7l.1-19.3l.8,17.6l.1-18.7l1.2,2.2l.2,17.3l.4-15.3l.7,17.8l.6-18.7l.3,16.1l1.1-17.6l.2,17.5l.4-24l.3,23.4l.5-21.3l.5,27.7l.3-7.4l.7-15.3l.8,18.1l.3-22l.3,20.7l.2-19.6l.7,19l.1-17.9l1.5,18.8l.2-22.7l.4,21.7l.2-17.3l.9,15.5l.7-14.6v15.6l.1-16.5l1.3-3.8l.2,22.2l.6-17.4l.6,15.4l.8-17.3l.4,21.4l.4-23.4l.4,22.7l.8-19.3v21.3l.5-2.7l.6-20.9l.8,3.2l.1,15.8l.4-1.6l.4-16.4l1.1,19.1l.3-16.8l.3-3.8l.3,20.8l1,.8l.4-21.2l.3,28.9l.4-27.6l.9,3l.1,20.2l.9-5.1l.6-21l.2-2.5l.7,22.4l.3-15.6l.2,21.6l1.3-1.4l.1-24.5l.5,23.4l.6-18.2l.5,19.3l.1-21.5l.8,19.1l.5-18.3l.4,.2l.4,16.4l.7,2.6l.7-19.3l.7,2.6l.1,12.1l.5-16.1l.3,17.8l.9,0l.3-21.6l.9,22.3v-22.9l.4,22.9l.6-17.5l.4-2.8l.1,22.3l.8-4.9l.2-14l1.1,23.6v-25.4l1.2,18.1l.3-17.6l.4,14.7l.5-11.2l.7,16.7l.4-19.6l.4,18l.5-18.8l.9,17.4l.4-17.6l.1,17.4l.9-16.9l.5,15.5l.4-16.3l.5,17.5l.3-17.6l.9-.7l.1,18.6l.3-.4l.7-16l.4,16.1l.5-13.7l1-2.9l.4,25.5l.7-6.3l.2-19l.2,.7l.5,19.7l.6-17.7l.2,18.4"/>
<path class="d" stroke="#d62728" d="M100.7,372.4l.9,5.5l.8-.2l.1-9.4l.2,3.7l.7,5.9l.3-.2l.4-4l.6-1.8l.4,6.7l.8-1.7l.7-6.4l.1,.1l.5,6.1l.9-5l.3,5.4l.9-5.3l.3,5.6l.4,.6l.4-5.8l.5,4.9l.5-6.4l.3,6.2l.7-4.6l.8,5.2l.3-4.5l.5,4.8l.3-5.3l.8,6.7l.5-5.8l.4-2.8l.1,7l.7-4l.3,3.6l.6-4.6l.6,6l.8-5l.4,4.4l.3,.1l.7-4.7l.5-2.1l.4,6.7l.8,.4l.3-5.3l.3,3.9l.4-5.8l.5,6.8l.7-6.4l.7,.1l.2,4.8l.5-6.4l.7,6.2l.6-4.3l.1,5.2l1.1-5.7l.3,4.6l.3-4.4v7.1l1.3-7.5l.4,5.1l.3-.3v-5.1l1.4,.7l.1,4.7l.9,.3l.1-5.1l.2,.1l.9,6l.3-.2l.1-5.9l.9-.2l.3,7l.9-7.4l.6,6.8l.3,.2l.1-5.5l1.4-1l.1,5.7l.2,.9l.5-5l.4,4l.9-6.3l.1,1l.3,4.8l.8,1.7l.2-5.2l1.1-.8l.1,6.1l1.2-1.5v-4.8l.4,4.5l.2-4.8l.9-1.1l.8,5.7l.1-1.2l.8-5.1l.3,2.1l.6,5.4l.8-5.5l.3,5.5l.3,.6l.7-5.9l.5,5.3l.6-7.4l.8,.2l.1,5l.4-4.5l.3,5.8l1.2-.6l.1-5.6l.5,5.8l.6-5.7l.4,.7l.5,7.6l.2-.9l.4-5.5l.8,5.4l.3-5.3l.6,4.2l.8-5.5l.2,.8l.3,7.3l1.4-8.2v6.7l.9-.7v-5l.6,0l.3,5.9l.5-5.1l.6,5l.2-1.5l.4-4.6l.8,0l.4,5.8l.4-6.3l.2,5.8l.9,.4l.6-6.4l.3-.5l.1,6.3l1-4.9l.6,6.4l1.1-.7l.1-5.6l.5,3.8l.4-5.1l.6,.2l.5,6.6l.2-.9l.6-4.2l1.1-1.2v5l.8,.8l.2-5.5l.4-.4l.7,6.6l.3,0l.2-4.9l.8,5.1l.5-6l.4,4.3l.3-5.1l.9,1.1l.5,4.3l.9-5.1l.2,7.6l.5-1.3l.3-7.2l.4,1.8l.4,5.3l.5-.7l.8-5.6l.5,1.1l.7,4.1l.3-4.3l.4,4.3l.9,0l.4-5.3l.3,.3l.5,6l.7-5.8l.4,6.9l.7-.5l.2-5.8l.2,5.3l.3-7.5l1.5,1.4l.2,6l.2,.6l.8-5.1l.6,5.4l.1-5.3l.4,4.5l.6-6.9l.5,7l.4-5.5l.9,6.1l.3-5.1l.2-1.6l.9,6.2l.4-.8l.5-4.8l1.1,4.8l.1-6.6l.2-.7l.7,7.7l.3,1l.5-5.9l.4,5.3l.7-7.1l.3,6.5l.6-7.3l.7,7.6v-5.3l1-2l.3,6.6l.3-1.1l.7-5.5l.4,1.5l.7,5l.6-.1l.2-5.2l.4,.7l.1,4.7l1-5.9l.7,6.2l.5,.2l.5-6.2l.4,5.4l.7-5.4l.6,6.3l.1-5l.6-1.3l.4,7.6l1.1-8.5l.1,5.8l.3-4.3l.3,6.9l1.1-2l.2-5.1l.4,6.1l.6-6.5l.5,6.3l.3-4.7l.6-.9l.3,7.1l1-7.4l.3,6.1l.4,.9l.4-6.8l1.1,5.6l.2-4.9l.3,4.7l.4-6.5l.6,.9l.4,5.9l.5-7.1l.8,7.7l.3-8.2l.8,8.4l.3-2.4l.7-4.7l.1,.3l.6,5.4l1-1.2l.2-5l.2,.2l1,5.5l.6-3.2l.2,5.6l.5-6.5l.4,5.5l1.2-5.6l.1,5.9l.1-5l.4,6l1-3.5l.3-4.7l.3,1.7l.6,5.2l.4-1.1l.7-5.2l.4,5.2l.8-6l.3,1.6l.5,5.1l.4,.8l.4-5l.8,4.3l.1-6.4l1.1,.3l.3,6l.5,.3l.1-5.2l.8,4.2l.5-5l.6,.4l.4,7l.2-1.9l.5-6.3l1,.2l.3,6.5l.6-5.9l.4,6.1l.3-1.6l.8-6.1l.5,6.1l.1-5.9l.7,1.7l.1,5l.9-.1l.5-5.1l.4,5.9l.9-5.6l.1-.9l.3,6.3l1,.5l.3-5.6l.6,3.8l.6-5.6l.7-.1v5.1l.8-5l.4,8l.3-1l.3-6.2l1.5,5.1l.1-5l.3,5.3l.4-5.4l.5,7.1l.5-7l.6-1.1l.3,7.4l.4-.8l.4-5l1,4.1l.4-3l1,2.6l.1-3.3l.4,5.5l.5-6.1l.2,5.9l.8-7l.5,1.9l.3,5l.9-1.2l.4-4.8l.4,.5l.3,5.6l.7-6.2l.5,5.7l.5,2.4l.6-8.3l.1,5l.7-6.3l.6,9.2l.7-8.1l.5,5.7l.3-5.7l.7,0l.2,5.5l.4-5.5l.8,5.8l.7-6.1v6.2l.6,1.1l.6-5.7l.4,3.6l.7-4.9l.6,1.2l.5,5.3l.2,.8l.6-6.2l.3,0l.6,5.2l.6-6.8l.6,6l.3-5.1l.7,4.7l.7-4.8l.2,5.2l.4-6l.4,4.7l.5-2.4l.9,5.1l.3-1.1l.6-5.6l.5-1.1l.6,5.8l.6,2.2l.2-7.2l.6-.1l.4,6.1l.4-.4l.6-5.1l.7-.6l.3,5.5l.7-5.8l.3,6l.4-4.7l.7,4l.6-3.9l.1,5.8l1.3-9.6l.1,9.5l.2,1.1l.5-7.5l1,1.2l.1,4.6l.4-.5l.7-4.9l.4-.4l.2,6l1-5.5l.3,5.7l.4-5.9l.5,6.6l.6-7.5l.5,6.4l.3-5.8l.7,5.3l.3,.1l.8-5.5l.3,6.1l.7-4.5l.2-1.7l.4,5.6l.7-6.4l.7,7.1l.4-6.2l.5,6.6l.7-1.2l.4-4.6l.2,3.7l.7-3.8l.3,5.5l.1-5.7l.8,4.6l.6-5l.6,5.4l.2-5.2l.6,1.2l.5,5l.9,.4l.2-8l1,1l.3,7.3l.4,.5l.6-6.6l.3,4.3l.2-4.2l1.2,5.1l.4-6.2l.2,0l.7,7l.2-.7l.5-5.4l.8-.5l.4,3.6l.2-4.9l.1,6.4l1.5,.3l.2-4.7l.4,3.9l.2-6.2l.9,1.5l.5,4.5l.8,.4v-4.9l1.1,0l.1,4.9l.2,1.3l.5-8.5l.7,3.3l.4,5.3l.5-8.1l.1,7.8l1.5-5.3l.2,5.3l.2-.5l.2-7.1l.9,7l.3-5.8l.7,6l.2-6.5l.7,4l.6-4.5l.7,6.1l.6-5.9l.1,.5l.6,4.1l.4,1.8l.4-5.5l.9,.3l.3,5l.9-.7l.4-4.6l.1-.9l.4,7.9l.5-1.9l.7-6.8l.8,1.8l.2,5.1l.5-4.9l.7,6.7l.6-7.7l.5,5.3v-3.8l.9,6.3l.1-5.9l1,6.7l.3-1.1l.5-6.4l.2,.1l.5,7.7l.6-2l.9-5.5v-1.5l1,6.4l.2,.3l.3-4.7l.5-.7l.9,6.1l.5,.5l.4-5.6l.8,4.6l.1-5.3l1.3,.3v3.4l.4-5.3l.6,6.9l1,.3v-5.6l.1,4.9l.5-6.8l.9,7.9l.5-6.9l.1,4.9l.4-5.4l.5,5.8l.5-4.7l.5-1l.6,6.4l1-1.4l.3-4.7l.3-.5l.3,5.9l.8-7.5l.5,8.8l.9-.5l.2-5.8l.4,5l.1-5.2l.8,4.7l.4-4.5l.4-1.4l1,6.9l.1,.2l.8-6.6l.7,.1l.2,5.8l.9-4l.3,3.8l.4,1.7l.5-5.9l.4,5.1l.7-5.6l.3,.3l.2,4.8l.7,0l.6-4.7l.4,1l.5,4.4l.9-5.2l.3,5l.4-5.2l.3,5.7l.8,.1l.3-5.1l.5,4.2l.6-5.9l.5,1.4l.5,5.2l.4-6.1l.7,4.5l.3-4.4l.5,5.5l1.1-5.6l.1,4.3l.3,.4l.6-4.4l.4,5.9l.3-6.5l1.2,1l.1,5.4l.4-6l.1,5.1l.9-6.3l.6,7.1l.2,.8l.5-7.3l.7,.6l.8,6v-.3v-5.9l1,5.3l.6-5.4l.5,.7l.4,5.5l.9,.1l.1-5.8l.7,5.3l.8-5.1l.8,5.4l.1-6.1l.4,7l.4-7.5l.8-1l.4,7.6l.5-6.5l.3,6.5l.6-6l.7,4.8l.1-6l.8,7.1l.3,.1l.8-8.1l.7,5.9v-4.8l.7,.1l.2,6.7l.8-.1l.1-6.3l.8,8.1l.2-7l.7,5.3l.7-5.3l.5-1.5l.5,5l.4,0l.5-5.1l.2,5.2l.8-4.7l.3,6.3l.7-6.3l.7,5.9l.1-5.3l1,1l.2,5.5l.6-6l.5,5.9l.4-5.1l.1,4.5l1-1.2l.4-6.4l.6,5.8l.3-5.5l.3,6.1l.2-5.2l1.2,5.2l.2-5.7l.8,7.4l.2-8.4l.9,2.6l.2,6.4l.5-3.1v-5l1,.2v8.6l1.1-2.7l.4-4.9l1.1,.8l.1,5.7l.3-7.2l.7,5.8l.1,.7l.7-5.9l.6,7.4l.2-5l.8-2.7l.2,6.3l.8,.4l.1-6.5l.7-.1l.6,7.4l.4-8l.5,6.8l.7,.1l.4-4.9l.6,4.3l.6-5.1l.1,1.5l.3,6.4l.8-2.3l.8-5.8l.3,1.2l.4,6.2l.9-6.8l.5,6.2l.6-5.4v4.8l.8-6.4l.6,5.7l.3-4.2l.1,5.6l.9-8.5l.4,7l.8-5.9l.5,6l.4-3.4l.1,3.6l.7-5.7l.5,6.5l.7-5.1l.1,4.1l.9-.6l.5-4.9l.5,4.7l.3-5.8l.4,2.6l.5,4.8l.4-.1l1-5.6v4.8l.4-4.6l1.4-.9v5.3l1-5l.1,5l.9-1.4l.1-4.5l.5-1l.1,6.2l1.1-6.2l.3,6.5l.1-5.7l.8,7l.8,2.8l.1-8.8l.5,5.6l.7-5.3l.2-1.9l.5,8l.5-6.7l.9,5l.6-3.8l.3,5.1l.7-6.9l.4,5.3v.5l.8-5.5l.5,6.5l.1-5.6l1.2,4.8l.2-6.3l.4,6.5l.5-6l.5,7.3l.4-6.2l.6,1.1l.8,5.2l.9-1.5l.1-4.7l.6-.8l.3,6.8l.2-1.8l.4-5l.6,.7l.7,7.2l.2-8.3l.2,5.6l1,1.6l.7-6.7l.2,6.4l.5-7.3l1,6.5l.4-6.5l.1,.7l.5,5.4l.6-8.3l.2,8.8l.8-5.5l.5,5.2l.8,1l.3-5.8l.9,6.4l.1-6.2l.6,4.5l.6-4.9l.7,5.1l.2-5.4l.4,6.4l.6-6l.5-1.5l.2,7.3l.6-3.7l.3,5.8l.7-1.6l.8-8l.6,5.6v-4.8l.7,.7l.7,6.4l.4-1l.5-5.1l.3,6.1l.7-7.5l.3,6.8l.6-6.7l.8,5.5l.3-4.7l.8,5.8l.3-5.8l.5-.8l.4,6l.3,.9l.4-6.5l.7-1.4l.5,6.5l.5,.3l.6-5.9l.2-.9l.7,6.5l.6-4.6l.6,6.3l.1,1.3l.7-9l.5,7.6l.4-7.3l.7,.8l.4,6.2l.8-6.9l.2,6.7l.6,.1l.4-4.5l.6,4.8l.2-6.7l.7,8v-6.6l.7,4.3l.7-4.5l.8-.1l.1,5l1.1-1.4v-4.2l.5-2.1l.4,6.3l1-2.9v5.5l.6-.4l.5-7.6l.3,3l.7,4.5l.7-1.6l.5-5.4l.4,.5l.2,7.9l1-6.9l.4,4.5l.3,2.1l.6-8l.2,6.9l.4-6.1l.7,.2l.1,4.7l.9-4.4l.7,6.8l.3-.6v-4.6l1.1,5.1l.6-6.1l.3,4.8l.1-4.2l1.3-.7v6l.5-9l.9,8.4l.9-6.1v5.8l.2-.9l.7-5.7l1,.4l.1,5.2l.3,.1l.9-4.6l.4,4.7l.3-5.4l.5-.3l.3,6.5l.9-6.3l.2,6.2l1.3-8.8l.1,9.2l.5-7.1l.3,4.6l.3-4.3l.7,7.9l.6-6.8l.5,4.8l.1,.3l.4-5.2l.8,4.9l.7-5.4l.1-1.1l1,6.5l.7-.1l.1-5.8l.2,.1l.1,8.7l1.2-2.6l.7-6.1v1.1l.8,4.9l.5-4.7l.3,5.2l.7,0l.5-5.7l.2,4.8l.8-4.7l.5-1.8l.5,5.7l.6-.3v-4.4l.8,5.3l.6-7.3l.8,8l.2-4.3l.2-.7l1,4.6l.1-5.3l.4,5.2l.7,.2l.8-6.5l.2-.2l.6,8l.2-2.6l.3-3.4l1.1-.2l.4,5.8l1.1,.1l.1-5.9l.2,5.7l.8-6.3l.1,3.6l.3-5l1.3,1.9l.1,5.4l.3-.4l.8-5.9l.8,6.3v-5.2l.8,6.3l.1-7.5l.6,5.6l.7-5.3l.5,.7l.1,4.9l.7-5.6v5.1l1.1-5l.6,5.2l.2-1.1l.9-6.2l.2,.9l.6,6.6l.3,.7l.7-6.3l.5-.9l.2,5.4l.5-.3l.5-4.1l.5,.3l1,4.8l.3-5.8l.5,6.1l.3-6.5l.8,6.7l.1-.1l.4-5.1l.7-.5l.8,6l.7-.6l.4-6.1l.3-1.3l.5,6.2l.5,.2l.3-6.2l.7,8.1l.6-5.6l.2,4.1l.7-4l.2,0l.4,5.8l.8-6.6l.6,6.4l.3-1.3l.7-5.9l.8-.9l.4,5.5l.7-4.5l.1,6.5l.4,.3l.4-6.7l.4,6.1l.7-5.7l.4,5.3l.8-5.5l.1-.1l.7,5.5l.6-5.9l.7,5.8l.5,3.4l.5-8.6l.4-.6l.2,5.7l.4,.2v-5.6l1,1.7l.5,4.1l.5,1l.2-4.5l1.6-.3l.1,5.4l.2-.2l.7-6.3l.3-1.7l.7,8l1-7.2l.1,6.2l.2-5l.7,6.2l.3-.7l.3-6.3l.9-.4l.5,7.3l.5,0l.1-6.3l.6-.8l.6,6.3l.7-6.7l.4,5l.3-4.7l.6,6.6l1.1,1.4l.2-7.4l.4,6.5l.5-7.2l.4,7.5l.4-7l.4-.6l.5,6.3l.8-4.2l.6,4.4l.7,.3l.2-5.8l.3,5.6l.6-4.6l.6-2.3l.4,7.1l.5-6.2l.2,5.7l.8,.9l.6-6.9l.2,6.5l.6-6l.9,6.1l.4-5.9l.3,3.4l.2-4.2l.6,1l.7,5l.4,.7l.7-6.9l.7,6.1l.5-5.7l.1,.3l.4,5.5l.8-1l.7-4.5l.2-2l.6,6.2l.4-5.6l.6,7.9l.3-.6l.7-6l.3,7.7l.8-7.9l.7,.7l.2,6l.7-6l.2,5.6l.4-5.2l.8,5.2l.2-.1l.4-5.4l.7-.1l.8,4.6l.1-.3l.7-5.3l.3,.9l.2,5.1l.7,.3l.9-5.1l.5-.6l.5,5.3l.6-5.2l.1,5.4l.9-6.4l.4,6.3l.4-5.3l.3,4.5l1,.1l.2-5l.5,1.3l.6,5l.1-5.3l.6,6.5l.7-5.9l.3,5l1.1,.9l.2-7.5l.9,5.3l.1-6.1l.1,.3l.3,7.1l.9-.2l.2-5.4l.7,.5l.3,6l.7-1.3l.7-6.5l.4,.9l.5,6.3l.6-.6l.5-4.1l.6,6l.2-8.4l.9-.4l.5,6.8l.3-4.4l.5,5.9l.6-2.3l.3-5.7l.7,5.7l.4-4.4l.6,.3l.2,4.2l1-4.9l.3,6.4l.4-6l.3,6.4l.6-6.4l.2,5.8l1.1,.9l.3-6l.5-.9l.6,5.7l.5-1.7l.4-3.3l.8-1.5l.1,7.7l.5-2.8l.1-5.6l.8,2.2l.2,5.6l.9,0l.7-5l.7,4.2l.2-4.8l.9,4.9l.2-6.2l.2-.2l.9,6.5l.6-7.2l.3,6.6l.2-4.7l.3,6l.7-6.7l.9,6l.2,0l.1-4.3l.8-2l.1,5.9l1.3-6.3l.3,5.7l.7,3.1l.5-8.4l.5,5.5l.3-6l.6,1.4l.4,5.9l.7,.2l.3-5.8l.2-.5l1,6.3l.1-6.9l.2,6.1l.8-.9l.7-6.6l.5,1.1l.6,5.9l.5,.7l.5-5.5l.3-1.3l.8,5.8l.1-6.6l.8,7.9l.2-1.6l.6-6.7l.3,2.4l.4,5l1.3,.7l.1-5.5l.3-.4l.3,4.7l1,1l.4-5.1l.2-.5l.8,4.9l.2-.1l.9-4.9l.1,4.7l.3-7.3l.8,7.8l.1-5.9l1.5,3.9l.1-5l.2-.1l.8,7.5l.3,.5l.5-6.6l.4,1.1l.5,5.1l.6-3.8l.4,6.5l.9-8.4l.6,4.9l.1-5l.4,5.1l.9-.4l.1-6.5l.7,1.5l.3,4.3l.6-.2l.5-4.1l.5-.5l.3,4.9l.9,.5l.7-4.4l.4,4.5l.3-4.7l.6,3.9l.2-3.7l.7,5.8l.5-5l1.1,4.2l.2-5.9v-1.1l1,7.6l.5-5.2l.3,6.5l.9-7.6l.2,5.9l.4,.7l.7-5.5v5.1l.8-6.5l.2,1.4l.1,5.2l1.2-.4l.5-5.8l.2-1.8l.2,7l1-.7v-5.8l1,1.7l.7,5.9l.2-.8l.5-5.2l1,4.8v-5.6l.5,6.8l.5-6l.8,.1l.4,6.4l.3,.8l.4-7.5l1.3,1.4l.1,6.4l.7-8.4l.1,5.6l.4-4.5l.7,6.2l.2-1.3l.4-4.8l.9,5l.4-6.1l.8,0l.3,6.1l.3-7.5l.4,10l1.4-3.1l.1-5.9l.4,1.3l.2,6.2l.7-.8l.5-5.9l.3,3.8l.7-4.7l.3,.8l.4,6.8l.7-.8l.2-6l.8,7.1l.6-6.2l.4-.3l.3,6.3l.7-2l.5-6.6l.6,8.8l.4-6.8l.4-.1l.4,5l.8,.2l.5-6.1l.3,1.2l.6,7.4l.4-1.6l.9-7.8l.2,2.5l.3,4.9l.7-6.8l.2,6.5l.8-.9l.2-3.9l.8-1.1l.7,7.4l.5-1.6l.6-4.9l.1,.1l.5,5.7l.7-5.9l.3,5.4l.7,.7l.5-5.3l.6,4.8l.5-5.4l.4-.4l.6,5.3l.3,.6l.5-5.4l.3-.2l.2,5.8l1.5-8.1l.3,5.9l.4-4l.5,4.3l.8-3.8l.1,5.5l.2-.3l.4-6.8l.8,2l.8,4.3l.5-5.8l.5,5.9l.6-4.5l.1,6.1l.7-5l.3,4.3l1-.9l.3-4.8l.5-.5l.1,5.1l1,1l.2-4.9l.3-1.1l.1,5.5l.9-.2l.3-5.2l.9,6.9l.7-9.2l.4,.7l.3,5.8l.6-4.1l.2,4.9l1.1-5.4l.4,4.3l.8-5.2v5.7l.3,.5l.5-5.3l1.1,5.4v-6.1l.3,.1l.7,6.4l.4,.3l.5-5.9l1.1,4.9l.1-4.7l.5-.1l.7,5.9v0l.1-4.5l1.8-1.7l.1,5.5v-4.7l.7,5.3l.8-.5l.3-5.7l1.1,5.8v-6.1l.4,.1l.5,6.4l.5,0l.4-6.4l.7,6.1l.4-4.4l.8-1.3l.4,5l.1-.1l.3-5.7l1.4,8.9l.1-6.7l.5,3.5l.5-6l.5,2l.4,3l.2,.3l.5-3.6l1.1-2l.2,5.8l.7-5.1l.3,5l.3,1.4l.1-5.2l1-.5l.7,4.8l.3-1l.2-4.2l1,6.8l.4-5.8l.6-1.5l.4,4.5l.2-4l.8,6.2l.2,.5l.8-6.2l.4-1.8l.6,6.7l.7,.4l.5-6l.4,.1v5.5l1.1-.5l.1-5.8l.5,4.7l.2-5l1.1,6l.4-7l.2,1.9l.6,5.5l.9-5l.3,5.8l.7-6l.5,5.4l.5,1l.1-5.6l.8-.1l.6,5.3l.1,.6l.4-5.3l1.2-.5l.1,5.3l.4-.8l.1-5l.9-.4l.7,7.4l.5-6.6l.6,5.1l.1,0l.5-4.9l1,4.4v-4.4l.6,.3l.5,6l.5-5.1l.4,6l.4-7.2l.8,5.7l.9-5.2l.3,5.8l.3-1.6l.7-4.2l.2,7.4l.8-5.7v1.6l.3-3.7l.9,6.1v-7.2l1.1,7.6l.5-5.7l.4,3.3l.7-4.7l.6,1l.5,4.5l.4-4.8l.6,4.1l.1,2.3l.5-6.7l.7,.7l.5,5.2l.3-6l.8,5.1l.2,1.2l.6-6.1l.5,5.1l.8-6.6l.4,.9l.2,6.4l.7-5.9l.2,5.7l.9-7.5l.6,5.8l.1-4.2l.6,5l.6-6.8l.3,6.7l.6,1.5l.6-6.1l1,6.6v-6.7l.7-.6l.1,5.4l.9,.2l.4-4.9l.4,4.9l.6-7.1l.5,1.3l.6,5.3l.2,.2l.3-7.7l.6,8.9l.2-4.1l.8-1l.5,5.1l1-2l.2-4.6l.5,.3l.4,5.2l.7,.7l.3-4.5l.7-1.2l.2,5.3l.5-4.7l.5,5l.4-.3l.5-5.1l.7-.5l.7,5.5l.6-4.3l.4,5.2l.3-.9l.4-6.3l.5,1.9l.7,5.2l.5,.1l.6-6.4l.4,5l.1-5.2l1.4,.1v5.3l.9-4.4l.2,4.2l.2-3.2l.2,6.4l.7-2.2l.6-5.5l.5,4.4l.5-4.9l.8,5.6l.1-6.1l1-1.1l.4,7.6l.1,.7l1-6l.1,4.7l.1-4.7l.8,1.1l.2,6l1-7.9l.2,8.3l.9-6l.4,4.1l1.1-.1v-6.4l.7,5l.1-5.1l.9,1.2l.3,4.1l.8-3.7l.1,6l.7-7.2l.3,5.8l.5-5.4l.4,5.1l1,0l.4-3.8l.4,4.9l.2-6l.7,5l.1-7.3l1.1,1.3l.2,4.9l.6,1.4l.3-6.4l.8,.1l.2,5.6l.8-4.8l.4,5.1l.6-4.5l.4,5.1l.5-7.2l.3,7.8l.5-1.5l.5-4.2l.9-1.7l.5,6.1l.1,0l.3-5.7l.8,6.3l.8-8.3l.2,1.3l.5,7.1l.5-6.1l.7,5.8l.3-6l.1,5.3l1.2-.4l.5-4.8l.3,4.6l.6-6.9l.4,7.3l.5-6.1l.5-.1l.6,5.9l.2,.8l.8-6.2l.1,2.2l.2,6.3l1.1-6.8l.3,5.5l.5-7.2l.9,7.4l.1,.1l.7-6l.4,5.1l.7-6.6l.5,.6l.1,5.8l1-5l.3,4.6l.5-5.2l.2,4.8l.8-4.3l.5,4.6l.5-4l.1,6l1-1l.4-5.3l.2,4.2l.5-5.3l.5,7l.7-8.7l.5,7.8l.5-6.3l.8,5.8l.3-5.1l.4-.1l.7,4.9l.3-.4l.6-5.7l.3,5.6l.3-6.5l.7,2.3l.3,4.7l1-5.6l.3,5.3l.4,.5l.7-4.7l.3,.3l.2,5.2l1.1-5.6l.5,4.8l.3,.9l.5-4.4l.3,4.8l.8-5.6l.7,4.2l.4-5.8l.1,1l.5,5.6l.7-5l.7,4.7l.2-5l.4,5.5l1-.4l.1-5.7l.6,7.2l.8-8.5l.5,6.3l.4-6l.2-.8l.7,7.7l.4-6.1l.6,5.8l.4-.9l.6-4.6l.7-1l.3,4.7l.3,1.4l.4-5.2l1.4,5.2v-5.7l.3,6.2l.6-4.1l.6-.7v5.3l.8,.6l.7-6.2l.1-.3l.6,5.5l.6-6l.3,6.5l1-1l.5-3.9l.6-1.1l.3,6.3l.3-4.4v3.7l1.5-6.6l.1,5.4l.5-4.5l.6,6l.4-5.9l.5,6.3l.6-1.3l.4-4.9l.5-.2l.3,4.7l.5,.4l.6-5.1l.6,.1l.1,6.2l.8-.6l.2-5.3l.9,.4l.7,6.7l.2-1l.8-6.6l.3-.4l.3,5.4l.6-4l.3,4.1l.9,0l.5-5.7l.7,1l.2,5.3l.4-.9l.4-4.7l.8,.4l.2,6.3l1-6.7l.2,5.4l.5-5.3l.3,4.9l.9-5.7v5.6l.6,1.3l.5-6l.8-.2l.5,5.6l.6-6.3l.3,5.5l.4-2.7l.3,3.7l1-.8l.4-5.6l.3-.2l.7,7.2l.2-.6l.8-5.7l.7-.4l.1,5.2l.4-4l.6,5.5l.4-.4l.8-5.9l.7,5.6l.1-7.1l.3-.5l.6,6.6l1-5.4l.4,6.5l.5-5.9l.4,4.9l.2,1.1l.1-5.1l.8,.6l.6,4.9l.8-5.5l.6,5.3l.2-7.6l.6,7.8l.2,.7l.9-7.4l.1,3.9l.8-4.5l.2,.8l1,5.4l.1,.1l.7-7.1l.7,.8l.1,7l.4-1.8l.2-4.4l1.2,.5l.2,5l.4,1.1l.4-5.9l.9-2.5l.3,7.5l.8,1.8l.4-7l1.1,.4l.1,5.7l.1-1.4l.5-6.1l.7,7.3l.5-6.6l.5,.2l.7,5.8l.5-6.1l.4,5.9l.3-.8l.5-5.3l.8-.5l.1,6.5l.9-6.8l.4,5.7l.2-3.5l.3,7l1.2-2.7l.3-4.8l.7,.5l.1,5.3l.5-5.6l.4,5.4l.7-5.7l.6,5.1l.2-.5l.2-4.7l.9-1.2l.7,7.6l.5,.5l.5-6.6l.4-.7l.6,6.7l.2-.1l.8-5.9l.4-1l.1,7.3l.8,.2l.6-5.3l.9,3.1l.2-4.1l.2-1.3l.4,6l.7,.9l.6-6.4l.5,6.8l.1-6.7l.6-.6l.9,5.6l.7-5.4l.2,4.6l.9-3.4l.1,5.5l.3-6.9l.9,6.6l.2-1l.7-4.8l.4,5.9l.5-5.8l.3,.4l.5,5.1l.7-5.6l.5,5.5l.3-5.7l.6,5.6l.5-5.6l.1,4.5l.9-4.2l.6,7.1l.6-5.9l.3,5l.3-1.3l.6-5.9l.6,6.4l.6-4.3l.2-1.4l.7,5.3l.4-5.9l.9,9l.2-.9l.8-5.6l.3,4.4l.6-6.3l.3,6.3l.5-5.6l.5-.8l.6,4.6l.3,.3l.1-4.9l1.6,.8l.1,5.5l.2-.6l.2-5.3l.8-.9l.6,8.5l.5-1.9v-7.2l1.3,.5l.2,5.4l1,.4l.1-5.2l.7-.6l.4,4.9l.2,.9l.7-6.4l.2,.4l.8,5.6l.4-.3l.5-5.5l.8,7.4l.1-6.3l.4,4.9l.2-5.6l1.6,6.4l.1-6.4l.2,1.8l.5,5.3l.6-.9l.6-6.7l.2,1.1l.7,6.2l1.2-.4v-5.5l.4,4.8l.3-4.4l.4,5.3l.4-4.4l.8,5l.7-6.2l.2,5l.6-3.9l.6-.6l.1,4.9l.7,.5l.6-5.8l.5,1.2l.5,4.3l.5-7.6l.6,6.4l.6-3.8l.5,6.5l.1-1.4l.7-6.6l.7,6.8l.1-5.8l.5,6.4l.9-7.2l.2,.5l.7,5.6l.5-5.2l.2,4.9l.6,1.7l.7-6.1l.4,5.9l.3-7.5l.9,6l.4-5.3l.2-.7l.9,7.3l.1-.1l.9-5.8l.1,5.4l.2-5.3l.9-1.4l.1,7.3l.8-6.3l.6,4.9l.6-5.6l.2,5.6l1,0l.4-5.5l.6-.5l.4,5.9l.4-1.3l.8-4.3l.4,5.5v-4.5l1.2,.3l.1,5.5l.4,.3l.3-5.9l1.1,6.1l.4-7.3l.5,.5l.1,4.4l.7-.5l.3-5l.7,1.9l.3,4.9l.9-.9l.4-6.2l.3-.2l.3,4.3l.9-2.8l.1,6.7l.7,0l.9-6.4l.1-1.3l.5,8.5l1.1-2.9l.3-4l.2,5.3l.4-6l.6-.6l.6,4.9l.2,1.2l.7-4.6l.5,4.5l.8-5.5l.1-.6l.6,6.6l.5-5.7l.6,4.5l.2,1.5l.9-5.1l.5-1.3v7.4l1.3-1.4l.3-5.7l.3,4.5l.7-6.6v.8l.9,6.2l.4-.8l.3-5.4l1.2,.9l.2,5.3l.3-.1l.7-6.5l.8,6.6v-5.6l.5,4.5l.4-4.1l.4,1.1l.6,4.7l.9,.2l.2-7.2l.8,.2v6.3l.5,.7l.1-5.6l.8,4.6l.9-4.1l.6-2.2l.3,5.4l.4,2.3l.8-5.5v-.2l.7,7l.3-1.8l.8-6.2l.6,6.9l.4-7.2l.4,.9l.5,5.4l.5-7.6l.7,7.6l.3,2.3l.6-7.2l.5,5.2l.6-5.7l.2-1.1l.7,6.2l.5,1.2l.5-8.9l.6,2.9v5.3l.7-.3l.5-3.9l.4-1.7l1,4.9l.1,.5l.2-4.8l.9,0l.1,5.1l.8-5.2l.8,5.9l.5-5.1l.3,4.3l.6-5.6l.1,5.4l1,.5l.3-5.5l.7,.4l.1,5.5l.6-5.9l.3,4.6l.9,.6l.5-5.5l.2-.9l1,7.5l.4-6.5l.5,6.1l.3,.2l.6-4.1l.4,4.3l.4-4.6l.5,5l.1-6l1-1.2l.7,7.6l.3-1.6l.8-5.4l.2-2.3v7.1l1.1,1.3l.7-6l.6,5l.2-4.3l.4-.4l.8,5.6l.2-.1l.8-5.7l.8,5.6l.1-6.3l.6-.2l.3,6.3l.7-4.8l.2,4.5l.4-6l.7,6.7l.3,.3l.1-5.3l1,4.3l.5-4.8l.7,5.7l.2-7.2l.6,.1l.6,4.7l.3,1.5l.3-5.6l1.4,4.1l.2-4.4l.2-.9l.3,7l.6-6.5l.5,5.3l.7,.8l.5-5.4l.2,5l.8-4.7l.3,.1l.9,5.7v2l.8-7.3l.4,5l.6-5.5l.6,0l.5,5.9l.2-4.4l.4,4.4l.8-.8l.3-5.6l.9,6.2l.3-5.6l.6-1.6l.5,6.4l.5-4.8l.1,4.4l.8-3l.3,4.8l1.2,.3l.1-6.1l.7,1.7l.2,4.6l.7,1.2l.3-7l.3-.6l.9,6v-4.9l.8,5.1l.2,.3l.5-4.9l.6,3.8l.3-5.7l.6,.9l.9,5.6l.5,.4l.1-5.9l1-1l.2,4.8l1.2,1.5v-5.1l.5,4.1l.3-5.6l.3,5.6l.7-6.6l.8,5.5l.3-4.6l.6-.3l.6,5.6l.6,.1l.3-6.1l.9,5l.1-5.3l.2,0l.5,5.9l1-5.5l.2,5.6l.5-4.2l.6,3.6l.4-4.1l.6,4.3l.2-.5l.8-5.1l.7,6.1l.3-6l.7,6.9v-6.2l.6,.7l.4,6.3l.4-5.8l.9,5l.4,.1l.2-6.6l.5,7.9l.4-5.4l.8,5.2l.4-6.5l.8,4.7l.3-4.8l.8,0l.4,6l.1-1.7l.8-4.4l.7,5.9l.3-5.3l.7,6.4l.4-6.2l.2,3.7l.2-4.6l1-.7l.3,5.2l.6-.5l.8-3.6l.4-1l.4,6.9l.3-1.5l.5-4.5l.9-1.5l.4,6.8l.4-.3l.4-5.2l.4,6.5v-5.9l1.1,0l.6,6.8l.2-1.6l1-5.7l.6,4.4l.2-4.7l.3,3.8l.8-5.5l.1,.6l.2,6.5l1.3-.6l.2-4.5l.5,5l.8-6.1l.1,.1l.8,6.8l.3-4.6l.2,3.6l1.1-.1l.1-5.8l.7-.8l.7,6.4l.3-4.7l.5,6.5l.3-7.5l.8,6.8l.5-6.3l.1,6.2l.9,.9l.4-7.1l.2,6l.2-4.8l1.4-1l.3,6.3l.1,0l.6-6.9l.4-1.9l.2,7.9l1-.4l.4-5.5l.4,6.3l.3-6.5l1,7.1l.5-5.3l.5-1.5l.4,6.3l.3-.1l.9-5.5l.7,.2l.3,4.6l.8,1.3l.1-5.8l.3-1.1l.7,5.2l.6,.4l.6-5.2l.2-.6l.4,4.4l.8-3.6v4.4l.9,1l.6-5.1l.7,5.1l.4-7.4l.1,1.7l.3,5.7l.6-5.4l.1,5.2l1.3,.4l.6-7.5l.3,8.6l.6-6.4l.5,3.9l.4-6.1l.4,.7l.5,7.3l.3-.4l.9-5.9l.2-1l.9,6.9l.5-6l.1,4.8l.5-4.2l.5,5.9l.6,.2l.6-6.5l.5,5.7l.4-6.3l.4,4.9l.5-5.7l.7,5.6l.2-5l1.2,.6l.2,5.1l.7-5.5l.4,5.9l.2,.4l.1-4.9l.9,4l.3-4.5l.7-.7l.7,5.6l.5-4.9l.1,5.2l1-.9l.3-5.7l1,.8l.2,5.5l.4,2l.3-6.5l.6,0l.5,5l.7-.9l.4-6.2l.8,7.9l.2-7.4l.5,.8l.3,5.4l.6-.6l.2-5.1l1.1-.2v5l.7,1.7l.6-5l.5-1.7l.4,6l.4,.8l.7-5.6l.6,4.5l.3-5.4l.6,4.2l.1-4.5l.5,1.3l.8,5.6l.8-6.3l.3,5.1l.1-5.2l.6,7.6l.4-1l.1-6.5l1.1,5.4l.1-5.8l1.2,1.1l.5,5.8l.6,1.1l.1-7.8l.5,.7l.5,5.8l.5,1.4l.3-6.4l1,4.7l.3-6.7l.6,.5v6l1.2,.8l.4-4.9l.1,4.1l.4-6.2l1.2,1.1l.1,5.4l.3,0l.9-6l.3-.2l.4,6.2l.3-.7l.8-6.6l.3-.7l.9,6.2l.3-.1l.4-5.8l.3-.2l.8,7.2l1-5.1v5.6l.4-5.1l.6,6l.2-6.8l.6,4.7l.5-4.1l.6,6.2l.5-6.8v5.8l1.6-.8l.1-3.8l.6,5l.5-5l.1-2.1l.8,7.1l.2-1l.6-6.1l.4,8.4l.4-6.8l.6,5.8l.4-6l1-.5l.3,7l.7-7.4l.3,4.9l.6,1.6l.5-5.6l.4,5.5l.5-8.7l.6,9.1l.2-6.1l.9,0l.3,6l.5-.7l.1-4.8l1.4,5.3l.1-4.2l.2-2.6l.4,6.2l.9-5l.2,4.4l.8,.9l.5-6.2l.2,.2l.2,4l1.5,1.3l.1-5.2l.3,1.2l.7,4.9l.1-1l.5-4.4l.8-.4l.7,5.2l.1,1.3l.9-6.1l.2-1l.7,4.7l.2-4.3l.8,6.1l.3-5.8l.5,5.2l.4,1.4l.5-6.4l.9,6.3l.5-6.1l.3,6.6l.7-8.8v7l.4-7.6l.8,8.2l.8-6.9l.7,7.6l.2-5.5l.4-1.3l.5,6.8l.8-.7v-8.3l.4,1.6l.8,4.6l.6,3.9l.2-7.1l.4,.1l1,5.5l.6-5.6l.2,6.8l.8-8.2l.2,5.9l1-6.1v5.8l.4-3.8l.7,5.9l.1-1.3l.2-5.9l.8-.3l.8,6.6l.6-.1l.5-4.5l.7-1l.1,6.9l.9-9l.2,8.7l.8-5.6l.4,4.9l.5-6.9l.1,6.3l.9-5.4l.4,5.3l.5-4.7l.4,4.9l.9,.2v-7.3l1.1,1.1v4.8l.4-5.5l.5,7.7l.8-1.6l.4-5.4l.2,4.8l.6-5.6l.6,7.1l.6-9.2l.6,2.6l.4,5.9l.1,.8l.3-5.5l1.2-.3l.5,5.2l.8-7v6.6l.4-.5l.8-5.2v0l.6,7.3l.5-1.5l.3-5l.9,5.4l.4-6.2l.6,5.3l.6-4.7l.7,5.5l.4-6.4l.2,6.5l.2-5.3l.8,.5l.8,5.7l.3-6.1l.2,4.2l.7,.3l.5-5.5l.9,5.8l.4-5.8l.8-.3l.2,6.3l.3-4.9l.3,4.4l.6-.3l.6-5.7l.5,1.6l.6,5.2l.1,1.2l.8-7.1l.4,.5l.5,7.1l.4-2.4l.5-5.1l.6,7.6l.8-7.4l.4-1.8l.5,6.8l.1-.7l.3-4.8l.9,1.3l.5,5l.3-6.3l.6,5.9l.5-5.6l.6,5.2l.6-5l.2,4.6l.6-3.4l.3,3.4l.6,.9l.5-7.2l.9,6.7l.4-5l.3,.3l.6,5.4l.5-6.2l.6,6.6l.3-1.6l.6-6.2l.4,1.9l.7,6.2l.4-5.6l.7,4.8l.1-1.2l1-4.8l.4,5.8l.3-5.3l.7,6.8l.5-6.9l.1,.2l.2,5.6l1.2-5.9l.2,4.4l.5,.3l.6-6.7l.7,8l.3-7.3l.8,1.9v4.8l.7-6l.5,4.4l.6,1.7l.6-5.4l.7,4.8l.1-5.3l.5,4.9l.5-6.8l.6,1.1l.7,6.3v-1.1l.4-6l.8,7l.2-7.2l.7,1l.5,6l.6-5l.5,6.2l.9,0l.2-6.7l.9,5.9l.2-5.6l.6,.5l.3,5.5l.6-.1l.5-5.6l.6,1.2v4.6l.8-.3l.4-6.3l.4-.3l.6,4.7l.4-5.3l.4,7.5l.9,.3l.2-7.2l.5,1.8l.7,4.7l.4,1.2l.4-5.8l.4,5.7l.6-6.4l.8,5.5l.5-5.3l.1,.8l.7,5.2l.5-5.1l.3,4.7l1.2-.7l.3-3.9l.2,5v-6.1l.8,5.3l.5-5.5l1,7l.3-6.2l.6-.3l.5,4.5l.7,0l.3-4.2l.1-1.9l.5,5.9l.8-5.7l.6,6.9l.1-4.5l.8,4.9l.6,1.3l.5-6.6l.2-2.1l.7,6l1.1,1.9l.1-7.5l.3,.4l.5,5.6l.7-.5l.4-5l.3,4.9l.5-5.5l.3,6l1-6.6v1.6l.8,5.5l.4-6.4l.6,5.3l.4,1.2l.6-5.9l.3-1.2l.8,6.3l.4,1.6l.4-6l.5,4.5l.5-6.6l.3-.6l.8,9.6l.3-7.3l.5,5.5l.9-4.8l.2,4.7l.6-.5l.3-4.3l.8,4.6l.4-5.2l.4-.6l.5,5.4l.5-8.6l.2,7.8l.7,.6l.8-5.7l.2,6.1l.8-6.2l.5-1.3l.4,7.3l.6-6.3l.5,6l.1-4.2l.5,4.8l.9-1.2l.2-4.8l.7,7.7l.6-6.2l.6,3.8l.3-5.6l.2,.1l.7,6.5l.6-5.8l.6,6.7l.1-1l.6-6.4l.6,1.2l.8,6l.4-1.2l.5-5.3l.5-1.9l.4,7.1l.7,.8l.3-4.4l1,5.2l.1-6.6l.4,4.9l.3-5.5l.6,4.8l.2-5.5l.6,.8l.4,5.2l1-5.8l.2,7.6l.5-8.5l.7,5.2l.2-3.4l.8,7.2l.4-1l.7-7l.5,1.1l.3,5.4l.3-6.7l.9,5.6l.3,.4l.5-4.8l.6,4.6l.4-4.4l.7,4.8l.4-5.8l.3,6.2l.5-5.9l.5,5.7l.1-5.6l1.1,5.4l.5-4.8l.4,1l.2,4.1l.8-4.1l.3,5.2l.5-.5l.8-6.1l.3,.9l.8,4.2l.5-.2l.1-4l.8-1.4l.5,4.6l.4,1.8l.6-7.4l.8,1.6l.2,4.4l.3,.1l.8-6.1l.1,9.6l1-9.6l.1,7.1l.6-6.2l.4,.6l.5,6.1l1-6.3l.3,5.9l.2-.7l.3-3.9l.8,4.4l.5-4.4l.8,5.5l.5-6.6l.4-.1l.3,5.4l.7-6.9l.3,7l.4-.3l.4-4l.9,5.8l.4-6.5l.6,5.7l.1-7.2l.8-.3l.1,6.8l1.2-6l.4,5.6l.2,.5l.1-6.2l.9,6.5v-6l1.5,.6l.1,4.6l.3,1.2l.1-5.6l1,3.7v-6.3l1,1.3l.6,6l.4-6.2l.4,5.5l1.1,.4l.2-5.1l.3,6l.4-6.5l.5,1l.5,4.6l.5,1.5l.5-6.9l.8-.2l.5,5.6l.5-5.2l.1,5.2l1-4.8l.3,6l.7-7.5l.3,6.1l.5-6.1l.6,6.2l1-4.5l.1,5.3l.6-4.4l.4,3.9l.2-4.1l.5,4.9l.6-5.6l.7,6l.2-1.6l.2-5.2l1,6.9l.6-7.6l.2,.4l.6,6.6l.7-1.5l.3-6.1l.5,7.4l.3-5.5l.6-.7l.6,5.2l.2,.1l.8-5.5l.5-.4l.6,5.7l.2-4.6l.2,4.6l.9,.8l.3-5.7l1.2,6.8l.3-6.1l.1,3.9l.4-4.3l1,6l.3-5.9l.2,5.7l.9-6.4l.3,1.2l.7,3.3l.7,2.8l.3-5.8l.1,3.7l.2-4.8l1.1,6.1l.1-5.7l.9,5.8l.5-6l.7,6.7l.3-5.6l.7-.3l.4,4.7l.2,.1l.6-5.4l1-.6l.3,5.6l.2,.5l.2-5.7l1,5l.6-5.1l.1,5.1l.7-4.2l.6-1.8l.4,7.2l.6,.2l.4-7.2l.5,.5l.5,4.6l.2-4.2l.5,5.3l.8-7l.2,6.5l.6-5.7l.9,5.4v-4.5l.4,4.2l.8,.7l.8-4.9l.1-1.4l.7,4.6l.4-3l.6,5l.2-.7l.8-5.5l.4,6.4l.6-5.6l.6-.9l.4,5.1l.2,1.7l.8-5.6l.3-.8l.3,5.9l1,.9l.2-5.7l.5-2.5l.3,7.3l.7-.1l.2-6.3l1.2,5.9l.2-6.6l.3,6.8l.7-5.8l.7,1.2l.1,4.9l.9-4.8l.1,4.9l.6,1.6l.2-6l.9,3.9l.2-5.3l.8-.9l.5,6.1l.5-3.7l.3,5.3l.5-.9l.6-6.4l1,5.6l.4-5.6l.5,8.8l.5-8.1l.5,6.3l.4-6.1l.1-2l.6,8.8l.8-8.2l.4,5.9l.6,1.4l.2-6.2l.7,5.1l.1-4.6l.6,.8l.7,4.6l.4-4l.1,4.8l1.5-6.8l.2,5.3l.1,.6l.6-5l.7,6.6l.2-6.1l1-.5l.3,4.6l.4,1.7l.7-5.5l.4,4l.3-5.8l.4,1.5l.9,4l.5,1.1l.1-6.7l.7,1l.6,5l.2,.5l.5-7l.6-.9l.7,5.8l.2-3.4l.4,5.2l.6-6.4l1,5.7v-5.4l.2,7l1.3-6.8l.1,5.9l.6,.9l.5-6l.7-1l.5,7l.3-3.5l.3-3.4l1.1,6.1v-4.5l.5,5.8l.7-5.9l.5,4.9l.4-5.8l.3,5.5l.6-7.7l.9,10.7l.5-9.1l.7,6.2l.3-5.5l.3,1.1l.1,5.2l1.3-5.5l.1,4.8l.4-5l.4,5.2l1.1-5.6l.2,5.9l.5-6.4l.3,5.9l.8-5.7l.3,5.1l1.1-.8l.1-4.9l.3,.3l.2,5.9l.5-.4l.8-7.5l.2,2.1l.9,7.9l.4-7.9l.6,4.9l.3-5.1l.7,5.2l.9-4.3l.1,5.4l.2-2l.7-5.4l.4,5.9l.1-4.8l1-.1l.4,5l.8-4.8l.1,5.1l.8,.6l.4-4.8l.8,4.5l.2-5.6l.4-.4l.1,5.5l.9-6l.2,5.7l.7-6.4l.7,8.5l.5-1.6l.5-5.9l.4,6.9l.6-7.6l.3,6.4l.1-4.9l1.3,5.4l.3-5.4l.6,4.4l.5-5.6l.7,6.3l.4-4.6l.1,4l.4-4.9l.8,.4l.5,5.2l.4-5.6l.5,6.4l.7,.6l.5-5.8l.6,4.9l.3-5.8l.8,.3l.3,6.6l.6,1.4l.2-6.8l.3,4.5l.6-5.8l.5,3.8l.9-6.1l.3,.9l.4,5.3l.8,1.8l.3-5.9l.5-.8l.7,7l.2-5.3l.5,4.3l.4-5.3l.1,6.4l1.6-.4l.1-5.9l.1,.2l.8,4l.6,.1l.6-4.9l.1,.9l.3,6.1l.7-1.5l.6-5l.5,5.1l.8-4.8v.5l1,4.7l.4-.1v-5.4l1.4,5.1l.1-5.1l.9,.2v7l.5-6.8l.7,6.1l.5-5.2l.1,5.6l.6-6.6l.5,6.4l1-8l.1,6.3l.8-3.9l.3,5.6l.2-.4l.4-5.3l.9,6.1v-6.9l.9,.6l.6,6.3l.2-6.4l.9,4.7l.6,.8l.3-5.7l.1,4.7l.5-5l.8,5.6l.4-5.3l.5,.9l.4,5.5l.8-6.4l.6,5.4l.4-5.7l.5,5.6l.6-4.4l.1,4l.6,.4l.4-5.9l.4,.2l.7,4.5l.4-3.9l.9,5.7l.3,.7l.3-7.1l.6-.4l.7,5.2l.1-5.5l.8,5.9l.2-3l.7,4.2l.8-6.3l.4,5.5l.6-4.8l.2,4.8l.4,.3l.7-4.1l.6-1.5l.6,6.4l.2-.6l.2-5.3l.6,6l1-5.8l.5,.1l.3,5.5l.6-6.3l.3,6.4l.3-.5l.7-5.5l.8,.5l.4,4.9l.7-5l.3,6.1l.2-.8l.6-5.6l1,5l.1-4.8l.4-1.5l.8,6.8l.2-1.8l.5-4.1l.9,5.3l.2-4.8l.8-1.9l.3,6l.2,1.5l.9-5.7l.4-.2l.5,7.7l.1-4l.5-4.4l.8-.1l.1,6.7l.9-.2l.2-5.5l.5,.4l.6,5.2l.7-6.8l.5,7.1l.8-5.5l.2,5.7l.2-1.5l1-5.7v1.6l.6,4.4l.5,.5l.7-5l.6,6.4l.5-9.3l.2,2l.5,5.3l.8,2.1l.5-6.8l.1,.1l.3,4.8l.8-5.9l.9,4.4l.1-4.3l.4,7.1l1.1-6l.2,5.2l.5-.6l.3-6.4l.5,1.8l.2,6l.8-6.7l.3,6.6l.8-1.6l.6-5.3l.9,.7l.2,5.5l.3,.4l.5-6.6l.5,1.5l.6,4.7l.3-6l.5,5.7l.8-.1l.5-5.5l.2,1.4l.8,5.5l.4,.3l.5-5.4l.2,3.8l.8-5.3l.4-2.8l.5,8.6l.4,.4l.7-7.9l.5,2.1l.4,5.2l.3,1.6l.5-8.4l.6,1.9l.7,4.3l.3-4l.7,5.5l.7,0l.5-7.7l.1,.6l.6,4.9l.4,1.1l.9-6.9v8.5l.3-7.3l.8,7.2l.5-6.2l.5-1.4l.7,5.2l.3,1.4l.6-6.2l.9,6l.4-5.1v-.9l.7,4.8l.3-5.5l.6,6.2l.9-4.8l.3,4.9l.4-.5l.5-5.6l.6,.2l.5,5.1l.4-4.3l.5,5.3l.3-.2l.6-6.5l.5,6.4l.7-4.4l.5,3.6l.3-4.4l.8-.7l.5,8.4l.6-1.5l.3-6.2l.5,3.1l.1-4.1l1.1,0l.1,5.7l.7-4.6l.6,5.2l.2-5.3l.3,5.5l.7-5.5l.6,5.9l.4,.4l.6-6.7l.7-.6l.1,4.7l.7-3.5l.5,5.5l.4-7l.7,5.9l.5-3.5l.2,4.9l1.3-6.9l.2,5.1l.3-4.6l.5,5.6l.9-4.4l.2,4.6l.3-5l.6,6l.2-1.2l1-5.2l.4-.8l.4,4.8l.6-4.9l.5,6.5l.2-1.1l.3-5.9l1.2-.3l.1,6.2l.5,.7l.6-6.2l.9,1l.3,5.5l.4-5.1l.5,5.8l.4-5.9l.5,5.1l.6,1.2l.1-7.2l.7-1.1l.1,6.1l.8-6.7l.5,6.6l.8-4.2l.2,6.4l.7-6.3l.5,5.4l.5-5.6l.3,5.8l.4-1.3l.7-4.8l.5,6.3l.7-5l.9,0v4.8l1.1-.8v-6.7l.7-.3l.2,6.1l.4,1.8l.1-5.1l1-.6l.5,6.3l.4-1.3l.1-6.1l1.4,1.1l.2,4.9l.3-4.6l.2,4.4l.8-1.3l.5-4.9l.5,5.8l.4-5.9l1.1,.6l.2,6.1l.3-6.2v5.2l1.1-4.4l.2,5.9l.9-6.3v4.7l.8,2.4l.8-7.2l.2,6.1l.2-5.9l.6,5.4l.5-6.1l.5,1.2l.2,4.9l1.6-4.9l.2,6.5l.4-6.2l.4,5.5l.6-.2l.3-7.4l.7,8l.3-7.6l.7,5.6l.2-4.1l.9-2.1l.5,7.3v-.7l.2-6.2l1,6.5l.5-5.9l.6-1.2l.7,5.8l.4,2.6l.6-6.2l.8-1.8l.1,6.5l.2-6.2l.3,7.6l.9-6.1l.6,5.9l1-1.6l.1-4.5l.4-.9l.5,5l.2,.9l.7-5.7l.7,6.3l.1-5.7l.5,4.9l.8-5l.7,6.1l.3-6.1l.7,0l.4,8v-7.7l.4,5.3l1.1-3.3l.1,4.1l1.2-7.7l.2,7l.1-5.4l.5,5l.5-4.3l.5,4.9l1-.7v-4.7l.6-1.4l.6,5.8l.4,2.1l.7-5.8l.7,5.1l.4-5.8l.2,4.7l.6-4.7l.3-.8l.8,6.6l.5-7.1l.2,5.5l.6,.9l.5-7.2l.3,.7l.7,6.1l.5-6.3l.3,6l.7,1.2l.5-6.6l.5,.4l.7,5l.2-.5l.5-3.9l1.1-.1l.2,6l.5-6.6l.4,6.7l.9-1.7l.1-5.1l.4-1l.6,6.8l.5-5.2l.7,7.1l.3-2.1l.5-5.1l.4-.3l.2,6.7l.6-6l.7,6.1l.3-.6l.3-5.5l.8,0v4.7l1.6,1.8l.3-6.3l.2-1.8l.7,5.8l.1-5.1l.4,6.2l1-1.2l.4-6.6l.2,2.5l.5,4.4l.8,.2l.5-6l.2,5.7l1-5.9l.5-1.7l.4,7.6l.4-6.4l.5,5.7l.2-4l.5,5.3l1.2-5.4l.2,4.8l.7-5.1l.3,4.7l.2-4.9l.5,4.6l.8-5.6l.5,6.7l.3-1.1l.3-4l.6,4.9l.3-4.4l.9-1.3l.5,5.6l.6,1.4l.5-6.2l.6-.8l.4,6.4l.9-5.5l.2,5.5l.3-6.6l.7,7.6l.6-8.4l.4,6.7l.3-4.8l.4,4.5l.3-3l.6,7.6l.5-9.5l.8,7.2l1-7.3l.1,6v-.9l.7-4.1l.9,3.9l.4-5.7l.3,5.2l.7-5.7l.7,.7l.1,6.5l.7,.5l.5-5.2l.2,4.4l.4-5l.9,6.6l.3-6.5l.2-.4l.7,6.4l.8-.1l.5-7.9l.2,4.1l.5-3.3l.4,5.3l.5-6.3l.7,.8l.5,5.4l1-4.4v5.7l.5-1l.3-4.5l.6,4.1l.7-5.8l.4,1l.3,5.8l.6-.1l.4-5.8l.8,5.9l.2-6.8l.6-.5l.1,7.4l1.3-.8l.4-5.5l.4-1l.6,6.6l.4,.9l.4-6.6l.4-1.8l.6,8.1l.5-5.7l.3,6.8"/>
<path class="d" stroke="#9467bd" d="M101.2,457l.4,7.5l.8-8.3l.1,8.6l.5,.7l.5-9.9l.3,.2l.4,8.4l.4,0l.5-8.8l.9,11.1l.3-13.3l.8,2.9l.2,9.1l.4-2l.4-6.2l.9-.2l.5,7l.1-9.1l.8,10.4l.2-9l.6,7.7l.9-.2l.1-8l.7,.1l.1,7.9l1.3,2l.1-9.7l1,11.3v-10.7l.8,11.1l.4-10.2l.2,7.3l.6-9.3l.2,.8l.5,9.7l.5-10.1l.3,9.9l.7-.3l.7-10.9l.6,10.8l.1-8.3l.8,9l.6-9.1l.6-.4l.3,8.2l.6-8.4l.7,6.9l.6-7v7.6l.6-.1l.1-7.7l.7,8.4l1-9.5l.1,7.5l.4-7.6l.8,.4l.3,8.1l1-7l.2,10.8l.9-3.7l.2-8.2l.9-1.1l.2,8.9l.4-9l.1,12.1l.7-3.5l.7-7.8l.1,9l.7-8.2l.5,9.3l.7-9.5l.3,.2l.3,7.5l.7-7.3l.3,8.8l.7-.3l.4-8.5l.5,7.7l.1-7l1.5-.6l.2,8.3l.4-7.5l.4,7.7l.5-8.6l.8,8.2l.6-1.5l.1-6l.9,9.8l.3-10.1l.5,8.3l.2-9l1,9l.2-9.4l.6,2l.3,8.5l.7-12.1l.5,10.7l.4,1.6l.6-10.3l.3,7.8l.8-9.2l.1,9.5l.7-8.3l1-.4l.1,10.2l.5-9.3l.5,8.6l.5-8.5l.3,7.8l.5-8.8l.3,8.4l.7-7.9l.6,8.6l.5-10.7l.7,11.7l.9-8.9l.1,6.5l.1,2.1l.3-9.3l.7,9l.6-7.8l.4-.7l.1,8l1.4,2.4l.2-9.9l.7-1.2l.3,10.1l.3-10.1l.7,9.1l.5-8.2l.5,7.7l.6-.4l.5-7.2l.4-.9l.1,9.7l1.1-12l.2,10.9l1-8.4l.1,8.6l.4-9.6v9.2l.8,.6l.2-7.9l.9-1l.8,7.9l.7,1.2l.3-7.9l.3-1.9l.6,10.2l.9-.1l.2-10.1l.3,9.4l.7-7.8l.1,.3l.2,8.6l1.4-9.2l.3,6.4l.9,1.1l.1-7.2l.9,7.9l.1-8.4l.4,7.3l.3-6.6l.9-1.1l.2,9.4l.3-9.5l.7,7.4l.8-7.7l.5,8.6l.1-9.8l.1,10.5l1.3,1.5l.3-9.3l.6,8.8l.3-9.6l.4-.6l.8,8.8l.9,1.8l.2-9.3l.5-.1l.3,7.8l.7,1.5l.4-8.5l.5,7.1l.1-7l.7-1.5l.2,8.6l.8,2.7l.8-9.3l.9-.6l.1,7.9l.6-.4l.2-8.3l.3,.2l.6,7.4l.6,1.9l.7-11.1l.2,9.8l.6-8.7l.7,9.1l.3-8.8l.6-2.7l.2,11.3l.6,.7l.3-9.3l.5,6.8l.2-6.2l1-2.3l.3,9.7l.9,.2l.1-8l.6,8.9l.7-9.8l.7,8.7l.2-8.5l.5,2.1l.1,7.6l.8-8.1l.3,7.6l.9-.7l.4-9.5l.4,7.8l.3-6.6l1,8.8l.5-8.6l.5,.1l.6,6.4v-6.7l.8,9.4l.7-8.9l.3,7.7l.2-1.1l.8-7.8l.9-3.7l.3,11.4l.4-8.4l.5,9.8l.2,.6l.3-8.1l.6,8.2l.9-8.6l.2,7.4l.3-9.2l.9,1.3l.1,8.6l.6,.8l.7-9.4l.5,0l.4,8.7l.6-.9l.2-9.9l1.2,11.9l.2-8.2l1,6.1l.1-8.1l.9,1l.1,8.5l.5-8.9l.1,11.5l1.1-1.1l.2-10.7l.4-1.5l.1,10.6l.8-8l.1,6.3l1.1-6.4l.5,7.6l.3-8.5l.5,7.2l.6,1.9l.7-9.6l1,9.7l.1-8.9l.1,.4l.9,6.8l.1-7.3l.7,8.4l.6-9.1l.5,8.3l.1,1l.8-7.7l.6-.7l.2,7.7l.5,.7l.3-8.9l.7,1v6.6l1.2-8.6l.2,10.3l1.3-8.4l.1,9l.1-1.5l.2-7.2l.9-2.5l.1,9.5l1-8.9l.7,10.7l.6-.9l.2-8.3l.3-.8l.7,9l.5-9l.7,8.2l.1,1l.4-9.3l.8,9.3l.8-7.7l.3,8.2v-9.1l1.6,8.1l.1-8.5v-.5l.1,9.3l1.5,.1l.1-9.8l.7,9l.3-8.8l.3,.5l.2,7.6l1.5,1l.3-9.6l.8,9.2l.2-6.8l.5,8.9l.1-9.3l.6,0l.6,7.6l.5-7.8l.2,7.8l1.1-8.6l.3,7.9l.4,.1l.3-8.7l.8,9.3l.5-9l.2-1.2l.1,8.7l.8-7.4l.3,8.7l.8,0l.7-9.7l.9,8.7l.2-7.4l.4,9.5l.6-9.1l.7-2.5l.2,11.2l.2,0l.7-8.8l.3-.2l.7,9.1l.6-.9l.1-8.5l.8,.7l.1,8.3l1.3-8.4l.4,7.2l.4-13.2l.5,13.2l.4,3l.3-10.1l.6,8.2l.6-9.1l.5-.3l.6,8.5l.1-7l.1,5.5l1.1,.5l.4-7.9l.5,11.2l.1-9.7l1.1,7.9l.6-8l.4,.5l.1,8l.9-1.9l.6-14.4l1,6.7l.1,7.5l.6,1.1l.2-9.1l1,1.9l.2,7.2l.5-7.5l.2,8.1l.5-9.2v8.5l1,1.7l.1-9.3l.8-.4v8.3l1,2.3l.4-10.7l1,9.3l.1-7.7l.4,10.2l.6-12.9l.6,.5l.5,8.2l.6,2l.7-9l.4-.9l.5,10.1l.3-1.3l.6-8.5l.4-1.5l.4,11.3l.7-11.7l.3,10.3l.5,.6l.6-8.3l.5,8l.5-7.4l.7,7.3l.4-8.6l.6,.3v10.3l.8-1.9l.6-7.7l.2-.5l.1,8.6l1.4-9.4l.5,11l.2-9.1l.5,7.7l.6-9.2l.1,9l.7-7.9l.4,7.9l.9-8l.2,8.4l.9,1.2l.1-11.8l1.1,.9l.2,9.3l.3-.6l.1-7.6l.9,7.5l.2-9.1l.6,2l.7,8.6l1-8.9l.1,9l.4-1.5l.4-9l1.1,.7l.2,8.9l.6,1.6l.2-10.5l.6-.4l.2,11.8l.6-10.1l.9,7.9l.6,.6v-9.8l.6,8.6l.3-8.6l.5,.4l.4,9.8l.6-10.4l.3,9.1l1-8l.1,8.4l1-8.4l.1,7l.8,1.3l.3-8.6l.6,.3l.6,9.3l.6-2.4l.4-6.7l.6,6.9l.1-6.9l.5-1l.4,9.1l1-9.9v9.7l.7-7.7l.5,8.5l.4-7.8l.3,8.2l1.1-9.1l.4,8.8l.3-8.8l.8,8.9l.1-8.9v8.7l1.2-.2l.6-8.8l.2,7.5v-9.3l1.1,10.5l.1-9.4l1.2,1.3l.5,7.3l.3-9.3l.6,10l.2,1.6l.2-10.6l1-3.4l.8,11v1.5l.6-8.1l.7-1.1l.5,9.8l.8-.7l.3-10.3l.8,1.7l.1,8.4l.2-7.4l.7,5.6l.3-5.7l.8,6.2l.2-8.2l.1,7.7l.9,1.7l.2-9.4l1.5,8.2l.1-7.8l.6-2l.3,10.2l.4-7.2l.2,6.4l1-7.4l.2,8.3l.8-9.2l.1,10.3l1-8.9l.6,7.8l.2,.5l.4-7.4l.4,7.4l.1-7.4l.9-2.7l.3,10.9l1.1-2.1l.4-7.2l.4-.2l.7,8.2l.1,.4l.1-7.1l1.3-.9l.1,9.2l1.1-1.6l.2-9.5l.6-.1l.4,9.6l.5,.5l.1-9.4l1.1-.5l.2,7.3l.8,.3l.2-6.9l.9,8.3l.3-8.8l.2-.4l.8,10.1l.3-8.5l.1,10.6l1.1-2.5l.4-10l.4,.9l.7,9.1l.5-.7l.4-8.7l.6,1.1l.4,8.6l.4-9.3v10.7l1.4-9.4l.2,10.6l.2-15.9l.2,14.5l1.2-9.2l.4,9.4l.8-8.2l.3,7.5l.5,.9l.2-10.6l.4,2.4l.4,6.7l.9,3.2l.7-11.2v0l.1,7.5l1.4,.5l.1-7.6l.5,7.5l.3-7.5l1.2,7l.2-7.5l.6-.8l.2,11.2l.4-10.6l.7,9.1l.6-8.3v8.9l.8-.2l.7-9.1l.5,8.4l.6-8l.2,7.9l.9-8.7v-1l.5,10l.6-9.2l.9,7.2l.4-5.3v8.7l.8-2.9l.5-7.9l.5,0l.5,7.4l.7,2.5v-8.7l1-1.6l.5,8.3l.9,.3l.2-8.3v11l.6-11l.6,7.6l.6-6.7l.4,7.9l.4-8.8l.7,.2l.6,7.5l.3,1.1l.7-8.5l1,7.2l.1-6.6v8l.3-7.8l1.4-3.3l.2,10.8l.4-9.7l.4,7.9l.9-10.1v11.9l1.1-1.7l.2-9.4l.1,10.3l.4-7.6l.9-.2l.5,8l.5-7.7l.1,8.7l.9-.3l.7-8.9l.3,9.7l.3-8.3l.6-.8l.6,7.4l1-.6l.1-5.7l.4,6.4l.3-11.5l1.1,3l.3,8.9l.1-7.3l.1,7.6l1.2-8.2l.3,9.6l.3-10.2l.6,11.7l.6-11.5l.5,9.2l.8-1.2l.1-6.3l.7,8.2l.3-11.9l.5,3.5l.3,8.8l.8-2.1l.2-7.4l1.2-1.5l.2,8.4l.2-8l.7,9.1l.4,1.4l.1-8.2l1,6.9l.6-6.4l.3-2.2l.7,9.7l.5-.7l.6-9.1l.5-.7l.1,8.8l.6-8.3l.7,6.8l.3-6.9l.8,7.6l.9,2.4l.1-9.6l.5,.6l.4,7.6l.6,0l.2-8.1l.9,9.8l.2-10.3l1.1,9l.2-8.3l.3,9.5l.6-8.4l.3,6.3l.2-10.2l1.1,3.3l.1,7.6l.6-.8l.2-7.1l1.3,7.7l.1-8.4l.6,7.4l.4-8.8l.3,9.5l.8-9l.2,.8l.1,8.6l1.1-.4l.6-7.1l.3-1.2l.7,8.7l.2-9.1l.5,7.2l.8-7.4l.2,7.5l.6-7.1l.2,6.6l.7,3l.8-8.7l.8-.3l.2,9.2l.6-.7l.1-8.3l.6,7.8l.4-8.5l1,7.9l.4-9.9l.1,1.5l.1,8.6l.9-8l.7,10.8l.5-3.3l.3-10.3l.5,10.7l.6-8.8l.5,2.1l.7,6.2l.4,1.5l.3-7.2l.4-.3l.8,8.1l.6-8.6l.2,5.4l.7-6.7l.3,8.2l.9,3.4l.3-10.2l.3,8.3l.3-8.4l1.4,7.3l.1-8.3l.2,10.3l.7-11.1l.3,12.3l.6-12.7l.6,10.8l.2-12.9l.9,12.2l.3-8.2l.5,8.3l.2-8.1l1-1.5l.5,9.1l.6,.4l.1-6.3l.6,5.1l.6-7.8l.4,2l.2,7l1.2-7.2l.1,9.3l.9-1.2l.2-12.4l.3,3.5l.8,6.9l.4,4.7l.2-14l.5,9.7l.7-9.1l.5,1.4l.6,8l.7,1l.5-10.6l.2,.3l.5,9.2l1,1.8l.3-9.9l.1,7.3l.7-7l.2,8.8l1-8.4l.3-.1l.2,6.8l.7-8.2l.6,9.4l.4-8.8l.3,8.2l.8-7.7l.7,10.2l.2-8.5l.5,7.2l1.2-8.8v10.4l.3-9.8l.2,8.2l.7-7.7l.6,7.6l.7-.9l.5-7.9l.9,7.1l.2-6.1v-.3l.6,6.9l.7,.5l.5-8.9l.3-.2l.7,11.7l.2-11.2l.8,8.6l.7,.4l.5-7.7l.8,5.4l.1-6.2l.4,8.1l.5-8.5l.4,7.1l.4-6.7l.5,7.9l.5-9.4l.7,9.4l.1-6.8l1.4-3.3l.2,11.4l.2-10.8l.1,10l1,.1l.5-8.1l.9,0l.1,6.6l.9-7.4l.3,9.3v0l.9-8.3l.3,1.1l.6,7.8l.3-8.7l.9,9v-11.3l.2,9.9l1.5,1l.1-10.2l.3,1.9l.1,9.2l1.5-10.2l.1,8.8l.5,.5l.7-8.3l.5-4.4l.2,13.3l.6-9.6l.2,7.6l.5-8.7v8.3l1.1-8.7l.9,9.8l.4-1.2l.4-9.1l.7,1.7l.5,8.1l.3,1.6l.2-10l.7-.5l.1,8.3l.9,.8l.8-9.7v.7l.8,8.3l.3,3l.2-11.9l1.3,1.2l.1,6.7l.9,1.4l.1-6.9l.4-.8l.9,7.2l.3-.5l.2-7.1l.7,8.4l.7-7.9l.1,8.8l.9-10.1l.2,9.3l.7-7.1l.3,9.8l.3-10.9l1,1.5l.6,5.4l.3-6.9l.6,11.4l.2-10.4l.6,6.6l.7,1.1l.3-10.2l.9,.1l.4,8.1v-7l.5,8.4l.9-8.2l.2,9.8l.6-1.8l.6-7l.3-.8l.5,6.7l.9,.7l.4-11l.2,11.3l.1-9.1l.9,1.9l.6,6l.4,1.7l.4-11.3l1.2,9.8l.3-6.4v-.2l.1,9.3l1.1-8.8l.4,7.4l.8-8.4v6.6l.8,2l.4-10.7l.9,.2l.3,11.6l.9-10.6l.1,9.2l.7,.9l.2-7.8l.3,7.8l.8-9.6l.5,9l.3-9.6l.5,1.8l.4,6.1l.7-.1l.2-9.1l1.2,1.9l.1,8.1l.4,.2v-8.8l1.5,.5l.4,6.2l.3-4.6l.2,9l.9-11.5l.2,8.1l.5-5.5l.9,8.3v-1.8l.6-10l.5-.3l.6,10.2l.5-.6l.2-8.8l.9,1.7l.1,9.4l.7-8.4l.1,6.7l1-8.1l.5,9.1l.5,.8v-8.9l.9-.7l.4,9.3l1-.2l.1-8.9l.6-1.2l.4,10.2l.5-10.5l.5,10.7l1.2-10.6l.2,10.3l.9-7.7l.1,8.1l.2-8.7l.6,9.9l.3-1.3l.7-9.7l.2,10.6l.7-10.3l.7,10.2l.6-11l.2,9.2v-7.7l.8-1.6l.6,11.4l.7-10.4l.5,7.1l.8,2.2v-10.7l1,9.7l.2-7.9l.5,7.7l.5-7.7l.3-1l.9,8.4v-8.4v7.4l1.3-8.3l.2,8.9l1.1-8.9l.2,8.9l.7,.7l.2-7.9l.6-.1l.3,6.5l.6-9.2l.7,10.7l.3-8.8l.5,9.4l.4,2.2l.1-9.6l1.6,6.9v-8.9l.2,7.5l.4-8l1.2,11.2v-10.1l.8,10.2l.3-9.7l.4,6.8l.5-8.1l.9,8.7l.2-7l.6-1.5l.1,8.3l1.2-8.5l.1,8.1l.7,3l.2-11l.5-.5l.6,8.1l.7,.1l.4-6.5l.4-2.3l.2,9.7l.9-8l.2,9.3l.6-9.8l.6,7.1l.5-7.8l.4,8.5l.7-8l.6,10.6l.6-10.7l.3,9.6l.4-9.2l.2,8.4l.6,.7l.4-9.1l.8,8.6l.4-8.2l.4,8.2l.2-7.1l1.2-1.4l.2,6.9l.6-6.2l.2,7.6l.9-.1l.4-9l.8,10.4l.2-7.7l.3-1.5l.6,8.8l.5-10.6l.2,11.3l1.5-10.1v7.9l.4,.8l.3-6.2l.9-2.2l.3,9.2l.4,1.1l.6-11l.9,2.6l.3,6.4l.4-8.4l.6,8.7l.1,.1l.7-7.1l.5,8.2l.6-10.1l1,8.7l.1-8.5l.2,1.5l.6,7.1l.6-1.6l.2-5.7l.9,6.8l.3-8.1l.7,8.8l.4-8.2l.6,7.2l.6-7.2l.7,9.1l.2-9.4l.7,7.6l.3-7.1l.4,8.1l.4-5.9l.6,6.1l.2-9l.7,8.8l.3-9.2l.7,8.7l.6-7.7l.5-.2l.1,9l.8-8.4l.2,7l1.1-6.7l.4,8.2l.5-9.1l.4,11.4l.8-12.1v8.2l.4,1.8l.9-10.5l.7,11l.2-9.9l.2,.3l1,6.9l.7,.3l.3-10.2v3.2l.5,8l1.1,.2l.2-9.2l.2-.9l.5,8.9l.5,1.8l.4-8.9l1.3,8.2l.1-8.7l.6,7.1v-5.6l.8,8l.1-10.7l1.2,10.7l.1-10.5l.4-.5l.2,9.8l.8-8.6l1,7.7l.4-8.6l.2,9.3l.6,1.1l.1-7.1l1.1-1.6l.2,6.7l.6,1.2l.1-9l.7,1.3l.1,7.1l1-7.5l.1,8.8l1.2-8l.6,8.4l.2-.3l.6-8.8l.3,7.9l.1-9.7l1,1.2l.7,9.1l.5-7.6l.5,8.8l.2-2.3l.9-6.1l.1-2.6l.1,11.2l1.8-2.9v-6.7l.8,12.6l.2-13.7l.2,13.1l.2-12.9l1.3,7v-6.4l.9-1.2l.1,8.1l.4-6.5v8l1.1-7.9l.3,6.8l.6,2.1l.6-9.9l.4,.3l.1,7.4l.8-8.1l.6,8.6l.4-7.4l.4,7.9l.9,1.3l.5-9l.6,7.2l.5-8.5l.8-.4l.2,10.8l.4-2l.5-7.2l.6,7.7l.2-7.8l.4-.1l.1,9.3l1.4-1.7l.5-7.3l.8,7.7l.1-8.3l.3,7.2v-7.5l1.3,7.6l.1-8.3l.5,.9l.6,8.8l.6,1.5l.5-10.1l.6,7.8l.3-10.9l.5,1.8l.7,10.3l.7-12l.2,11.3l.3-8.3l.7,7.9l.6-.5l.2-8.7l.7,1.9l.2,7.2l.7-.8l.2-8.7l1.1,2.3v7.4l.6-.4l.5-10.1l1,2.1l.1,9.2l.5-.4l.5-9.3l.6,8.6l.5-7l.6-.4l.5,6.8l.2,.5l.6-9.3l.4,11l.8-9.2l.5-.4l.4,8.1l.5,.7l.5-8.4l.5-.2l.3,9.1l.6-9.5l.3,8.4l.6-.3l.6-7.2l.6,8.5l.2-9.8l1.1,10l.1-10l.7,10.3l.2-9.6l.6,.9l.4,6.6l1.1,.3l.1-7.4l.4,8.2l.2-6.9l1.3,7.6v-10.4l.4,.6l.4,10.3l1.2-9.9l.1,9.3l.8-1.6l.4-7.3l.6,.8l.3,7.1l.7,1l.2-8.8l.5-.6l.3,8.9l.8-9.4l.5,7.3l.7,1.3l.2-9.3l.4,11.3l.1-10.3l.9,.1l.8,7.7l.2-.4l.3-6.5l.6,.7l.5,6.8l.8-8v7.5l.7,.7l.1-7.6l.8-.7l.9,10.2l.4-3.3l.5-6.5l.7-.6l.3,7l.4-6.9l.2,7.6l1.2-8.9l.2,10l.6-9.3l.2,8.8l.4-8.1l.2,9.2l1.2-8.6l.4,6.9l.6-8.3l.2,9.3l.9-6.2l.3,5.3l.2,.7l.4-7.9l1.4,8.6l.2-8.2l.4,.5l.2,9.1l.6-12.1l.6,9.8l.4-.1l.5-7.8l.5,.3l.8,8l.6-.7l.2-6.7l.7,7.4l.3-8.2l.2,8.1l.1-8.8l1.7,8.8l.1-8.5l.1,.9l.3,8.4l.7-9.8l.5,11.8l.6-1.3l.3-10.3l.8-.5l.2,9.6l1.2-9.5l.2,10.2l.3-10.1l.5,7.5l1,4.8l.1-10.9l.3,7.9l.7-9.6l.3,8.7l.1-8.2l1.3-.8l.4,9.2l.2,0l.8-8.8l1.2,.3v8.8l.5-9.4l.3,8.5l.2,.3l1-6.8l.6,6.6l.4-9.1l.2,2.2l.6,7.1l1-8l.2,8.8l.3,.7l.2-9.8l.5,1l1,8.5l.4-10.4l.1,11.6l1.3-9.9v8.1l.3-7.6l.9,7.4v1.6l.3-8.4l.9,6.2l.7-8.7l.3,.4l.2,9.4l.7-10.3l.5,10l.7-11.3l.7,10.8l.1,2.4l.3-9.1l1-1.1l.3,9l.9-9.5l.2,9.4l.4-8.6l.3,6.5l1.2-6.2l.3,6.2l.7,2l.1-8.5l.8-.1l.1,7.1l.6-8.6l.7,8.7l.3-7.9l.6,7.4l.5-8.2l.4,8.7l.3-7.8l.8,8.8l.4-.7l.6-9.9l.2,2.6l.7,9.8l1-11.3l.1,8.7l.7,2.3v-10.9l.8,10.1l.4-7.5l.5-1.5l.4,7.8l.6-.1l.5-6.7l.8,7.6l.2-8.6l.7,8.2l.4-8.4l.1,.8l.6,7.3l.6,.9l.2-8l.6-1.6l.5,8.5l1.1-1v-7.1l.8,1.1l.4,7.5l.4,.2l.6-8.4l.4-.6v7.2l.8-5.9l.7,6.7l.4-6.5l.7,7l.6-6.3l.1,7.5l.8,1.3l.7-10l.1,.6l.7,7.6l1-7.7l.1,7.9l.9,2.7l.1-9.9l.4,5.4l.2-6.6l.5,8l.3-8.1l1,1.4l.3,6.1l.6-6.9l.5,7.4l.7,.5l.3-9.2l.5,9l.5-8.4l.9,.6l.4,9.4l.1,.6l.1-11.1l.8,10.3l.9-10l.4,.4l.7,8.8l.2,.1l.4-8.7l.6-.6l.7,7.9l.4-8.3l.1,7.6l1-.1l.1-8.6l1.1,9.7l.3-8.3l.6,7.9v-8.5l1.4-1v9.4l.6-.5l.3-7.8l.4,7.9v-6.2l1-3l.7,12.9l.3-1.2l.5-10.7l.3,2.6l.6,6.9l.5-1.3l.5-6.4l.7,8.3l.1-13.3l.6,4.3l.9,9l.6-9.1l.3,8.6l.3-.2l.7-8.3l1.2,9.4v-9.4l.2,9.3l.3-8.9l1.1-.1l.2,9.7l.5-9.1l.6,7.5l.9-8.5l.1,9.7l.5-1.3l.2-7.3l.7,.4l.1,7.2l.8-.1l.6-7.7l.2,8.7l.9-9l.6,9.1l.4-9.5l.3,6.8l.5-6l.9-.4l.3,8.1l.3-8.6l.5,7.8l.4-.6l.8-5.9l.3,.8l.1,5.7l1.3-10.6l.1,11.4l1.1,0l.1-8.9l.2,9.3l.4-7.9l1.1-1.1l.1,9.5l.4-2.9l.2-8.1l1.1,1.5l.6,9.6l.2-1.6l.4-6.4l.6,7.3l.3-10.4l.6,8l.9-6.1l.6-2.7l.2,8.7l.3-7l.4,12.3l1-10.9l.4,7.6l.7-9.8l.1,9.3l.5-9.9l.3,10.1l.9-1.3l.3-6.8l.5,7.2l.4-7.4l.5,.8l.6,8.3l.8,1.1l.5-11.4l.3,9.9l.5-7.9l.4,7.9l.7-6l.7-3.4v8.5l.8,2.4l.4-8.4l.3,6.9l.1-9.6l1.1,1.7l.4,8.4l1-8.6l.3,6.5l.4,1.8l.2-8.1l.4,.1l.5,9l1.1-.8l.4-8.7l.3-.6l.1,9.1l1.1-.8l.4-6.6l.4-2.5l.1,8.9l1.3,1l.1-9l.8-.1v9l.5-7.9l.5,7.1l1-8.3l.4,9.2v-.1l.5-8.2l.8,8.2l.1-9l1.4,10.3l.1-10.9l.3,8.5l.1-7.4l1.3,7.8l.3-8.9l.3,10.6l.6-10.3l.3,7.9l.1-8.4l1.3,1.8l.3,7.7l.2-8.7l.7,10l1.2-9.5l.1,7l.4-.1l.4-8.6l.6,9.5l.3-8l.5,9.6l.1-10.6l.8,9.3l.8-9l.6,8.4l.2-8.2l.5,8l.4-8.6l1,9.9l.4-8l.3,6.1l.3-6.7l.4-2.1l.8,10.2l.6-8.6l.1,9.5l.7-2.5l.5-9.9l.3,3.6l.2,6.1l1-6.4l.4,9.8l.5-3.4l.6-5.5l1.1,7.9l.1-9.4l.2,.5v9.5l1.5-1.6l.1-8.2l.5,8.7l.5-8.4l.3-.9l.2,10.1l1-1.2l.2-8.1l.9,11.5l.7-11.2v8.4l.4-8l.7-1.5l.8,10l.3-10.3l.3,8.2l1-7.6l.3,7.3l.8-7.2l.1,7.6l.3,.9l.7-8.7l.3,9.1l.6-8.2l.9-1.4l.3,11.4l.4-.7l.1-9.4l1.4,.2l.2,7.6l.3,1.1l.4-8.5l.4-.2l.8,8.1l.4,1.1l.5-8.3l.5,7.2l.2-9.4l.9,10.4l.6-8.8l.3-1.3l.6,9.7l.6-1l.6-7.5l.7-1l.2,11l.4-10.9l.2,9.1l.5-6.7l.9,11.6l.4-14.7l.7,9.2l.8-6.2v6.9l.6-8.1l.5,8.6l.4,.1v-9.2l1.2,7.7l.2-7.2l.6,.1l.4,7.4l.4,.6l.1-9.4l1.5,.2l.2,11.4l.7-10.6l.3,8.7l.7-7.8l.3,7.2l.9-.3l.1-8.3l.2-.8l.9,9.4l.2-9.4l.8,8v-8.2l.5,10.7l.7-10.1l.3,8.3l1.2-1.3l.1-6.3l.3,7.3l.3-6.7l.9-1.4l.1,9.5l1-.8l.3-9.6l.5,2.7l.2,6.3l.6-7l.6,6.9l1.1,1l.3-8.2l.2,8.8l.6-11l.3,14.8l.7-12.7l.2-1.3l.3,9.3l.8-6.3l.7,7.6l.4-8.3l.1,6.5l1.2-7.5l.5,8.6l.4-.1l.3-9.1l.3,7.7l.2-5.4l1-1.1l.3,9.5l.7-.8l.6-10l.4-.1l.7,7.9l.5,.5l.5-8.7l.7-.2v7.9l1-5.5l.4,5.9l.3-7.5l.5,8.2l.3-8l.9,7.1l.6,0l.1-7.7l.8,9.9l.1-11.9l.6,2.8l.4,9.2l.9-.8l.3-8.5l.9-1.1l.3,12.6l.5-1.7l.5-9.1l.3,10.2l.3-11.6l.8,7.9l.2-6.3l.6-.5l.6,7.2l.3-.3l.7-9.9l.5,10.4l.3-8.5l.8,.6l.3,7.9l.6,3.5l.1-10.3l1,7.2l.3-8.4l.4,.6l.1,6.8l1.5-7.6l.2,7.3l.9,6.5l.1-14.8l.1,.1l.7,8.6l.8-7.7l.2,8.6l.5-12l.2,12.3l.8,1.9l.1-11l1,0l.2,10.7l.7-8.2l.5,7l.5-1.9l.7-6.5l.4,.3l.7,8.3l.4-10.1l.1,9.2l1-7.8l.3,9.1l.8-2.6l.2-6.3l.4-.2l.7,8.4l.1-.4l.1-7.9l1-2.4l.7,10.2l.6-8l.5,6.9l.7,3.6l.2-12.2l.8,2.2l.2,6.1l.4-8.1l.4,10l.8-2.5l.6-6.1l.4,6.7l.6-8l.6,8.1l.2-8.2l.6,8.5l.3-6.7l.9,8.7l.2-11.5l.6,3.7l.5,6.4l.7-7.8l.3,11.4l.4-9.2l.4,7.2l.8-9.7l.5,9.8l.1-2.3l.1-6l.8,6.8l.5-9.1l.8,11.4l.7-11.1l.4,9.7l.6-7.8l.8,7.4l.1-8l.3-1.5l.8,7.5l.7-6.4l.1,7.5l.8-8.5l.3,9.1l.8-1l.2-7.6l.5,8.9v-8.9l1,8.1l.6-6.5l.3-3.6l.3,13.2l.6-.5l.6-10.1l.6,8.1l.1-7l.9-.2l.4,6.9l.3-.3l.5-7.8l.5-.1l.8,8.8l.4-7.9l.1,8.3l.9-8.8l.5,7.8l.4-8l.6,10.6l.7-1.4l.2-8.1l.8,5.8l.3-5.9l.2,.4l.6,7.5l.8-8.5l.2,5.8l.5-6l.2,9l1-10.7l.2,10.1l.7-8.8l.6,8.1l.5-7.6l.2,8.9l.5-.3l.6-10.1l1.2-1.2l.1,12.2l.1-1.8l.2-9.8l1,3.3l.3,9.3l.5-3.8l.1-6.6l1,8.2l.8-7.4l.4-.5l.2,9.1l1.2-9.1l.2,10.7l.2-2.8l.1-8l1-1.5l.6,9.1l.2-8.9l.1,8.4l1.2,.1l.4-6.6l.4,7.8l.4-8.1l.7-1.4l.4,11.6l.6-11.1l.1,8.6l.9-8.8l.4,6.9l.6-8.1l.7,10.6l.2-9.2l.7,12.6l1-4.1l.2-9.3l.2,11l.2-10l.6-.3l.6,11.1l1.1-11.7l.2,9.6l.3,1.6l.6-9.8l1.1-1.3l.1,9.2l.4,1.3l.2-10.3l.6,1.2l.5,6.8l.4-8.5v9.1l1.4-8.3l.3,8.7l.3-1.5l.3-9l.6,10.1l.8-7.7l.5,8.6l.3-9.8l.6,.4l.5,7.6l.7,.7l.4-9.4l.4,.9l.3,8.3l1-10.4l.4,8.5l.2,4.1l.8-11.2l.3,9.3l.5-8l.5-.4v7.8l1.3-8.8l.3,8.9l.6-7.8l.6,7.4l.3,1.5l.3-8.4l.9-.6l.1,8.8l1,.9l.2-11.8l.9,2l.3,9.2l.3-.8l.3-7.7l1,7.5l.4-7.4l.3,8.1l.1-8.9l1.3,9.9v-10.3l.3,8.3l.6-7.5l.5,7.1l.7-6.1l.4,7.8l.5-8.6l.7,7.3l.5-6.3l.1-.4l.8,6.3l.3-8.6l.5,10.5l.5-8.7l.5,6.4l.5,1.9l.3-8.5l.7,7.9l.7-6.8l.7-1.3l.4,8.9l.3-1l.4-7.2l1.2,8.8l.1-12.4l.6,2.2l.5,10.1l.1-9.9l.7,8l.6,1.9l.4-9l.6,.7l.4,5.8l.3,.7l.9-7.8l.1,8.8l.5-9.4l1,.2l.3,8.5l.3-9l.2,8l.7-6.6l.4,7.4l1.2,.2l.2-7.6l.3-.2l.5,9l.4-.7l.1-7.6l1.6-.6l.2,7.7l.1,1.4l.3-11.6l1.1,2l.2,8.5l.5-7.2v6.4l1.8-6.8v9.4l.2-9.4l.7,8.3l.9-.9l.2-6.2l.9-2.2v8.3l.4,.9l.3-9l.5,1.7l.1,6.5l1.4-9.8l.1,8.4l.3,1.7l.5-8.7l.9,8.5l.4-8.1l.7-1.1l.3,8l.2-6.5l.1,7.3l1,.7l.7-9.6l.5-.8l.4,9.9l.7,3.9l.4-12.2l.4-.1l.6,9l.4,.9l.6-9.5l.5-.5l.4,8.9l.8-8.4l.2,8.3l.8-.7l.1-8.8l.8,7.9l.3-9.2l.6,3.1l.6,7.4l.3-6.6l.1,9.4l1.3-2.9l.4-6.9v8.6l1-10.5l.4-.3l.2,8.9l.4-.8l.8-7.1l1,8.1l.1-8.6l.5,.2v9.1l1-12.4l.3,10.7l.5,.8l.5-6.7l.5-2.1l.3,10.3l.8-8.7l.5,8.4l.4,.6l.5-9.9l.4,7.3l.6-7.6l.5,.6l.5,7.6l.7-7.1l.2,6.5l.6,.9l.5-8.2l.7,.3l.3,5.7l1.3,1.8v-7.1l.2-1.9l.8,10.6l.6-10l.2,9.2l.4-10.6l.6,11.5l.7-8.7l.4,7.7l.3,.3l.3-8.4l.8,8.7l.6-9.6l.4,1.4v7.5l1.3-6.3l.2,6.4l.3-7.1l.2,7.8l1-9.5l.1,9.8l.6,0l.8-7.8l.7-2l.1,9l.6-7.3l.7,7.8l.1-8.1l.6,8.3l.5-8.8l.3,8.7l1-8.4l.4,8.2l.2,.7l.2-7l1.3-2.8l.5,9.9l.7-.2l.3-10.1v9.9l.2-9.4l1,2.3l.6,8.9l1-2.6l.1-8.1l.3,.5l.1,7.8l1.2-9.3l.4,9.1l.4,1.1l.2-8.9l1.2,.1l.3,8.3l.3-8.4l.6,9.3l.1,.5l.4-11.6l.6,2.3v8.5l1-9.9l.2,9.2l1.4-8.3l.3,6.3l.2-6.4l.7,7.4l.4-1.2l.4-7.3l.8,.6l.4,8.7l.8-8l.1,9.4l.5-.6l.3-8.7l.7,8.8l.2-9.7l1.1,.5l.5,7.2l.2-7.2l.5,8.8l.7-10.9l.3,9.2l.6-6.7l.1,7.7l1-8.3l.6,7.3l.6-1.1l.4-7.5l.2,8.9l.7-10.5l.4,11.2l.5-7.9l.8-.9l.1,8.3l1.1,1l.1-7.9l.3,10.2l.2-9.6l1.1,7.6l.4-9.2l.3,.1l.2,7.7l1.4-7.8l.2,8.6l.8-8.1l.1,8.8l.1-2.1l.4-8.8l1.2,.6v11.4l.7-10.2l.6,7.1l.5-7l.2,11l.6-11.2l.5,9.9l.9-.5l.3-9.5l.5-2.3l.4,11.1l.2,1.7l.4-10.6l1.3,.7l.3,8.5l.2-9.1l.2,10l1.2-9.7l.2,6.8l.4-7.4l.5,8.4l1.1-7.8l.2,8.8l.5-.7l.3-8.6l.4-.6l.4,7.7l.4-7.6l.6,8.2l1.2,.8l.2-7.4l.4-.9l.4,8.5l.6-1.5l.4-7.6l.7,.7l.4,9.3l.2-3.6l.2-6.6l.9-.6l.2,10l.8-.4l.4-8l1.2-.5v7.8l.5-8.2l.7,8l.9-7l.1,7.4l.2-9.4l.2,10l.7,.3l.2-10.5l.9,10.3v-8l1,6.6l.5-6.1l.6,8.2l.5-9.8l.9,8.3l.2-8.4l.7,2.2l.3,7.5l.3-9.7l.3,9l.5,.5l.2-7.1l1.6,6.2v-8.8l.7,.6l.4,9.7l.3,.9l.6-10.7l.2-2.1l.9,10.7l.2,1.1l.5-9l.7-1.1l.1,9.4l1-9.6l.2,10.4l1-1.7l.3-8.9l.8,10.2l.2-8.7l.3-3.5l.5,13.2l.8,.2l.4-10.1l.3,7.2l.2-7.8l.6,1.2l.1,9.1l1.1,.2l.1-10.7l1.4,.3l.1,7.4l.6,1.7l.6-8.3l.2,.3l.1,7l.9-.7l.3-6.5l.6,7.4l.2-7.2l.7-.4l.3,7.3l.8-6.7l.3,6.6l.7,.7l.7-8.1l.4,.9l.1,8l.8,.1l.8-8l.2-2.5l.6,9.6l.9,.9l.3-7.4l.7,6.6l.3-8.8l.5,10.6l.1-9.5l.7,6.5l.6-6.9l.8,1.2l.4,8.7l.2-9.4l.2,8.6l.8-9.1l.2,7.8l.6,1.7l.1-9.1l1.1,.4l.8,8.8l.2-10.4l.1,8.2l.9-7.4l.5,7.7l.9-6.3l.1,6.5l.8,.4l.1-7.7l.5,8.5l.6-8.4l1.1-1.4l.1,10.4l.2,1.3l.1-13.8l1.2,3.3l.5,6.8l.6-8.1l.3,9.5l.6-1.4l.2-6.8l.4-.2l.8,8.1l.8,0l.4-8.1l.2,8.3v-9l1.1,.5l.7,8v-.2l.7-8.5l.7,8.6l.4-8.3l.4,9.6l.5-11.5l.3,2.8l.4,9.1l.7-10.5l.8,11.9l.7-2.9l.2-7.1l.2,7.7l.3-6.5l1.2-1l.1,7.4l.6-.2l.1-6.3l.9,7.8l.4-9.3l.4,9.7l1-11l.2,.2l.3,9.3l.7-1.3v-7.7l1,8l.2-6.8l1,0l.2,6.7l.9-1.1l.1-5.8l.9-.4l.1,9.9l1-11.9l.4,11.4l.1-10.7l.4,9.3l.5-7.5l.7,12.1l.4-5.5l.1-7.7l.9-1.2l.5,12.2l.4-1.7l.4-10.3l.7,1.9l.9,7.2l.1,.2l.5-6.9l1-1.5l.2,10.4l.9,0l.3-9.8l.6,7.3l.2-8l.3,8.1l.2-9l1,.1l.1,10.5l.7-8.3l.7,6.8l.3,.6l.1-8.4l1.4,8.5v-8.9l1.1,9.6l.1-8.8l.5-.2l.2,8.9l1.1-.9l.2-7.5l.5,8.7l.5-8.5l.3,.6l.5,9.3l.6-1.1l.7-10l.8,2.3l.1,4.7l.4,2.1l.1-10.7l1.4,9.3l.1-7.9l1-.9l.1,7.7l.3-6.9l.3,9.3l.6-.7l.1-7.2l1.2,8.2l.4-9.2l.5,.6l.2,6.1l.7-6.5l.4,8.3l1.2,1.1l.1-9l.6-2.3l.5,12.3l.1,.3l.7-10l.4-1.1l.8,8.1v-7.3l.2,6.7l1,.4l.6-6.6l.6-2.4l.2,9.8l.6-8.8l.6,7.3l.9,2.5l.2-9.7l.6,9.5l.2-9.3l.7,.1l.2,7.1l.8,.5l.2-7.5l.6,8.4l.2-9.6l.6,.3l.1,9.2l1.2-7.7l.3,9.9l.7-11.9l.1,10.1l.8-9.4l.4,10.4l.8-9l.3,7.3l.5-7.3l.8,7.6l.2,.5l.1-9.8l.9,0l.4,8.4l.5-6.7l.4,7.3l1-6.9l.3,7.4l.6-.9l.4-7.9l.5,6.8l.2-7.2l.5-.1l.1,9.3l1.1-7.8l.4,9.3l.9-8.8l.3,8.4l.3-9.9l.7,8.7l.2,2l.5-10.7l.8,10.1l.5-9.9l.3,1.2l.1,5.9l1.3,2.7l.4-8.5l.5,6.9l.4-7.5l.6,8.4l.4-8.4l.5-1.3l.5,8.2l.4,2.1l.4-11.4l.7,10.6l.2-10.6l1,11.8l.1-10.2l1,7.9l.2-7.7l.5,.7l.1,7l1.4,.7l.2-9.4l.2,.6l.4,10l1-2.3l.2-9.1l.4,2l.2,7.6l.7,.9l.1-7.2l.9,.4l.1,6.5l.9-8.9l.4,9.1l.8-7.6l.1,7.6l1.2,.4l.1-8.6l1,8.7l.1-8.2l.8,6.5l.1-6.6l.9,9.1l.3-9.6l.4,7.9l.2-7.9l1,9.9l.1-11.1l.4-.4l.9,10.8l.8-2.2l.3-7.9l.5,8.9v-10l.8,.4l.6,10.1l.1-8.4l.6,7.2l.5,.3l.7-7l1-1.5l.1,7.9l.7,1.8l.3-11l.5,9.6l.6-8.3v10.1l.7-10l.6,8.8l.5-8.2l.6-.6l.3,9.2l.3,2.5l.6-11.3l.6,9.9v-9.2l1.7-2.1l.1,9.8l.4,1.1l.1-8.8l.9-1.1v9.1l1.1-8l.2,7.6l.6,1.8l.2-10.3l.9-.4l.1,9l.8-8.4l.7,8.2v-9.1l.1,9.4l1.2-8.3l.7,7.9l.2-7.4l.1,6.8l1.4,1.4l.1-8.2l.5,7.8l.7-8.4l.4,.8l.4,7.5l.4-8.4l.7,7.5l.6,1.6l.4-8.3l.6,8l.5-9.6l.1,.8l.9,8.3l.2-7.9l.3,9.4l.5-.8l.3-9.6l1,9.3l.7-7.5l.6,8.2l.3-9.2l.7,8.2l.3-8.2l.5,7l.4-7.5l.9,7.3l.1-7.4l.3,8.2l.5-8.1l.6,.8l.4,7.3l.8-.4l.4-8.3l.6,8.9l.4-11.7l.6,4.6l.6,7.6l.4-9.4l.4,9.1l.4-.1l.4-7.4l.7-1.8l.3,9.3l.5-8.5l.1,7l1-9.1l.2,11.5l.7,.1l.6-9.5l.5,1.2l.3,10.3l.5-2.9l.6-7.3l.5-1.3l.2,8.4l1.5,2.1l.2-8.5l.7,7.3l.1-9.6l.3,8l.5-6.1l.6,8.4l.6-10.1l.5,8.9l.4-7.5l.4,7.3l.6-7.8l1-.7l.2,7.6l.9,.4l.1-8.7l.7-.3l.1,11.8l.4-10.2l.3,7l.7-6.8l.1,6.3l1.1-6l.6,6.3l.4-7.2l.3,9.4l.8-.9l.5-10.9l.1,9.8l.8-7.2l.7-.9l.1,9.7l.4-1.5l.4-7l.7-.2l.4,8.3l.6-8.3l.6,8l.9,.5l.3-8.2l.3,.5l.3,9l.6-2.7l.8-7.2l.1,0l.5,7.2l1.1,5.6l.2-14.2l.7,8.7l.3-8.6l.3,.9l.6,8.3l.9-8.5v9l.7-1.8l.5-8l.7,.9l.1,7.8l.9-.5l.1-7.2l.5,12.5l.9-12.5l.6,7.8v-6.9l.5,9.1l.6-9.5l.4,0l.7,6.3l.8,2.4l.4-9.6l.5-.2l.1,7.9l.7,1.5l.7-7.7l.4,6l.2-6.7l1,9.6l.4-11.1l.5,.9l.2,8.7l.3-.1l.2-9.7l1,8.4l.8-8.5l.4,2.3l.5,8l.9-8.8l.1,8.1l.4,1l.1-11.2l1,1.3l.5,7.9l.3-6.2l.4,7.4l.5-7l.6,8.7l.5-1.7l.5-7.5l.4-.6l.1,8.8l1.2-9.6l.4,11.5l.2-.9l.9-10.9l.9,1.7l.1,7.8l.2-.9l.7-9.4l.6-.1l.4,11.6l.4-.3l.5-9.8l.7,1.2l.4,6.6l.6,1.2l.5-7.5l.4,8.2l.1-7.4l.8-1.4l.4,8.6l.4-10l.1,9.1l1.4,.7l.3-9.8l.4,12.5l.6-10.8l.5,6.7l.1-7.5l.8,8.7l.3-9.1l1.1-1.2l.1,9l1,.2l.2-9.8l.5,1.3l.5,9.9l.7-8.9l.3,7.8l.2-8.7l.3,13.3l1.2-13.3l.1,10.3l.3-8.9l.5,7.8l1.2-6.9l.1,7.2l1-8.7l.1,10.5l.4-3l.5-7.2l.4-1.7l.6,9.3l.8,2.3l.4-10.3l.3,0l.3,8.3l.4,.5l.2-7.5l1,7.5l.2-8.4l.7,.2l.5,7.2l.4-6.5l.3,8.5l1-9.8l.3,8.1l.6,.6l.4-7.8l.6-.8l.4,10l1.1-9.5l.2,7l.4,.8l.3-7.4l.6,8l.5-8.5l.5-.6l.4,7.6l.9,2.6l.1-10.1l.4-.9l1,7.4l.6-5.9l.1,6.7l.5,1.9l.2-8.7l.9,5.7l.3-7.5l.6,2.1l.6,7.8l.4-.8l.7-8.4l.5,.3l.2,8.5l.8,.5l.3-7.9l.7,9.2l.5-10.5l.2,7.3l.5-7.1l.6,9.6l.5-11.5l1,11.4l.1-10.2l.5,0l.3,8.6l.4-7.8l.6,11l.4-3.4l.2-9.6l.9,13.1l.1-9.4l1.2,.4l.6,7.6l.3-10.2l.3,10.7l.7-.5l.5-8.6l.2,10.7l.4-12.7l1.1,10.4l.1-9.4l.5,1.3l.2,7.2l1.6-7.3l.1,7.3v-9.2l.8,8.8l.8,.3l.3-7.8l.3,9.6l.1-13.8l.7,13.7l.4-12.3l1,9.5l.2-7.6l.6,8.4l.4-11.3l.5,11.7l.2-9.1l1.1,.6v9.1l.7-9.6l.1,8.7l.9,1.7l.8-8.2l.3,7.3l.4-7.5l.7-1.2l.1,9.5l.8-1.5l.3-7.9l1.3,1v6.9l.4-.7l.8-6.5l.8,10.9l.2-13.1l.3,10l.2-8l1,7l.1-9.5l1,9.8l.4-7l.2,.1l.3,8.7l.5-2.5l.9-6l.6-2.8l.1,11.1l.7-1.4l.7-6.8l.4-2.8l.1,9l.9-7l.1,10.8l.8-12.3l.6,9.7l.6-7.1l.4,7.7l.2-10.5l.1,8.2l1-5.8l.2,8.5l1.3-9.3l.2,8.6l.4-7.7l.6,7.7l.6-10.3l.3,10.7l.3-9.7l.3,7.1l.8-5.7l.8,7.1l.4,1.5l.1-11.4l.6,1.3l.2,9.9l1.5-.8l.2-8.9l.9,9.2l.1-7.8v-.4l.3,7.4l.9-6.8l.4,5.8l.6,2.6l.4-9.8l.5,7.9l.7-7.2l.9-1l.1,11.6l.7-11.2l.4,8.3l.5-.8l.3-6.4l.5,6.3l.7-9l1,10.7v-10.3l.7,8.8l.2-7.8l.4,.1l.6,7.7l.8-7.3v7.2l.6-7.3l.2,8.1l1,.2l.2-10.1l.8,1.9l.3,7.3l.5,.8l.5-8.2l.4-2.7l.4,11.9l.8-.5l.3-9l.4,7.1l.5-7.1l.8-.6v9l1.6-7.8v7.5l.2-6.1l.1,8.4l1-1l.8-9.7l.7,1.6l.1,9.4l.7-10.5l.5,7.4l.2-7.2l.1,7.9l.8-7.5l.3,8.2l.7-2.3l.7-7l.2-.3l.5,8.1l.7-7.5l.4,7l.5,1.4l.4-7.2l.6,6.7l.1-7l1,.5l.8,6.2l.2-7.7l.1,8.4l1.1-8.5l.2,7.4l.5,.1l.5-7.1l.6,6.8l.6-6l.8-1.7l.1,7.8l.6,.4l.2-8.2l.6,.1l.4,8.3l1.3-10.2l.2,12.4l.3-2.6v-6.6l.9,6.9l.4-7.1l.8-.2l.5,8l.6,.4l.5-8.7l.2,1.4l.4,7.7l.8-.6l.2-8.2l.4,1l.2,7.8l.8-9.5l.8,10.2l.2-.9l.9-12.9l.3,4.6l.6,7.9l.6,.7l.2-9.5l1.1,9.4l.2-9.9l.3,8.8l.2-8l.9,6.8l.5-9l.8,2.4l.1,6.7l.7-8.5l.2,8.4l.5-.3l.2-6.8l1,.5l.5,6.9l.5,.1l.5-7.1l.3,6.8l.9-8.4l.1,11.7l.1-11.4l1.4,1.9l.1,5.9l.7,3.1l.5-9.3l.2-1.5l.6,8.6l.8-10.3l.4,12.2l.2,1.5l.4-11.7l.6,.8l.3,10.2l.8-2.2l.4-7.7l1.2,6.2v-7.7l.5,11.1l.2-12.3l.9,1.6l.2,7.1l1-8.2l.1,10.6l.8-9.7l.4,8.7l.5-.7l.2-6.9l1.1-3.6v11.6l.3-7.5l.4,6.1l1.2,1.8l.1-7.7l.9,8l.4-7.8l.3,6.5l.1-7.8l1.5-1.1l.1,13.7l.1-13.1l.9,8.8l.2-6.8l.8,7.4l.1-.7l.1-7.9l.9,1.2l.6,9.5l.4-11l.6,7.9l.5,1l.4-8.9l.6,.1l.2,7.6l.6-7.8l.6,9.3l.7-7.9l.3,6.5l.9-7.7l.1,8.2l.9-8.5l.2,10.4l.4-3.6l.6-7.9l.7,10.7v-7.9l.8-1.2l.3,8.9l.7,2l.3-10.8l.8-1.1v10.6l1.3-9.1l.3,8.5l.5-10.2l.5,9.2l.2-7l.6,8.1l.4-7.7l.3,7.3l.8,6.7l.7-15.8l.4,10.3v-9.3l.8,7.4l.8-9.3l.3,8.8l.8-6.4l.3,6.3l.7-7.5l.9,9.4l.1-8.6l.7,7.5l.2-8.8l.2,9.2l.3-9.8l1.3,8.6l.3-8.8l.7,0l.2,11.9l.1-12.6l.7,8.3l.8,2.9l.4-10.5l.3,1.6l.7,9.2l.9-10.2l.2,8.8l.2-7.5l.2,6.3l1.2-5.3l.2,6.8l.3-7.5l.7,6.5l.8-8l.2,8.3l.5-8.1l.1,8.9l.9,.1l.4-6.7l.5,6.9l.4-9.2l.6,8.5l.2-9.3l1.4,1l.1,7.1l.9-8.1l.2,8.7l.4,1.8l.5-10.7l.7,9.1v-6.6l1.3,6.4l.1-10.6l.3,3.4l.3,5.8l.4-6.2l.9,10.2l.5-2l.6-10l.1,9.7l.3-7l1.2,.2l.2,8.5l.6-9l.2,9.5l.4-2.1l.7-8.8l1.1,9.9l.1-11.5l.3,2.8v7.7l1.2-8l.5,9.2l.5-9.5l.6,8.6l.2-.8l.1-7.6l1.1,8.2l.1-7.1l1-1l.3,9.5l.4-9.9l.2,10.2l.9-9.6l.1,10.2l.6-.2l.9-10l.4,0v9.2l1.2-7.9l.3,5.4l.8-8l.1,10.4l.3-.4l.2-8.7l1,1l.5,7l.4,2.9l.3-10.3l.9-.9l.3,9l1,.1l.4-8.6l.1-.4l.6,8.4l1.3-8.4v11.1v-3.3l.9-7.8l.8,7l.2-7.2l.4,1l.5,6.2l.4,.9l.4-7.2l.6,7.9l.7-10.1l.2,11.9l.1-9.4l.8,7l.1-7.2l1.5-1.1l.4,10.4l.4-10.6l.2,9.4l.8,.8v-8.6l.8,.4l.1,8.8l.8-10.7l.6,7.4l.3-6l.5,9.1l.8-10l.3,7.2l.5-7.2l.7,8.3l.4-.5l.2-6.5l1.4,7l.1-7.6l.4,8l.4-7.4l1,6l.3-6.8l.1,.8l.9,9.1v-1.5l.8-11.6l.2,1.9l.3,10l1.1,.1l.3-8.7l.4,6.4l.3-5.4l.8,5.7l.2-8.5l.6,10.1l.6-10.3l.4,1.1l.4,9.4l.8-.5l.7-6.7l.5-1.3l.5,10.1l.7-3.8v-8.1l.8,2l.2,8l.6-7.9v8.7l1.1,2.6l.1-14.5l1.2,1.2l.2,7.2l1-5.8l.1,8.3l.3-2.1l.3-6.1l.8-1.7l.7,9.2l.4-7.5l.1,6.6l1.1-.6l.2-6.4l.5,.3l.6,9.7l.3-9.7l.8,9.4l.4-1.7l.4-8.7l.4,2l.2,7.1l1.2,1l.3-8.7l.6-1.1l.3,10.3l.2-11.4l.4,10.7l1.1,0l.4-7.5l.2-1.3l.8,7.8l.9,3.7l.1-12.1l.3,12l.5-10.9l.5,6.7l.5-7.1l.6,8.6l.5-10.3l.2,2.5l.5,6.6l.7,1.7l.3-10.7l.6,9.6l.8-9.4l.1,9.4v-8.8l1.4,9.4l.5-10.2l.4-1.3l.3,9.7l.6,1.6v-12l.9,11.3l.6-8.2l.3,8.9l1-9.4l.6,.1l.2,9.7l.6-1.2l.4-7l.5,10.8l.1-14.4l1,10.3l.3-6.3l.8,6l.3-8.4l.6,8.8l.4-6.7l.3,7.3l.2-9.3l1.5,10.3l.2-8.9l.8-1.2l.2,8.9l.4-8.7l.5,6.5l.5-5.8l.3,8.2l.5-7.8l.3,5.5l.7,1.7l.3-8.3l.7-.7l.4,8.9l.6,.4l.3-8.5l.6,11.2l.1-10.4l.9,8.4l.2-9.9l.8-1.3l.6,11.5l.9-1.3l.1-7.9l.3,1l.4,8.8l.6-9.9l.1,7.5l1.2-7.9l.6,8.6l.3,.9l.6-9.8l.7,9.4l.2-8.1l.4-1.1l.1,7.8l.8,1.3l.7-9l1.1-1.1l.2,12.5l.4-2.3l.6-9.8l.5,9l.3-7.5l.3-2.5l.4,9.5l.8,1.5l.6-9l.5,.7l.4,7.3l.5,.6l.5-8l.7,1.7l.4,5.8l.6-7l.2,7.4l.6-.4l.5-6.7l.6,6.4l.2-8.5l.4-.3l1,8.7l.1-9l.3,11.1l.6-.7l.7-8.5l.6,7.4l.5-7.3l.2,7.7l.3-7.6l1,.1l.3,6.9l.7-8l.6,8l.4,2.6v-9.3l1-3.1l.7,10.6l.5-1.6v-7.4l.7,8.2l.6-8l.5,8.2l.5-8.2l.7,6.7l.5-6.8l.2,9.3l.4-7.1l1.2,5.6l.1-8l.5,.1l.2,7.7l.5,1.5v-7.2l1.3,7.1l.4-8.8l.4,10.2l.6-9.3l.8-2.8l.3,9.6l.1-7.1l.6,7.6l.7-.5l.6-8.2l.2,8.3l.8-7.2l.9,6.4l.1-6.5l.5-.4l.4,7.8l.3-8.1l.4,9.4l.7-9.2l.8,8.4l.1-10l.4,9.8l.7,.2l.3-9.7l.7,1.8l.5,8l.9,1.3l.3-10.1l.3-.3l.5,8.3l.9-1.7l.2-7.5l.8,8.2l.3-7.5l.7,7.2l.4-7.6l.7,10.3l.2-10.3l1,1.5l.1,8.6v-1.1l.4-7.1l1.2-1.7l.4,11.1l.5-2.2v-7.2l.7,8.8l.7-7.8l.5-1.7l.1,11.2l1-.7l.5-9.7l.6,7.5l.3-9.5l.2,2.5l.6,8.4l.4,.5l.1-11.1l.8,.9l.8,9.4l.5-.6l.7-7.2l.2,7.7l.2-8.6l1.2,1.5l.4,6.4l.6-8.6v9.9"/>
</g>
<path class="k" d="M1940.50,554.50h-8.3M1940.50,543.50h-8.3M1940.50,533.50h-8.3M1940.50,524.50h-11.1M1940.50,466.50h-8.3M1940.50,433.50h-8.3M1940.50,409.50h-8.3M1940.50,390.50h-8.3M1940.50,375.50h-8.3M1940.50,362.50h-8.3M1940.50,351.50h-8.3M1940.50,341.50h-8.3M1940.50,333.50h-11.1M1940.50,275.50h-8.3M1940.50,241.50h-8.3M1940.50,217.50h-8.3M1940.50,199.50h-8.3M1940.50,184.50h-8.3M1940.50,171.50h-8.3M1940.50,160.50h-8.3M1940.50,150.50h-8.3M1940.50,141.50h-11.1M1940.50,84.50h-8.3M1940.50,50.50h-8.3"/>
<rect class="k" x="100.50" y="37.50" width="1840.00" height="524.00"/>
<text class="t15" text-anchor="middle" textLength="59" lengthAdjust="spacing" x="100.25" y="582">00:00</text>
<text class="t15" text-anchor="middle" x="100.50" y="605">May 02</text>
<text class="t15" text-anchor="middle" textLength="59" lengthAdjust="spacing" x="304.69" y="582">08:00</text>
<text class="t15" text-anchor="middle" textLength="59" lengthAdjust="spacing" x="509.14" y="582">16:00</text>
<text class="t15" text-anchor="middle" textLength="59" lengthAdjust="spacing" x="713.58" y="582">00:00</text>
<text class="t15" text-anchor="middle" x="713.83" y="605">May 03</text>
<text class="t15" text-anchor="middle" textLength="59" lengthAdjust="spacing" x="918.03" y="582">08:00</text>
<text class="t15" text-anchor="middle" textLength="59" lengthAdjust="spacing" x="1122.47" y="582">16:00</text>
<text class="t15" text-anchor="middle" textLength="59" lengthAdjust="spacing" x="1326.92" y="582">00:00</text>
<text class="t15" text-anchor="middle" x="1327.17" y="605">May 04</text>
<text class="t15" text-anchor="middle" textLength="59" lengthAdjust="spacing" x="1531.36" y="582">08:00</text>
<text class="t15" text-anchor="middle" textLength="59" lengthAdjust="spacing" x="1735.81" y="582">16:00</text>
<text class="t15" text-anchor="middle" textLength="59" lengthAdjust="spacing" x="1940.25" y="582">00:00</text>
<text class="t15" text-anchor="middle" x="1940.50" y="605">May 05</text>
<text class="t15" x="58.9" y="532.80">10<tspan class="sup" dy="-8.25">0</tspan></text>
<text class="t15" x="1945.7" y="532.80">10<tspan class="sup" dy="-8.25">0</tspan></text>
<text class="t15" x="58.9" y="341.40">10<tspan class="sup" dy="-8.25">1</tspan></text>
<text class="t15" x="1945.7" y="341.40">10<tspan class="sup" dy="-8.25">1</tspan></text>
<text class="t15" x="58.9" y="150.70">10<tspan class="sup" dy="-8.25">2</tspan></text>
<text class="t15" x="1945.7" y="150.70">10<tspan class="sup" dy="-8.25">2</tspan></text>
<text class="t15" text-anchor="middle" x="1020.45" y="631">Time (UTC)</text>
<text class="t15" text-anchor="middle" transform="translate(49.1,302.3) rotate(-90)">Counts</text>
<text class="t12" text-anchor="middle" transform="translate(1020.4,29) scale(1,1.085)">Stix QuickLook</text>
<text class="t11" text-anchor="end" x="1918.7" y="550">SolarMonitor.org : 25-May-2025 00:31 UTC</text>
<rect x="1676.4" y="44.3" width="257.1" height="66.8" rx="2.8" ry="2.8" fill="#fff" fill-opacity="0.8" stroke="#ccc" stroke-opacity="0.8" stroke-width="1.39"/>
<line x1="1682.0" x2="1709.8" y1="56.0" y2="56.0" stroke="#1f77b4" stroke-width="2.083" stroke-linecap="square"/>
<text class="t10" x="1720.9" y="60.8">4-10 keV</text>
<line x1="1682.0" x2="1709.8" y1="77.0" y2="77.0" stroke="#ff7f0e" stroke-width="2.083" stroke-linecap="square"/>
<text class="t10" x="1720.9" y="81.8">10-15 keV</text>
<line x1="1682.0" x2="1709.8" y1="98.0" y2="98.0" stroke="#2ca02c" stroke-width="2.083" stroke-linecap="square"/>
<text class="t10" x="1720.9" y="102.8">15-25 keV</text>
<line x1="1818.6" x2="1846.4" y1="56.0" y2="56.0" stroke="#d62728" stroke-width="2.083" stroke-linecap="square"/>
<text class="t10" x="1857.8" y="60.8">25-50 keV</text>
<line x1="1818.6" x2="1846.4" y1="77.0" y2="77.0" stroke="#9467bd" stroke-width="2.083" stroke-linecap="square"/>
<text class="t10" x="1857.8" y="81.8">50-84 keV</text>
</svg></body></html>
